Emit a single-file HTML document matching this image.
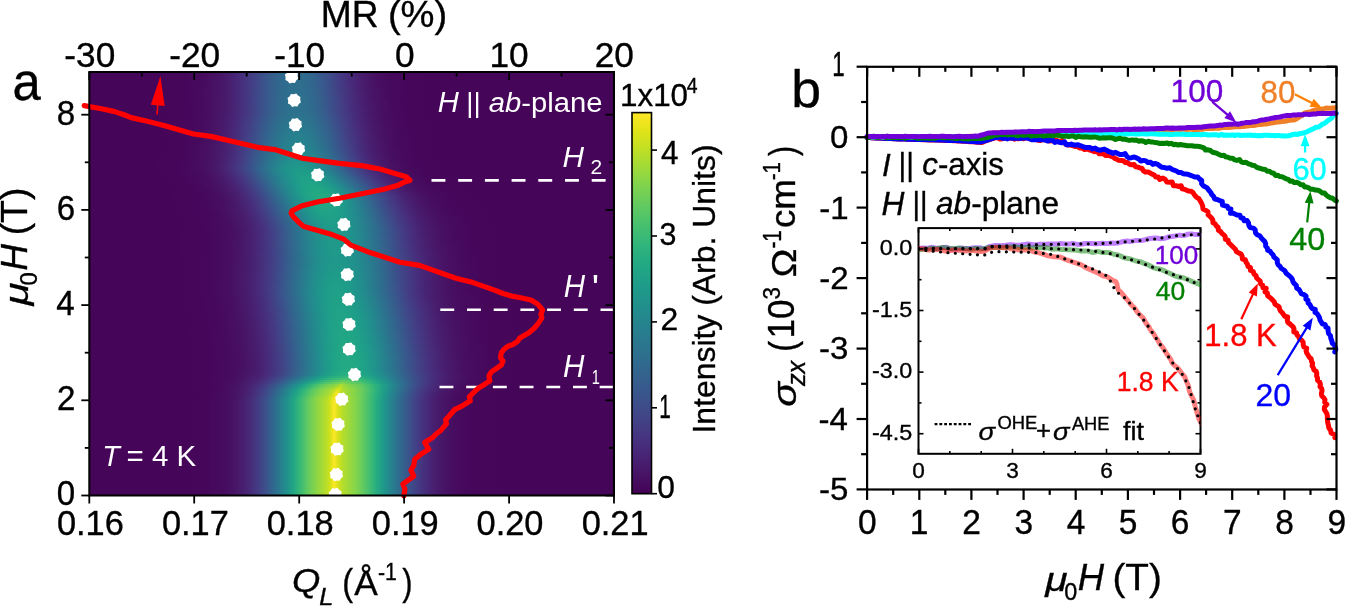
<!DOCTYPE html>
<html><head><meta charset="utf-8"><title>figure</title>
<style>html,body{margin:0;padding:0;background:#fff;}#wrap{position:relative;width:1345px;height:606px;overflow:hidden;background:#fff;}svg{position:absolute;left:0;top:0;}</style>
</head><body><div id="wrap">
<div style="position:absolute;left:89.3px;top:72.0px;width:524.7px;height:3.6px;background:linear-gradient(90deg,#450559 0.0px,#450559 73.8px,#46075a 80.8px,#46075a 94.8px,#46085c 101.8px,#460a5d 108.8px,#460b5e 115.8px,#470d60 120.0px,#470e61 122.8px,#481467 129.8px,#481a6c 136.8px,#482173 143.8px,#472a7a 150.0px,#472c7a 150.8px,#453581 157.8px,#424186 164.8px,#3d4d8a 171.8px,#38588c 178.8px,#375a8c 180.0px,#34618d 185.8px,#32658e 189.8px,#30698e 193.8px,#2f6b8e 197.8px,#2e6d8e 201.8px,#2e6e8e 205.8px,#2e6d8e 209.8px,#2e6d8e 210.0px,#2f6b8e 213.8px,#30698e 217.8px,#32658e 221.8px,#34618d 225.8px,#34608d 226.8px,#39568c 233.8px,#3d4d8a 240.0px,#3e4c8a 240.8px,#424086 247.8px,#463480 254.8px,#482979 261.8px,#482071 268.8px,#481f70 270.0px,#481a6c 275.8px,#471365 282.8px,#470e61 289.8px,#460b5e 296.8px,#460a5d 300.0px,#46085c 303.8px,#46085c 310.8px,#46075a 317.8px,#46075a 331.8px,#450559 338.8px,#450559 524.7px)"></div>
<div style="position:absolute;left:89.3px;top:75.0px;width:524.7px;height:3.6px;background:linear-gradient(90deg,#450559 0.0px,#450559 73.9px,#46075a 80.9px,#46075a 94.9px,#46085c 101.9px,#460a5d 108.9px,#460b5e 115.9px,#470e61 120.0px,#471063 122.9px,#481467 129.9px,#481a6c 136.9px,#482173 143.9px,#472a7a 150.0px,#472c7a 150.9px,#453781 157.9px,#424186 164.9px,#3d4e8a 171.9px,#38598c 178.9px,#375a8c 180.0px,#34618d 185.9px,#31668e 189.9px,#30698e 193.9px,#2f6c8e 197.9px,#2e6d8e 201.9px,#2e6e8e 205.9px,#2e6d8e 209.9px,#2e6d8e 210.0px,#2f6c8e 213.9px,#30698e 217.9px,#31668e 221.9px,#33628d 225.9px,#34608d 226.9px,#39568c 233.9px,#3d4d8a 240.0px,#3e4c8a 240.9px,#424086 247.9px,#463480 254.9px,#472a7a 261.9px,#482071 268.9px,#481f70 270.0px,#481a6c 275.9px,#471365 282.9px,#470e61 289.9px,#460b5e 296.9px,#460a5d 300.0px,#460a5d 303.9px,#46085c 310.9px,#46075a 317.9px,#46075a 331.9px,#450559 338.9px,#450559 524.7px)"></div>
<div style="position:absolute;left:89.3px;top:78.0px;width:524.7px;height:3.6px;background:linear-gradient(90deg,#450559 0.0px,#450559 74.1px,#46075a 81.1px,#46075a 95.1px,#46085c 102.1px,#460a5d 109.1px,#460b5e 116.1px,#470e61 120.0px,#471063 123.1px,#481467 130.1px,#481b6d 137.1px,#482374 144.1px,#472a7a 150.0px,#472c7a 151.1px,#453781 158.1px,#414287 165.1px,#3d4e8a 172.1px,#38598c 179.1px,#375a8c 180.0px,#33628d 186.1px,#31668e 190.1px,#306a8e 194.1px,#2f6c8e 198.1px,#2e6e8e 202.1px,#2e6e8e 210.1px,#2f6c8e 214.1px,#306a8e 218.1px,#31668e 222.1px,#33628d 226.1px,#34618d 227.1px,#38588c 234.1px,#3d4e8a 240.0px,#3e4c8a 241.1px,#424086 248.1px,#463480 255.1px,#472a7a 262.1px,#482173 269.1px,#482071 270.0px,#481a6c 276.1px,#471365 283.1px,#470e61 290.1px,#460b5e 297.1px,#460a5d 300.0px,#460a5d 304.1px,#46085c 311.1px,#46075a 318.1px,#46075a 332.1px,#450559 339.1px,#450559 524.7px)"></div>
<div style="position:absolute;left:89.3px;top:81.0px;width:524.7px;height:3.6px;background:linear-gradient(90deg,#450559 0.0px,#450559 74.2px,#46075a 81.2px,#46075a 95.2px,#46085c 102.2px,#460a5d 109.2px,#460b5e 116.2px,#470e61 120.0px,#471063 123.2px,#481467 130.2px,#481b6d 137.2px,#482374 144.2px,#472a7a 150.0px,#472c7a 151.2px,#453781 158.2px,#414287 165.2px,#3d4e8a 172.2px,#38598c 179.2px,#375a8c 180.0px,#33628d 186.2px,#31678e 190.2px,#306a8e 194.2px,#2e6d8e 198.2px,#2e6e8e 202.2px,#2e6f8e 206.2px,#2e6e8e 210.0px,#2e6e8e 210.2px,#2e6d8e 214.2px,#306a8e 218.2px,#31678e 222.2px,#33628d 226.2px,#34618d 227.2px,#38588c 234.2px,#3c4f8a 240.0px,#3d4d8a 241.2px,#424186 248.2px,#453581 255.2px,#472a7a 262.2px,#482173 269.2px,#482071 270.0px,#481a6c 276.2px,#481467 283.2px,#470e61 290.2px,#460b5e 297.2px,#460a5d 300.0px,#460a5d 304.2px,#46085c 311.2px,#46075a 318.2px,#46075a 332.2px,#450559 339.2px,#450559 524.7px)"></div>
<div style="position:absolute;left:89.3px;top:84.0px;width:524.7px;height:3.6px;background:linear-gradient(90deg,#450559 0.0px,#450559 74.4px,#46075a 81.4px,#46075a 95.4px,#46085c 102.4px,#460a5d 109.4px,#460b5e 116.4px,#470e61 120.0px,#471063 123.4px,#481467 130.4px,#481b6d 137.4px,#482374 144.4px,#472a7a 150.0px,#472d7b 151.4px,#453781 158.4px,#414287 165.4px,#3c4f8a 172.4px,#375a8c 179.4px,#375b8d 180.0px,#33638d 186.4px,#31678e 190.4px,#306a8e 194.4px,#2e6d8e 198.4px,#2e6f8e 202.4px,#2e6f8e 210.4px,#2e6d8e 214.4px,#306a8e 218.4px,#31678e 222.4px,#33638d 226.4px,#34618d 227.4px,#38588c 234.4px,#3c4f8a 240.0px,#3d4d8a 241.4px,#424186 248.4px,#453581 255.4px,#472a7a 262.4px,#482173 269.4px,#482173 270.0px,#481a6c 276.4px,#481467 283.4px,#470e61 290.4px,#460b5e 297.4px,#460b5e 300.0px,#460a5d 304.4px,#46085c 311.4px,#46075a 318.4px,#46075a 332.4px,#450559 339.4px,#450559 524.7px)"></div>
<div style="position:absolute;left:89.3px;top:87.0px;width:524.7px;height:3.6px;background:linear-gradient(90deg,#450559 0.0px,#450559 74.5px,#46075a 81.5px,#46075a 95.5px,#46085c 102.5px,#460a5d 109.5px,#470d60 116.5px,#470e61 120.0px,#471063 123.5px,#481467 130.5px,#481b6d 137.5px,#482374 144.5px,#472a7a 150.0px,#472d7b 151.5px,#453882 158.5px,#414487 165.5px,#3c4f8a 172.5px,#375a8c 179.5px,#375b8d 180.0px,#33638d 186.5px,#31678e 190.5px,#2f6b8e 194.5px,#2e6d8e 198.5px,#2e6f8e 202.5px,#2e6f8e 210.5px,#2e6d8e 214.5px,#2f6b8e 218.5px,#31678e 222.5px,#33638d 226.5px,#33628d 227.5px,#38598c 234.5px,#3c508b 240.0px,#3d4e8a 241.5px,#424186 248.5px,#453581 255.5px,#472c7a 262.5px,#482173 269.5px,#482173 270.0px,#481a6c 276.5px,#481467 283.5px,#471063 290.5px,#460b5e 297.5px,#460b5e 300.0px,#460a5d 304.5px,#46085c 311.5px,#46075a 318.5px,#46075a 332.5px,#450559 339.5px,#450559 524.7px)"></div>
<div style="position:absolute;left:89.3px;top:90.0px;width:524.7px;height:3.6px;background:linear-gradient(90deg,#450559 0.0px,#450559 74.7px,#46075a 81.7px,#46075a 95.7px,#46085c 102.7px,#460a5d 109.7px,#470d60 116.7px,#470e61 120.0px,#471063 123.7px,#481668 130.7px,#481b6d 137.7px,#482475 144.7px,#472a7a 150.0px,#472d7b 151.7px,#453882 158.7px,#414487 165.7px,#3c4f8a 172.7px,#375a8c 179.7px,#375b8d 180.0px,#33638d 186.7px,#31688e 190.7px,#2f6b8e 194.7px,#2e6e8e 198.7px,#2e6f8e 202.7px,#2d708e 206.7px,#2d708e 210.0px,#2e6f8e 210.7px,#2e6e8e 214.7px,#2f6b8e 218.7px,#31688e 222.7px,#33638d 226.7px,#33628d 227.7px,#38598c 234.7px,#3c508b 240.0px,#3d4e8a 241.7px,#424186 248.7px,#453781 255.7px,#472c7a 262.7px,#482374 269.7px,#482173 270.0px,#481b6d 276.7px,#481467 283.7px,#471063 290.7px,#460b5e 297.7px,#460b5e 300.0px,#460a5d 304.7px,#46085c 311.7px,#46075a 318.7px,#46075a 332.7px,#450559 339.7px,#450559 524.7px)"></div>
<div style="position:absolute;left:89.3px;top:93.0px;width:524.7px;height:3.6px;background:linear-gradient(90deg,#450559 0.0px,#450559 74.8px,#46075a 81.8px,#46075a 95.8px,#46085c 102.8px,#460a5d 109.8px,#470d60 116.8px,#470e61 120.0px,#471063 123.8px,#481668 130.8px,#481b6d 137.8px,#482475 144.8px,#472a7a 150.0px,#472d7b 151.8px,#453882 158.8px,#414487 165.8px,#3c508b 172.8px,#375b8d 179.8px,#375b8d 180.0px,#32648e 186.8px,#31688e 190.8px,#2f6c8e 194.8px,#2e6e8e 198.8px,#2d708e 202.8px,#2d708e 210.8px,#2e6e8e 214.8px,#2f6c8e 218.8px,#31688e 222.8px,#32648e 226.8px,#33638d 227.8px,#38598c 234.8px,#3b518b 240.0px,#3d4e8a 241.8px,#414287 248.8px,#453781 255.8px,#472c7a 262.8px,#482374 269.8px,#482374 270.0px,#481b6d 276.8px,#481467 283.8px,#471063 290.8px,#460b5e 297.8px,#460b5e 300.0px,#460a5d 304.8px,#46085c 311.8px,#46075a 318.8px,#46075a 332.8px,#450559 339.8px,#450559 524.7px)"></div>
<div style="position:absolute;left:89.3px;top:96.0px;width:524.7px;height:3.6px;background:linear-gradient(90deg,#450559 0.0px,#450559 75.0px,#46075a 82.0px,#46075a 96.0px,#46085c 103.0px,#460a5d 110.0px,#470d60 117.0px,#470e61 120.0px,#471063 124.0px,#481668 131.0px,#481c6e 138.0px,#482475 145.0px,#472a7a 150.0px,#472e7c 152.0px,#443983 159.0px,#404588 166.0px,#3c508b 173.0px,#375b8d 180.0px,#32648e 187.0px,#31688e 191.0px,#2f6c8e 195.0px,#2e6f8e 199.0px,#2d708e 203.0px,#2d718e 207.0px,#2d708e 210.0px,#2d708e 211.0px,#2e6f8e 215.0px,#2f6c8e 219.0px,#31688e 223.0px,#32648e 227.0px,#33638d 228.0px,#375a8c 235.0px,#3b528b 240.0px,#3c4f8a 242.0px,#414287 249.0px,#453781 256.0px,#472c7a 263.0px,#482374 270.0px,#481b6d 277.0px,#481467 284.0px,#471063 291.0px,#460b5e 298.0px,#460b5e 300.0px,#460a5d 305.0px,#46085c 312.0px,#46075a 319.0px,#46075a 333.0px,#450559 340.0px,#450559 524.7px)"></div>
<div style="position:absolute;left:89.3px;top:99.0px;width:524.7px;height:3.6px;background:linear-gradient(90deg,#450559 0.0px,#450559 75.1px,#46075a 82.1px,#46075a 96.1px,#46085c 103.1px,#460a5d 110.1px,#470d60 117.1px,#470e61 120.0px,#471063 124.1px,#481668 131.1px,#481c6e 138.1px,#482475 145.1px,#472a7a 150.0px,#472e7c 152.1px,#443983 159.1px,#404588 166.1px,#3c508b 173.1px,#375b8d 180.0px,#365c8d 180.1px,#32658e 187.1px,#30698e 191.1px,#2f6c8e 195.1px,#2e6f8e 199.1px,#2d708e 203.1px,#2d718e 207.1px,#2d718e 210.0px,#2d708e 211.1px,#2e6f8e 215.1px,#2f6c8e 219.1px,#30698e 223.1px,#32658e 227.1px,#33638d 228.1px,#375a8c 235.1px,#3b528b 240.0px,#3c4f8a 242.1px,#414487 249.1px,#453882 256.1px,#472d7b 263.1px,#482374 270.0px,#482374 270.1px,#481b6d 277.1px,#481467 284.1px,#471063 291.1px,#470d60 298.1px,#460b5e 300.0px,#460a5d 305.1px,#46085c 312.1px,#46075a 319.1px,#46075a 333.1px,#450559 340.1px,#450559 524.7px)"></div>
<div style="position:absolute;left:89.3px;top:102.0px;width:524.7px;height:3.6px;background:linear-gradient(90deg,#450559 0.0px,#450559 75.3px,#46075a 82.3px,#46075a 96.3px,#46085c 103.3px,#460a5d 110.3px,#470d60 117.3px,#470e61 120.0px,#471164 124.3px,#481668 131.3px,#481c6e 138.3px,#482475 145.3px,#472a7a 150.0px,#472e7c 152.3px,#443983 159.3px,#404588 166.3px,#3b518b 173.3px,#365c8d 180.0px,#365c8d 180.3px,#32658e 187.3px,#30698e 191.3px,#2e6d8e 195.3px,#2e6f8e 199.3px,#2d718e 203.3px,#2d718e 211.3px,#2e6f8e 215.3px,#2e6d8e 219.3px,#30698e 223.3px,#32658e 227.3px,#32648e 228.3px,#375a8c 235.3px,#3a538b 240.0px,#3c4f8a 242.3px,#414487 249.3px,#453882 256.3px,#472d7b 263.3px,#482475 270.0px,#482374 270.3px,#481b6d 277.3px,#481668 284.3px,#471063 291.3px,#470d60 298.3px,#460b5e 300.0px,#460a5d 305.3px,#46085c 312.3px,#46075a 319.3px,#46075a 333.3px,#450559 340.3px,#450559 524.7px)"></div>
<div style="position:absolute;left:89.3px;top:105.0px;width:524.7px;height:3.6px;background:linear-gradient(90deg,#450559 0.0px,#450559 75.4px,#46075a 82.4px,#46075a 96.4px,#46085c 103.4px,#460a5d 110.4px,#470d60 117.4px,#470e61 120.0px,#471164 124.4px,#481668 131.4px,#481c6e 138.4px,#482576 145.4px,#472c7a 150.0px,#472e7c 152.4px,#443a83 159.4px,#404688 166.4px,#3b518b 173.4px,#365c8d 180.0px,#365c8d 180.4px,#32658e 187.4px,#306a8e 191.4px,#2e6d8e 195.4px,#2d708e 199.4px,#2d718e 203.4px,#2c718e 207.4px,#2c718e 210.0px,#2d718e 211.4px,#2d708e 215.4px,#2e6d8e 219.4px,#306a8e 223.4px,#32658e 227.4px,#32648e 228.4px,#375b8d 235.4px,#3a538b 240.0px,#3c508b 242.4px,#414487 249.4px,#453882 256.4px,#472d7b 263.4px,#482475 270.0px,#482475 270.4px,#481b6d 277.4px,#481668 284.4px,#471063 291.4px,#470d60 298.4px,#460b5e 300.0px,#460a5d 305.4px,#46085c 312.4px,#46075a 319.4px,#46075a 333.4px,#450559 340.4px,#450559 524.7px)"></div>
<div style="position:absolute;left:89.3px;top:108.0px;width:524.7px;height:3.6px;background:linear-gradient(90deg,#450559 0.0px,#450559 75.6px,#46075a 82.6px,#46075a 96.6px,#46085c 103.6px,#460a5d 110.6px,#470d60 117.6px,#470e61 120.0px,#471164 124.6px,#481668 131.6px,#481c6e 138.6px,#482576 145.6px,#472c7a 150.0px,#472f7d 152.6px,#443a83 159.6px,#404688 166.6px,#3b528b 173.6px,#365c8d 180.0px,#365d8d 180.6px,#31668e 187.6px,#306a8e 191.6px,#2e6d8e 195.6px,#2d708e 199.6px,#2c718e 203.6px,#2c718e 211.6px,#2d708e 215.6px,#2e6d8e 219.6px,#306a8e 223.6px,#31668e 227.6px,#32648e 228.6px,#375b8d 235.6px,#3a548c 240.0px,#3c508b 242.6px,#414487 249.6px,#453882 256.6px,#472d7b 263.6px,#482475 270.0px,#482475 270.6px,#481c6e 277.6px,#481668 284.6px,#471063 291.6px,#470d60 298.6px,#460b5e 300.0px,#460a5d 305.6px,#46085c 312.6px,#46075a 319.6px,#46075a 333.6px,#450559 340.6px,#450559 524.7px)"></div>
<div style="position:absolute;left:89.3px;top:111.0px;width:524.7px;height:3.6px;background:linear-gradient(90deg,#450559 0.0px,#450559 68.7px,#46075a 75.7px,#46075a 96.7px,#46085c 103.7px,#460a5d 110.7px,#470d60 117.7px,#470e61 120.0px,#471164 124.7px,#481769 131.7px,#481d6f 138.7px,#482576 145.7px,#472c7a 150.0px,#472f7d 152.7px,#443a83 159.7px,#404688 166.7px,#3b528b 173.7px,#365c8d 180.0px,#365d8d 180.7px,#31668e 187.7px,#2f6b8e 191.7px,#2e6e8e 195.7px,#2d718e 199.7px,#2c718e 203.7px,#2c728e 207.7px,#2c728e 210.0px,#2c718e 211.7px,#2d718e 215.7px,#2e6e8e 219.7px,#2f6b8e 223.7px,#31668e 227.7px,#32658e 228.7px,#365c8d 235.7px,#39558c 240.0px,#3b518b 242.7px,#404588 249.7px,#443983 256.7px,#472e7c 263.7px,#482576 270.0px,#482475 270.7px,#481c6e 277.7px,#481668 284.7px,#471063 291.7px,#470d60 298.7px,#460b5e 300.0px,#460a5d 305.7px,#46085c 312.7px,#46075a 319.7px,#46075a 333.7px,#450559 340.7px,#450559 524.7px)"></div>
<div style="position:absolute;left:89.3px;top:114.0px;width:524.7px;height:3.6px;background:linear-gradient(90deg,#450559 0.0px,#450559 68.8px,#46075a 75.8px,#46075a 96.8px,#46085c 103.8px,#460a5d 110.8px,#470d60 117.8px,#470e61 120.0px,#471164 124.8px,#481769 131.8px,#481d6f 138.8px,#482677 145.8px,#472c7a 150.0px,#46307e 152.8px,#443b84 159.8px,#3f4889 166.8px,#3a538b 173.8px,#355e8d 180.0px,#355f8d 180.8px,#31688e 187.8px,#2f6c8e 191.8px,#2d708e 195.8px,#2c718e 199.8px,#2c738e 203.8px,#2b748e 207.8px,#2c738e 210.0px,#2c738e 211.8px,#2c718e 215.8px,#2d708e 219.8px,#2f6c8e 223.8px,#31688e 227.8px,#31678e 228.8px,#365d8d 235.8px,#39568c 240.0px,#3b528b 242.8px,#404688 249.8px,#443a83 256.8px,#472f7d 263.8px,#482576 270.0px,#482576 270.8px,#481c6e 277.8px,#481668 284.8px,#471164 291.8px,#470d60 298.8px,#470d60 300.0px,#460a5d 305.8px,#46085c 312.8px,#46075a 319.8px,#46075a 333.8px,#450559 340.8px,#450559 524.7px)"></div>
<div style="position:absolute;left:89.3px;top:117.0px;width:524.7px;height:3.6px;background:linear-gradient(90deg,#450559 0.0px,#450559 68.9px,#46075a 75.9px,#46075a 96.9px,#46085c 103.9px,#460b5e 110.9px,#470d60 117.9px,#470e61 120.0px,#471164 124.9px,#481769 131.9px,#481f70 138.9px,#482677 145.9px,#472d7b 150.0px,#46327e 152.9px,#433d84 159.9px,#3e4989 166.9px,#39558c 173.9px,#355f8d 180.0px,#34608d 180.9px,#306a8e 187.9px,#2e6e8e 191.9px,#2c718e 195.9px,#2c738e 199.9px,#2b758e 203.9px,#2b758e 211.9px,#2c738e 215.9px,#2c718e 219.9px,#2e6e8e 223.9px,#30698e 227.9px,#31688e 228.9px,#355f8d 235.9px,#38598c 240.0px,#3a538b 242.9px,#3f4788 249.9px,#443b84 256.9px,#472f7d 263.9px,#482677 270.0px,#482576 270.9px,#481d6f 277.9px,#481769 284.9px,#471164 291.9px,#470d60 298.9px,#470d60 300.0px,#460a5d 305.9px,#46085c 312.9px,#46075a 319.9px,#46075a 340.9px,#450559 347.9px,#450559 524.7px)"></div>
<div style="position:absolute;left:89.3px;top:120.0px;width:524.7px;height:3.6px;background:linear-gradient(90deg,#450559 0.0px,#450559 68.9px,#46075a 75.9px,#46075a 96.9px,#46085c 103.9px,#460b5e 110.9px,#470e61 117.9px,#470e61 120.0px,#471365 124.9px,#48186a 131.9px,#481f70 138.9px,#482878 145.9px,#472e7c 150.0px,#46327e 152.9px,#433e85 159.9px,#3e4a89 166.9px,#39568c 173.9px,#34608d 180.0px,#33628d 180.9px,#2f6b8e 187.9px,#2d708e 191.9px,#2c728e 195.9px,#2b758e 199.9px,#2a778e 203.9px,#2a778e 211.9px,#2b758e 215.9px,#2c728e 219.9px,#2d708e 223.9px,#2f6b8e 227.9px,#306a8e 228.9px,#34608d 235.9px,#375a8c 240.0px,#3a548c 242.9px,#3f4889 249.9px,#433d84 256.9px,#46307e 263.9px,#482878 270.0px,#482677 270.9px,#481d6f 277.9px,#481769 284.9px,#471164 291.9px,#470d60 298.9px,#470d60 300.0px,#460a5d 305.9px,#46085c 312.9px,#46075a 319.9px,#46075a 340.9px,#450559 347.9px,#450559 524.7px)"></div>
<div style="position:absolute;left:89.3px;top:123.0px;width:524.7px;height:3.6px;background:linear-gradient(90deg,#450559 0.0px,#450559 69.0px,#46075a 76.0px,#46075a 90.0px,#46085c 97.0px,#46085c 104.0px,#460b5e 111.0px,#470e61 118.0px,#471063 120.0px,#471365 125.0px,#48186a 132.0px,#481f70 139.0px,#482878 146.0px,#472e7c 150.0px,#46337f 153.0px,#423f85 160.0px,#3e4c8a 167.0px,#38588c 174.0px,#33628d 180.0px,#33638d 181.0px,#2e6d8e 188.0px,#2d718e 192.0px,#2b748e 196.0px,#2a778e 200.0px,#29798e 204.0px,#29798e 212.0px,#2a778e 216.0px,#2b748e 220.0px,#2d718e 224.0px,#2e6d8e 228.0px,#2f6c8e 229.0px,#33628d 236.0px,#375b8d 240.0px,#39568c 243.0px,#3e4989 250.0px,#433e85 257.0px,#46327e 264.0px,#482979 270.0px,#482677 271.0px,#481f70 278.0px,#481769 285.0px,#471164 292.0px,#470d60 299.0px,#470d60 300.0px,#460b5e 306.0px,#46085c 313.0px,#46075a 320.0px,#46075a 341.0px,#450559 348.0px,#450559 524.7px)"></div>
<div style="position:absolute;left:89.3px;top:126.0px;width:524.7px;height:3.6px;background:linear-gradient(90deg,#450559 0.0px,#450559 69.1px,#46075a 76.1px,#46075a 90.1px,#46085c 97.1px,#46085c 104.1px,#460b5e 111.1px,#470e61 118.1px,#471063 120.0px,#471365 125.1px,#48186a 132.1px,#482071 139.1px,#482979 146.1px,#472f7d 150.0px,#463480 153.1px,#424086 160.1px,#3d4d8a 167.1px,#375a8c 174.1px,#33638d 180.0px,#32658e 181.1px,#2e6e8e 188.1px,#2c728e 192.1px,#2a768e 196.1px,#29798e 200.1px,#297a8e 204.1px,#297b8e 208.1px,#297b8e 210.0px,#297a8e 212.1px,#29798e 216.1px,#2a768e 220.1px,#2c728e 224.1px,#2e6e8e 228.1px,#2e6d8e 229.1px,#33638d 236.1px,#365d8d 240.0px,#38588c 243.1px,#3e4a89 250.1px,#433e85 257.1px,#46327e 264.1px,#482979 270.0px,#482878 271.1px,#481f70 278.1px,#48186a 285.1px,#471365 292.1px,#470e61 299.1px,#470d60 300.0px,#460b5e 306.1px,#46085c 313.1px,#46075a 320.1px,#46075a 341.1px,#450559 348.1px,#450559 524.7px)"></div>
<div style="position:absolute;left:89.3px;top:129.0px;width:524.7px;height:3.6px;background:linear-gradient(90deg,#450559 0.0px,#450559 69.2px,#46075a 76.2px,#46075a 90.2px,#46085c 97.2px,#460a5d 104.2px,#460b5e 111.2px,#470e61 118.2px,#471063 120.0px,#471365 125.2px,#481a6c 132.2px,#482071 139.2px,#472a7a 146.2px,#472f7d 150.0px,#453581 153.2px,#424186 160.2px,#3d4e8a 167.2px,#375b8d 174.2px,#32648e 180.0px,#31668e 181.2px,#2d708e 188.2px,#2b748e 192.2px,#2a788e 196.2px,#297a8e 200.2px,#287c8e 204.2px,#287d8e 208.2px,#287d8e 210.0px,#287c8e 212.2px,#297a8e 216.2px,#2a788e 220.2px,#2b748e 224.2px,#2d708e 228.2px,#2e6f8e 229.2px,#32658e 236.2px,#355e8d 240.0px,#38598c 243.2px,#3d4d8a 250.2px,#423f85 257.2px,#46337f 264.2px,#472a7a 270.0px,#482979 271.2px,#481f70 278.2px,#48186a 285.2px,#471365 292.2px,#470e61 299.2px,#470e61 300.0px,#460b5e 306.2px,#46085c 313.2px,#46085c 320.2px,#46075a 327.2px,#46075a 341.2px,#450559 348.2px,#450559 524.7px)"></div>
<div style="position:absolute;left:89.3px;top:132.0px;width:524.7px;height:3.6px;background:linear-gradient(90deg,#450559 0.0px,#450559 69.3px,#46075a 76.3px,#46075a 90.3px,#46085c 97.3px,#460a5d 104.3px,#460b5e 111.3px,#470e61 118.3px,#471063 120.0px,#481467 125.3px,#481a6c 132.3px,#482173 139.3px,#472a7a 146.3px,#46307e 150.0px,#453581 153.3px,#414287 160.3px,#3c4f8a 167.3px,#365c8d 174.3px,#31668e 180.0px,#31688e 181.3px,#2c718e 188.3px,#2b758e 192.3px,#29798e 196.3px,#287c8e 200.3px,#277e8e 204.3px,#277f8e 208.3px,#277e8e 210.0px,#277e8e 212.3px,#287c8e 216.3px,#29798e 220.3px,#2b758e 224.3px,#2c718e 228.3px,#2d708e 229.3px,#31668e 236.3px,#34608d 240.0px,#375a8c 243.3px,#3d4e8a 250.3px,#424086 257.3px,#463480 264.3px,#472c7a 270.0px,#482979 271.3px,#482071 278.3px,#48186a 285.3px,#471365 292.3px,#470e61 299.3px,#470e61 300.0px,#460b5e 306.3px,#46085c 313.3px,#46085c 320.3px,#46075a 327.3px,#46075a 341.3px,#450559 348.3px,#450559 524.7px)"></div>
<div style="position:absolute;left:89.3px;top:135.0px;width:524.7px;height:3.6px;background:linear-gradient(90deg,#450559 0.0px,#450559 69.3px,#46075a 76.3px,#46075a 90.3px,#46085c 97.3px,#460a5d 104.3px,#460b5e 111.3px,#470e61 118.3px,#471063 120.0px,#481467 125.3px,#481a6c 132.3px,#482173 139.3px,#472c7a 146.3px,#46327e 150.0px,#453781 153.3px,#414487 160.3px,#3c508b 167.3px,#365d8d 174.3px,#31678e 180.0px,#30698e 181.3px,#2c728e 188.3px,#2a778e 192.3px,#297b8e 196.3px,#277e8e 200.3px,#27808e 204.3px,#27808e 212.3px,#277e8e 216.3px,#297b8e 220.3px,#2a778e 224.3px,#2c728e 228.3px,#2c718e 229.3px,#31688e 236.3px,#34618d 240.0px,#365c8d 243.3px,#3c4f8a 250.3px,#424186 257.3px,#453581 264.3px,#472c7a 270.0px,#472a7a 271.3px,#482071 278.3px,#481a6c 285.3px,#471365 292.3px,#470e61 299.3px,#470e61 300.0px,#460b5e 306.3px,#460a5d 313.3px,#46085c 320.3px,#46075a 327.3px,#46075a 341.3px,#450559 348.3px,#450559 524.7px)"></div>
<div style="position:absolute;left:89.3px;top:138.0px;width:524.7px;height:3.6px;background:linear-gradient(90deg,#450559 0.0px,#450559 69.4px,#46075a 76.4px,#46075a 90.4px,#46085c 97.4px,#460a5d 104.4px,#460b5e 111.4px,#471063 118.4px,#471063 120.0px,#481467 125.4px,#481b6d 132.4px,#482374 139.4px,#472d7b 146.4px,#46327e 150.0px,#453882 153.4px,#404588 160.4px,#3b528b 167.4px,#355f8d 174.4px,#31688e 180.0px,#2f6b8e 181.4px,#2b748e 188.4px,#29798e 192.4px,#287d8e 196.4px,#27808e 200.4px,#26828e 204.4px,#26828e 212.4px,#27808e 216.4px,#287d8e 220.4px,#29798e 224.4px,#2b748e 228.4px,#2c738e 229.4px,#30698e 236.4px,#33638d 240.0px,#365d8d 243.4px,#3c508b 250.4px,#414287 257.4px,#453781 264.4px,#472d7b 270.0px,#472a7a 271.4px,#482173 278.4px,#481a6c 285.4px,#471365 292.4px,#470e61 299.4px,#470e61 300.0px,#460b5e 306.4px,#460a5d 313.4px,#46085c 320.4px,#46075a 327.4px,#46075a 341.4px,#450559 348.4px,#450559 524.7px)"></div>
<div style="position:absolute;left:89.3px;top:141.0px;width:524.7px;height:3.6px;background:linear-gradient(90deg,#450559 0.0px,#450559 69.5px,#46075a 76.5px,#46075a 90.5px,#46085c 97.5px,#460a5d 104.5px,#460b5e 111.5px,#471063 118.5px,#471063 120.0px,#481467 125.5px,#481b6d 132.5px,#482374 139.5px,#472d7b 146.5px,#46337f 150.0px,#443983 153.5px,#404688 160.5px,#3a538b 167.5px,#34608d 174.5px,#306a8e 180.0px,#2f6c8e 181.5px,#2a768e 188.5px,#297b8e 192.5px,#277f8e 196.5px,#26828e 200.5px,#26828e 204.5px,#25838e 208.5px,#25838e 210.0px,#26828e 212.5px,#26828e 216.5px,#277f8e 220.5px,#297b8e 224.5px,#2a768e 228.5px,#2b748e 229.5px,#306a8e 236.5px,#32658e 240.0px,#355e8d 243.5px,#3b518b 250.5px,#414487 257.5px,#453781 264.5px,#472e7c 270.0px,#472c7a 271.5px,#482173 278.5px,#481a6c 285.5px,#481467 292.5px,#470e61 299.5px,#470e61 300.0px,#460b5e 306.5px,#460a5d 313.5px,#46085c 320.5px,#46075a 327.5px,#46075a 341.5px,#450559 348.5px,#450559 524.7px)"></div>
<div style="position:absolute;left:89.3px;top:144.0px;width:524.7px;height:3.6px;background:linear-gradient(90deg,#450559 0.0px,#450559 69.6px,#46075a 76.6px,#46075a 90.6px,#46085c 97.6px,#460a5d 104.6px,#470d60 111.6px,#471063 118.6px,#471164 120.0px,#481668 125.6px,#481b6d 132.6px,#482475 139.6px,#472e7c 146.6px,#46337f 150.0px,#443a83 153.6px,#3f4788 160.6px,#3a548c 167.6px,#33628d 174.6px,#2f6b8e 180.0px,#2e6e8e 181.6px,#2a778e 188.6px,#287c8e 192.6px,#27808e 196.6px,#26828e 200.6px,#25848e 204.6px,#25858e 208.6px,#25858e 210.0px,#25848e 212.6px,#26828e 216.6px,#27808e 220.6px,#287c8e 224.6px,#2a778e 228.6px,#2a768e 229.6px,#2f6c8e 236.6px,#31668e 240.0px,#34608d 243.6px,#3b528b 250.6px,#404588 257.6px,#453882 264.6px,#472f7d 270.0px,#472d7b 271.6px,#482374 278.6px,#481b6d 285.6px,#481467 292.6px,#471063 299.6px,#470e61 300.0px,#460b5e 306.6px,#460a5d 313.6px,#46085c 320.6px,#46075a 327.6px,#46075a 341.6px,#450559 348.6px,#450559 524.7px)"></div>
<div style="position:absolute;left:89.3px;top:147.0px;width:524.7px;height:3.6px;background:linear-gradient(90deg,#450559 0.0px,#450559 69.7px,#46075a 76.7px,#46075a 90.7px,#46085c 97.7px,#460a5d 104.7px,#470d60 111.7px,#471063 118.7px,#471164 120.0px,#481668 125.7px,#481c6e 132.7px,#482475 139.7px,#472f7d 146.7px,#463480 150.0px,#443a83 153.7px,#3f4889 160.7px,#39558c 167.7px,#33638d 174.7px,#2f6c8e 180.0px,#2e6f8e 181.7px,#29798e 188.7px,#277e8e 192.7px,#26828e 196.7px,#25848e 200.7px,#24868e 204.7px,#24878e 208.7px,#24878e 210.0px,#24868e 212.7px,#25848e 216.7px,#26828e 220.7px,#277e8e 224.7px,#29798e 228.7px,#2a778e 229.7px,#2e6d8e 236.7px,#31688e 240.0px,#34618d 243.7px,#3a538b 250.7px,#404688 257.7px,#443983 264.7px,#472f7d 270.0px,#472d7b 271.7px,#482374 278.7px,#481b6d 285.7px,#481467 292.7px,#471063 299.7px,#471063 300.0px,#460b5e 306.7px,#460a5d 313.7px,#46085c 320.7px,#46075a 327.7px,#46075a 341.7px,#450559 348.7px,#450559 524.7px)"></div>
<div style="position:absolute;left:89.3px;top:150.0px;width:524.7px;height:2.6px;background:linear-gradient(90deg,#450559 0.0px,#450559 69.8px,#46075a 76.8px,#46075a 90.8px,#46085c 97.8px,#460a5d 104.8px,#470d60 111.8px,#471063 118.8px,#471164 120.0px,#481668 125.8px,#481c6e 132.8px,#482576 139.8px,#472f7d 146.8px,#453581 150.0px,#443b84 153.8px,#3e4989 160.8px,#39568c 167.8px,#32648e 174.8px,#2e6e8e 180.0px,#2d718e 181.8px,#297b8e 188.8px,#27808e 192.8px,#25838e 196.8px,#24868e 200.8px,#23888e 204.8px,#23898e 208.8px,#23898e 210.0px,#23888e 212.8px,#24868e 216.8px,#25838e 220.8px,#27808e 224.8px,#297b8e 228.8px,#29798e 229.8px,#2e6f8e 236.8px,#30698e 240.0px,#33628d 243.8px,#39558c 250.8px,#3f4788 257.8px,#443a83 264.8px,#46307e 270.0px,#472e7c 271.8px,#482475 278.8px,#481b6d 285.8px,#481467 292.8px,#471063 299.8px,#471063 300.0px,#470d60 306.8px,#460a5d 313.8px,#46085c 320.8px,#46075a 327.8px,#46075a 341.8px,#450559 348.8px,#450559 524.7px)"></div>
<div style="position:absolute;left:89.3px;top:152.0px;width:524.7px;height:2.6px;background:linear-gradient(90deg,#450559 0.0px,#450559 70.0px,#46075a 77.0px,#46075a 91.0px,#46085c 98.0px,#460a5d 105.0px,#470d60 112.0px,#471164 119.0px,#471164 120.0px,#481668 126.0px,#481d6f 133.0px,#482576 140.0px,#46307e 147.0px,#453581 150.0px,#433d84 154.0px,#3e4a89 161.0px,#38598c 168.0px,#31668e 175.0px,#2e6f8e 180.0px,#2c718e 182.0px,#287d8e 189.0px,#26828e 193.0px,#25858e 197.0px,#23888e 201.0px,#238a8d 205.0px,#228b8d 209.0px,#228b8d 210.0px,#238a8d 213.0px,#23888e 217.0px,#25858e 221.0px,#26828e 225.0px,#287d8e 229.0px,#297b8e 230.0px,#2d718e 237.0px,#2f6b8e 240.0px,#32648e 244.0px,#39568c 251.0px,#3f4889 258.0px,#443b84 265.0px,#46327e 270.0px,#472f7d 272.0px,#482475 279.0px,#481c6e 286.0px,#481668 293.0px,#471063 300.0px,#470d60 307.0px,#460a5d 314.0px,#46085c 321.0px,#46075a 328.0px,#46075a 342.0px,#450559 349.0px,#450559 524.7px)"></div>
<div style="position:absolute;left:89.3px;top:154.0px;width:524.7px;height:2.6px;background:linear-gradient(90deg,#450559 0.0px,#450559 63.2px,#46075a 70.2px,#46075a 91.2px,#46085c 98.2px,#460a5d 105.2px,#470d60 112.2px,#471164 119.2px,#471164 120.0px,#481769 126.2px,#481d6f 133.2px,#482677 140.2px,#46327e 147.2px,#453781 150.0px,#433e85 154.2px,#3e4c8a 161.2px,#375a8c 168.2px,#31678e 175.2px,#2d708e 180.0px,#2c738e 182.2px,#277e8e 189.2px,#25838e 193.2px,#24878e 197.2px,#238a8d 201.2px,#228c8d 205.2px,#228d8d 209.2px,#228d8d 210.0px,#228c8d 213.2px,#238a8d 217.2px,#24878e 221.2px,#25838e 225.2px,#277f8e 229.2px,#287d8e 230.2px,#2c728e 237.2px,#2e6e8e 240.0px,#31668e 244.2px,#38588c 251.2px,#3e4989 258.2px,#433d84 265.2px,#46337f 270.0px,#472f7d 272.2px,#482576 279.2px,#481c6e 286.2px,#481668 293.2px,#471164 300.0px,#471063 300.2px,#470d60 307.2px,#460a5d 314.2px,#46085c 321.2px,#46075a 328.2px,#46075a 342.2px,#450559 349.2px,#450559 524.7px)"></div>
<div style="position:absolute;left:89.3px;top:156.0px;width:524.7px;height:2.6px;background:linear-gradient(90deg,#450559 0.0px,#450559 63.4px,#46075a 70.4px,#46075a 91.4px,#46085c 98.4px,#460a5d 105.4px,#470d60 112.4px,#471164 119.4px,#471164 120.0px,#481769 126.4px,#481d6f 133.4px,#482677 140.4px,#46327e 147.4px,#453781 150.0px,#423f85 154.4px,#3d4d8a 161.4px,#375b8d 168.4px,#30698e 175.4px,#2c718e 180.0px,#2b758e 182.4px,#27808e 189.4px,#25858e 193.4px,#23898e 197.4px,#228c8d 201.4px,#218e8d 205.4px,#218f8d 209.4px,#218f8d 210.0px,#218e8d 213.4px,#228c8d 217.4px,#23898e 221.4px,#25858e 225.4px,#27808e 229.4px,#277f8e 230.4px,#2c738e 237.4px,#2d708e 240.0px,#31678e 244.4px,#375a8c 251.4px,#3e4c8a 258.4px,#433e85 265.4px,#463480 270.0px,#46307e 272.4px,#482576 279.4px,#481d6f 286.4px,#481668 293.4px,#471164 300.0px,#471164 300.4px,#470d60 307.4px,#460a5d 314.4px,#46085c 321.4px,#46075a 328.4px,#46075a 342.4px,#450559 349.4px,#450559 524.7px)"></div>
<div style="position:absolute;left:89.3px;top:158.0px;width:524.7px;height:2.6px;background:linear-gradient(90deg,#450559 0.0px,#450559 63.6px,#46075a 70.6px,#46075a 91.6px,#46085c 98.6px,#460a5d 105.6px,#470d60 112.6px,#471164 119.6px,#471164 120.0px,#481769 126.6px,#481f70 133.6px,#482878 140.6px,#46337f 147.6px,#453882 150.0px,#424086 154.6px,#3d4e8a 161.6px,#365d8d 168.6px,#2f6b8e 175.6px,#2c728e 180.0px,#2a778e 182.6px,#26828e 189.6px,#24878e 193.6px,#228b8d 197.6px,#218f8d 201.6px,#21918c 205.6px,#21918c 213.6px,#218f8d 217.6px,#228b8d 221.6px,#24878e 225.6px,#26828e 229.6px,#26818e 230.6px,#2b758e 237.6px,#2c718e 240.0px,#30698e 244.6px,#375b8d 251.6px,#3d4d8a 258.6px,#433e85 265.6px,#453781 270.0px,#46327e 272.6px,#482677 279.6px,#481d6f 286.6px,#481769 293.6px,#471164 300.0px,#471164 300.6px,#470d60 307.6px,#460a5d 314.6px,#46085c 321.6px,#46075a 328.6px,#46075a 349.6px,#450559 356.6px,#450559 524.7px)"></div>
<div style="position:absolute;left:89.3px;top:160.0px;width:524.7px;height:2.6px;background:linear-gradient(90deg,#450559 0.0px,#450559 63.9px,#46075a 70.9px,#46075a 91.9px,#46085c 98.9px,#460b5e 105.9px,#470e61 112.9px,#471365 119.9px,#471365 120.0px,#48186a 126.9px,#481f70 133.9px,#482979 140.9px,#463480 147.9px,#453882 150.0px,#424186 154.9px,#3c508b 161.9px,#355e8d 168.9px,#2f6c8e 175.9px,#2c738e 180.0px,#29798e 182.9px,#25838e 189.9px,#23898e 193.9px,#228d8d 197.9px,#21918c 201.9px,#20928c 205.9px,#20928c 213.9px,#21918c 217.9px,#228d8d 221.9px,#23898e 225.9px,#25838e 229.9px,#26828e 230.9px,#2a778e 237.9px,#2c738e 240.0px,#306a8e 244.9px,#365c8d 251.9px,#3d4e8a 258.9px,#423f85 265.9px,#453882 270.0px,#46337f 272.9px,#482878 279.9px,#481d6f 286.9px,#481769 293.9px,#471365 300.0px,#471164 300.9px,#470d60 307.9px,#460a5d 314.9px,#46085c 321.9px,#46075a 328.9px,#46075a 349.9px,#450559 356.9px,#450559 524.7px)"></div>
<div style="position:absolute;left:89.3px;top:162.0px;width:524.7px;height:2.6px;background:linear-gradient(90deg,#450559 0.0px,#450559 64.1px,#46075a 71.1px,#46075a 90.0px,#46085c 92.1px,#46085c 99.1px,#460b5e 106.1px,#470e61 113.1px,#471365 120.0px,#471365 120.1px,#48186a 127.1px,#482071 134.1px,#482979 141.1px,#453581 148.1px,#443983 150.0px,#414287 155.1px,#3b518b 162.1px,#34608d 169.1px,#2e6e8e 176.1px,#2b758e 180.0px,#297a8e 183.1px,#25858e 190.1px,#228b8d 194.1px,#218f8d 198.1px,#20928c 202.1px,#1f948c 206.1px,#1f958b 210.0px,#1f958b 210.1px,#1f948c 214.1px,#20928c 218.1px,#218f8d 222.1px,#228b8d 226.1px,#25858e 230.1px,#25848e 231.1px,#29798e 238.1px,#2b758e 240.0px,#2f6c8e 245.1px,#355e8d 252.1px,#3c4f8a 259.1px,#424186 266.1px,#443983 270.0px,#463480 273.1px,#482878 280.1px,#481f70 287.1px,#48186a 294.1px,#471365 300.0px,#471164 301.1px,#470e61 308.1px,#460b5e 315.1px,#46085c 322.1px,#46075a 329.1px,#46075a 350.1px,#450559 357.1px,#450559 524.7px)"></div>
<div style="position:absolute;left:89.3px;top:164.0px;width:524.7px;height:2.6px;background:linear-gradient(90deg,#450559 0.0px,#450559 64.3px,#46075a 71.3px,#46075a 90.0px,#46085c 92.3px,#46085c 99.3px,#460b5e 106.3px,#470e61 113.3px,#471365 120.0px,#471365 120.3px,#48186a 127.3px,#482071 134.3px,#472a7a 141.3px,#453781 148.3px,#443983 150.0px,#414487 155.3px,#3b528b 162.3px,#34618d 169.3px,#2d708e 176.3px,#2a768e 180.0px,#287c8e 183.3px,#24878e 190.3px,#228d8d 194.3px,#20928c 198.3px,#1f948c 202.3px,#1f968b 206.3px,#1f978b 210.0px,#1f978b 210.3px,#1f968b 214.3px,#1f948c 218.3px,#20928c 222.3px,#228d8d 226.3px,#24878e 230.3px,#24868e 231.3px,#297b8e 238.3px,#2a778e 240.0px,#2e6e8e 245.3px,#355f8d 252.3px,#3b518b 259.3px,#414287 266.3px,#443b84 270.0px,#453581 273.3px,#482979 280.3px,#482071 287.3px,#48186a 294.3px,#471365 300.0px,#471365 301.3px,#470e61 308.3px,#460b5e 315.3px,#46085c 322.3px,#46085c 329.3px,#46075a 330.0px,#46075a 350.3px,#450559 357.3px,#450559 524.7px)"></div>
<div style="position:absolute;left:89.3px;top:166.0px;width:524.7px;height:2.6px;background:linear-gradient(90deg,#450559 0.0px,#450559 64.5px,#46075a 71.5px,#46075a 90.0px,#46085c 92.5px,#460a5d 99.5px,#460b5e 106.5px,#470e61 113.5px,#471365 120.0px,#471365 120.5px,#481a6c 127.5px,#482173 134.5px,#472c7a 141.5px,#453781 148.5px,#443a83 150.0px,#404588 155.5px,#3a538b 162.5px,#33628d 169.5px,#2d718e 176.5px,#2a778e 180.0px,#277e8e 183.5px,#23898e 190.5px,#218f8d 194.5px,#20938c 198.5px,#1f968b 202.5px,#1f988b 206.5px,#1f998a 210.0px,#1f998a 210.5px,#1f988b 214.5px,#1f968b 218.5px,#20938c 222.5px,#218f8d 226.5px,#23898e 230.5px,#23888e 231.5px,#287d8e 238.5px,#297a8e 240.0px,#2d708e 245.5px,#34618d 252.5px,#3b528b 259.5px,#414487 266.5px,#433d84 270.0px,#453781 273.5px,#472a7a 280.5px,#482071 287.5px,#48186a 294.5px,#481467 300.0px,#471365 301.5px,#470e61 308.5px,#460b5e 315.5px,#46085c 322.5px,#46085c 330.0px,#46075a 336.5px,#46075a 350.5px,#450559 357.5px,#450559 524.7px)"></div>
<div style="position:absolute;left:89.3px;top:168.0px;width:524.7px;height:2.6px;background:linear-gradient(90deg,#450559 0.0px,#450559 64.7px,#46075a 71.7px,#46075a 90.0px,#46085c 92.7px,#460a5d 99.7px,#460b5e 106.7px,#470e61 113.7px,#471365 120.0px,#471365 120.7px,#481a6c 127.7px,#482173 134.7px,#472c7a 141.7px,#453882 148.7px,#443a83 150.0px,#404688 155.7px,#3a548c 162.7px,#32648e 169.7px,#2c728e 176.7px,#2a788e 180.0px,#27808e 183.7px,#228b8d 190.7px,#21918c 194.7px,#1f958b 198.7px,#1f988b 202.7px,#1f9a8a 206.7px,#1e9b8a 210.0px,#1e9b8a 210.7px,#1f9a8a 214.7px,#1f988b 218.7px,#1f958b 222.7px,#21918c 226.7px,#228b8d 230.7px,#238a8d 231.7px,#277e8e 238.7px,#287c8e 240.0px,#2d718e 245.7px,#33638d 252.7px,#3a538b 259.7px,#404588 266.7px,#433e85 270.0px,#453882 273.7px,#472c7a 280.7px,#482173 287.7px,#481a6c 294.7px,#481467 300.0px,#471365 301.7px,#470e61 308.7px,#460b5e 315.7px,#460a5d 322.7px,#46085c 329.7px,#46085c 330.0px,#46075a 336.7px,#46075a 350.7px,#450559 357.7px,#450559 524.7px)"></div>
<div style="position:absolute;left:89.3px;top:170.0px;width:524.7px;height:2.6px;background:linear-gradient(90deg,#450559 0.0px,#450559 66.3px,#46075a 73.3px,#46075a 90.0px,#46085c 94.3px,#460a5d 101.3px,#460b5e 108.3px,#470e61 115.3px,#471164 120.0px,#481467 122.3px,#481a6c 129.3px,#482374 136.3px,#472d7b 143.3px,#453882 150.0px,#443983 150.3px,#3f4788 157.3px,#39558c 164.3px,#32658e 171.3px,#2c738e 178.3px,#2a768e 180.0px,#26818e 185.3px,#228c8d 192.3px,#20928c 196.3px,#1f968b 200.3px,#1f9a8a 204.3px,#1e9c89 208.3px,#1e9c89 216.3px,#1f9a8a 220.3px,#1f968b 224.3px,#20928c 228.3px,#228d8d 232.3px,#228b8d 233.3px,#27808e 240.0px,#27808e 240.3px,#2c718e 247.3px,#32648e 254.3px,#3a548c 261.3px,#404688 268.3px,#414287 270.0px,#453882 275.3px,#472c7a 282.3px,#482173 289.3px,#481a6c 296.3px,#481769 300.0px,#481467 303.3px,#470e61 310.3px,#460b5e 317.3px,#460a5d 324.3px,#46085c 330.0px,#46085c 331.3px,#46075a 338.3px,#46075a 352.3px,#450559 359.3px,#450559 524.7px)"></div>
<div style="position:absolute;left:89.3px;top:172.0px;width:524.7px;height:2.6px;background:linear-gradient(90deg,#450559 0.0px,#450559 67.8px,#46075a 74.8px,#46075a 90.0px,#46085c 95.8px,#460a5d 102.8px,#460b5e 109.8px,#471063 116.8px,#471164 120.0px,#481467 123.8px,#481b6d 130.8px,#482374 137.8px,#472d7b 144.8px,#453581 150.0px,#443983 151.8px,#3f4788 158.8px,#39568c 165.8px,#31668e 172.8px,#2b748e 179.8px,#2b748e 180.0px,#26828e 186.8px,#218e8d 193.8px,#20928c 197.8px,#1f978b 201.8px,#1e9b8a 205.8px,#1e9d89 209.8px,#1e9d89 210.0px,#1f9e89 213.8px,#1e9d89 217.8px,#1e9b8a 221.8px,#1f978b 225.8px,#20938c 229.8px,#218e8d 233.8px,#228c8d 234.8px,#25838e 240.0px,#26818e 241.8px,#2c738e 248.8px,#32658e 255.8px,#39558c 262.8px,#3f4788 269.8px,#3f4788 270.0px,#443983 276.8px,#472d7b 283.8px,#482374 290.8px,#481b6d 297.8px,#48186a 300.0px,#481467 304.8px,#471063 311.8px,#460b5e 318.8px,#460a5d 325.8px,#46085c 330.0px,#46085c 332.8px,#46075a 339.8px,#46075a 353.8px,#450559 360.0px,#450559 524.7px)"></div>
<div style="position:absolute;left:89.3px;top:174.0px;width:524.7px;height:2.6px;background:linear-gradient(90deg,#450559 0.0px,#450559 69.4px,#46075a 76.4px,#46075a 90.4px,#46085c 97.4px,#460a5d 104.4px,#460b5e 111.4px,#471063 118.4px,#471063 120.0px,#481467 125.4px,#481b6d 132.4px,#482374 139.4px,#472e7c 146.4px,#463480 150.0px,#443a83 153.4px,#3f4889 160.4px,#38588c 167.4px,#31678e 174.4px,#2c728e 180.0px,#2b758e 181.4px,#26828e 188.4px,#218f8d 195.4px,#1f948c 199.4px,#1f998a 203.4px,#1e9c89 207.4px,#1f9e89 210.0px,#1f9e89 211.4px,#1f9f88 215.4px,#1f9e89 219.4px,#1e9c89 223.4px,#1f998a 227.4px,#1f948c 231.4px,#218f8d 235.4px,#218e8d 236.4px,#23888e 240.0px,#26828e 243.4px,#2b748e 250.4px,#31668e 257.4px,#39568c 264.4px,#3e4a89 270.0px,#3f4889 271.4px,#443a83 278.4px,#472e7c 285.4px,#482475 292.4px,#481b6d 299.4px,#481b6d 300.0px,#481467 306.4px,#471063 313.4px,#470d60 320.4px,#460a5d 327.4px,#46085c 330.0px,#46085c 334.4px,#46075a 341.4px,#46075a 360.0px,#450559 362.4px,#450559 524.7px)"></div>
<div style="position:absolute;left:89.3px;top:176.0px;width:524.7px;height:2.6px;background:linear-gradient(90deg,#450559 0.0px,#450559 70.9px,#46075a 77.9px,#46075a 91.9px,#46085c 98.9px,#460a5d 105.9px,#460b5e 112.9px,#471063 119.9px,#471063 120.0px,#481467 126.9px,#481b6d 133.9px,#482475 140.9px,#472e7c 147.9px,#46327e 150.0px,#443a83 154.9px,#3e4989 161.9px,#38598c 168.9px,#31688e 175.9px,#2d718e 180.0px,#2a768e 182.9px,#25838e 189.9px,#21908d 196.9px,#1f958b 200.9px,#1f9a8a 204.9px,#1e9d89 208.9px,#1f9e89 210.0px,#1fa088 212.9px,#1fa088 220.9px,#1f9e89 224.9px,#1f9a8a 228.9px,#1f958b 232.9px,#21918c 236.9px,#218f8d 237.9px,#228c8d 240.0px,#25838e 244.9px,#2b758e 251.9px,#31678e 258.9px,#38598c 265.9px,#3c4f8a 270.0px,#3e4989 272.9px,#443b84 279.9px,#472f7d 286.9px,#482475 293.9px,#481c6e 300.0px,#481c6e 300.9px,#481668 307.9px,#471063 314.9px,#470d60 321.9px,#460a5d 328.9px,#460a5d 330.0px,#46085c 335.9px,#46075a 342.9px,#46075a 360.0px,#450559 363.9px,#450559 524.7px)"></div>
<div style="position:absolute;left:89.3px;top:178.0px;width:524.7px;height:2.6px;background:linear-gradient(90deg,#450559 0.0px,#450559 72.5px,#46075a 79.5px,#46075a 93.5px,#46085c 100.5px,#460a5d 107.5px,#470d60 114.5px,#470e61 120.0px,#471063 121.5px,#481467 128.5px,#481b6d 135.5px,#482475 142.5px,#472f7d 149.5px,#472f7d 150.0px,#443b84 156.5px,#3e4989 163.5px,#375a8c 170.5px,#30698e 177.5px,#2e6e8e 180.0px,#2a778e 184.5px,#25858e 191.5px,#21918c 198.5px,#1f968b 202.5px,#1e9b8a 206.5px,#1f9e89 210.0px,#1f9f88 210.5px,#1fa188 214.5px,#1fa187 218.5px,#1fa188 222.5px,#1f9f88 226.5px,#1e9b8a 230.5px,#1f978b 234.5px,#20928c 238.5px,#21908d 239.5px,#21908d 240.0px,#25848e 246.5px,#2a768e 253.5px,#31688e 260.5px,#375a8c 267.5px,#3a538b 270.0px,#3e4a89 274.5px,#433d84 281.5px,#472f7d 288.5px,#482576 295.5px,#481f70 300.0px,#481c6e 302.5px,#481668 309.5px,#471063 316.5px,#470d60 323.5px,#460a5d 330.0px,#460a5d 330.5px,#46085c 337.5px,#46075a 344.5px,#46075a 365.5px,#450559 372.5px,#450559 524.7px)"></div>
<div style="position:absolute;left:89.3px;top:180.0px;width:524.7px;height:2.6px;background:linear-gradient(90deg,#450559 0.0px,#450559 74.0px,#46075a 81.0px,#46075a 95.0px,#46085c 102.0px,#460a5d 109.0px,#470d60 116.0px,#470e61 120.0px,#471063 123.0px,#481668 130.0px,#481c6e 137.0px,#482475 144.0px,#472e7c 150.0px,#472f7d 151.0px,#433d84 158.0px,#3e4a89 165.0px,#375a8c 172.0px,#30698e 179.0px,#2f6c8e 180.0px,#2a788e 186.0px,#24868e 193.0px,#20928c 200.0px,#1f978b 204.0px,#1e9c89 208.0px,#1f9e89 210.0px,#1fa088 212.0px,#1fa187 216.0px,#1fa287 220.0px,#1fa187 224.0px,#1fa088 228.0px,#1e9d89 232.0px,#1f988b 236.0px,#20928c 240.0px,#20928c 241.0px,#25858e 248.0px,#2a788e 255.0px,#306a8e 262.0px,#375b8d 269.0px,#38598c 270.0px,#3e4c8a 276.0px,#433d84 283.0px,#46307e 290.0px,#482576 297.0px,#482173 300.0px,#481d6f 304.0px,#481668 311.0px,#471164 318.0px,#470d60 325.0px,#460b5e 330.0px,#460a5d 332.0px,#46085c 339.0px,#46075a 346.0px,#46075a 367.0px,#450559 374.0px,#450559 524.7px)"></div>
<div style="position:absolute;left:89.3px;top:182.0px;width:524.7px;height:2.6px;background:linear-gradient(90deg,#450559 0.0px,#450559 75.6px,#46075a 82.6px,#46075a 96.6px,#46085c 103.6px,#460a5d 110.6px,#470d60 117.6px,#470d60 120.0px,#471063 124.6px,#481668 131.6px,#481c6e 138.6px,#482576 145.6px,#472c7a 150.0px,#472f7d 152.6px,#433d84 159.6px,#3e4c8a 166.6px,#375b8d 173.6px,#30698e 180.0px,#2f6b8e 180.6px,#29798e 187.6px,#24878e 194.6px,#20938c 201.6px,#1f998a 205.6px,#1f9e89 209.6px,#1f9e89 210.0px,#1fa188 213.6px,#20a386 217.6px,#20a386 225.6px,#1fa188 229.6px,#1f9e89 233.6px,#1f998a 237.6px,#1f968b 240.0px,#1f948c 241.6px,#20928c 242.6px,#24868e 249.6px,#29798e 256.6px,#2f6b8e 263.6px,#365d8d 270.0px,#365c8d 270.6px,#3d4d8a 277.6px,#433e85 284.6px,#46327e 291.6px,#482677 298.6px,#482475 300.0px,#481d6f 305.6px,#481769 312.6px,#471164 319.6px,#470d60 326.6px,#460b5e 330.0px,#460a5d 333.6px,#46085c 340.6px,#46075a 347.6px,#46075a 368.6px,#450559 375.6px,#450559 524.7px)"></div>
<div style="position:absolute;left:89.3px;top:184.0px;width:524.7px;height:2.6px;background:linear-gradient(90deg,#450559 0.0px,#450559 77.1px,#46075a 84.1px,#46075a 98.1px,#46085c 105.1px,#460a5d 112.1px,#470d60 119.1px,#470d60 120.0px,#471063 126.1px,#481668 133.1px,#481c6e 140.1px,#482576 147.1px,#482979 150.0px,#46307e 154.1px,#433e85 161.1px,#3e4c8a 168.1px,#365c8d 175.1px,#31678e 180.0px,#2f6b8e 182.1px,#297a8e 189.1px,#23888e 196.1px,#1f948c 203.1px,#1f9a8a 207.1px,#1f9e89 210.0px,#1f9f88 211.1px,#1fa287 215.1px,#20a486 219.1px,#21a585 223.1px,#20a486 227.1px,#1fa287 231.1px,#1f9f88 235.1px,#1e9b8a 239.1px,#1f9a8a 240.0px,#1f958b 243.1px,#20938c 244.1px,#23888e 251.1px,#297a8e 258.1px,#2f6c8e 265.1px,#34618d 270.0px,#365d8d 272.1px,#3d4e8a 279.1px,#423f85 286.1px,#46327e 293.1px,#482878 300.0px,#482878 300.1px,#481d6f 307.1px,#481769 314.1px,#471164 321.1px,#470d60 328.1px,#470d60 330.0px,#460b5e 335.1px,#46085c 342.1px,#46085c 349.1px,#46075a 356.1px,#46075a 370.1px,#450559 377.1px,#450559 524.7px)"></div>
<div style="position:absolute;left:89.3px;top:186.0px;width:524.7px;height:2.6px;background:linear-gradient(90deg,#450559 0.0px,#450559 78.7px,#46075a 85.7px,#46075a 99.7px,#46085c 106.7px,#460a5d 113.7px,#470d60 120.0px,#470d60 120.7px,#471164 127.7px,#481668 134.7px,#481d6f 141.7px,#482576 148.7px,#482878 150.0px,#46307e 155.7px,#433e85 162.7px,#3d4d8a 169.7px,#365d8d 176.7px,#32648e 180.0px,#2f6c8e 183.7px,#297b8e 190.7px,#23898e 197.7px,#1f958b 204.7px,#1e9b8a 208.7px,#1e9d89 210.0px,#1fa088 212.7px,#20a386 216.7px,#21a585 220.7px,#21a685 224.7px,#21a585 228.7px,#20a386 232.7px,#1fa188 236.7px,#1e9d89 240.0px,#1e9c89 240.7px,#1f968b 244.7px,#1f958b 245.7px,#23898e 252.7px,#297b8e 259.7px,#2e6d8e 266.7px,#31668e 270.0px,#355e8d 273.7px,#3c4f8a 280.7px,#424086 287.7px,#46337f 294.7px,#472a7a 300.0px,#482878 301.7px,#481f70 308.7px,#481769 315.7px,#471164 322.7px,#470e61 329.7px,#470e61 330.0px,#460b5e 336.7px,#46085c 343.7px,#46085c 350.7px,#46075a 357.7px,#46075a 371.7px,#450559 378.7px,#450559 524.7px)"></div>
<div style="position:absolute;left:89.3px;top:188.0px;width:524.7px;height:2.6px;background:linear-gradient(90deg,#450559 0.0px,#450559 73.3px,#46075a 80.3px,#46075a 101.3px,#46085c 108.3px,#460a5d 115.3px,#460b5e 120.0px,#470d60 122.3px,#471164 129.3px,#481769 136.3px,#481d6f 143.3px,#482677 150.0px,#482677 150.3px,#46327e 157.3px,#423f85 164.3px,#3d4e8a 171.3px,#355e8d 178.3px,#33628d 180.0px,#2e6d8e 185.3px,#287c8e 192.3px,#238a8d 199.3px,#1f968b 206.3px,#1e9c89 210.0px,#1e9d89 210.3px,#1fa187 214.3px,#20a486 218.3px,#22a785 222.3px,#22a785 230.3px,#20a486 234.3px,#1fa187 238.3px,#1fa088 240.0px,#1e9d89 242.3px,#1f978b 246.3px,#1f968b 247.3px,#238a8d 254.3px,#287d8e 261.3px,#2e6e8e 268.3px,#306a8e 270.0px,#355f8d 275.3px,#3c508b 282.3px,#424186 289.3px,#463480 296.3px,#472e7c 300.0px,#482979 303.3px,#481f70 310.3px,#48186a 317.3px,#471365 324.3px,#470e61 330.0px,#470e61 331.3px,#460b5e 338.3px,#46085c 345.3px,#46085c 352.3px,#46075a 359.3px,#46075a 373.3px,#450559 380.3px,#450559 524.7px)"></div>
<div style="position:absolute;left:89.3px;top:190.0px;width:524.7px;height:2.6px;background:linear-gradient(90deg,#450559 0.0px,#450559 74.8px,#46075a 81.8px,#46075a 102.8px,#46085c 109.8px,#460a5d 116.8px,#460b5e 120.0px,#470d60 123.8px,#471164 130.8px,#481769 137.8px,#481d6f 144.8px,#482475 150.0px,#482677 151.8px,#46327e 158.8px,#424086 165.8px,#3c4f8a 172.8px,#355f8d 179.8px,#355f8d 180.0px,#2e6e8e 186.8px,#287d8e 193.8px,#228b8d 200.8px,#1f988b 207.8px,#1e9b8a 210.0px,#1f9e89 211.8px,#1fa287 215.8px,#21a685 219.8px,#22a884 223.8px,#23a983 227.8px,#22a884 231.8px,#21a685 235.8px,#1fa287 239.8px,#1fa287 240.0px,#1f9f88 243.8px,#1f998a 247.8px,#1f978b 248.8px,#228b8d 255.8px,#277e8e 262.8px,#2e6f8e 269.8px,#2e6f8e 270.0px,#34608d 276.8px,#3b518b 283.8px,#414287 290.8px,#453581 297.8px,#46307e 300.0px,#482979 304.8px,#482071 311.8px,#48186a 318.8px,#471365 325.8px,#471063 330.0px,#470e61 332.8px,#460b5e 339.8px,#460a5d 346.8px,#46085c 353.8px,#46075a 360.0px,#46075a 374.8px,#450559 381.8px,#450559 524.7px)"></div>
<div style="position:absolute;left:89.3px;top:192.0px;width:524.7px;height:2.6px;background:linear-gradient(90deg,#450559 0.0px,#450559 76.4px,#46075a 83.4px,#46075a 104.4px,#46085c 111.4px,#460a5d 118.4px,#460b5e 120.0px,#470d60 125.4px,#471164 132.4px,#481769 139.4px,#481d6f 146.4px,#482374 150.0px,#482878 153.4px,#46337f 160.4px,#424086 167.4px,#3c508b 174.4px,#365c8d 180.0px,#355f8d 181.4px,#2e6f8e 188.4px,#277f8e 195.4px,#228d8d 202.4px,#1f998a 209.4px,#1f9a8a 210.0px,#1f9f88 213.4px,#20a386 217.4px,#22a785 221.4px,#23a983 225.4px,#24aa83 229.4px,#23a983 233.4px,#22a785 237.4px,#21a585 240.0px,#20a486 241.4px,#1fa088 245.4px,#1f9a8a 249.4px,#1f988b 250.4px,#228d8d 257.4px,#277f8e 264.4px,#2c738e 270.0px,#2d718e 271.4px,#34618d 278.4px,#3b528b 285.4px,#414487 292.4px,#453581 299.4px,#463480 300.0px,#472a7a 306.4px,#482071 313.4px,#481a6c 320.4px,#471365 327.4px,#471164 330.0px,#470e61 334.4px,#460b5e 341.4px,#460a5d 348.4px,#46085c 355.4px,#46075a 360.0px,#46075a 376.4px,#450559 383.4px,#450559 524.7px)"></div>
<div style="position:absolute;left:89.3px;top:194.0px;width:524.7px;height:2.6px;background:linear-gradient(90deg,#450559 0.0px,#450559 77.9px,#46075a 84.9px,#46075a 105.9px,#46085c 112.9px,#460a5d 119.9px,#460a5d 120.0px,#470d60 126.9px,#471164 133.9px,#481769 140.9px,#481f70 147.9px,#482173 150.0px,#482878 154.9px,#46337f 161.9px,#424186 168.9px,#3c508b 175.9px,#375a8c 180.0px,#34608d 182.9px,#2d708e 189.9px,#277f8e 196.9px,#218e8d 203.9px,#1f998a 210.0px,#1f9a8a 210.9px,#1fa088 214.9px,#20a486 218.9px,#22a884 222.9px,#24aa83 226.9px,#25ab82 230.9px,#25ab82 234.9px,#22a884 238.9px,#22a884 240.0px,#21a585 242.9px,#1fa188 246.9px,#1e9b8a 250.9px,#1f9a8a 251.9px,#218e8d 258.9px,#27808e 265.9px,#2a778e 270.0px,#2c718e 272.9px,#33628d 279.9px,#3a538b 286.9px,#414487 293.9px,#453882 300.0px,#453781 300.9px,#472c7a 307.9px,#482173 314.9px,#481a6c 321.9px,#481467 328.9px,#471365 330.0px,#471063 335.9px,#460b5e 342.9px,#460a5d 349.9px,#46085c 356.9px,#46085c 360.0px,#46075a 363.9px,#46075a 377.9px,#450559 384.9px,#450559 524.7px)"></div>
<div style="position:absolute;left:89.3px;top:196.0px;width:524.7px;height:2.6px;background:linear-gradient(90deg,#450559 0.0px,#450559 79.1px,#46075a 86.1px,#46075a 107.1px,#46085c 114.1px,#460a5d 120.0px,#460b5e 121.1px,#470d60 128.1px,#471164 135.1px,#481769 142.1px,#481f70 149.1px,#482071 150.0px,#482878 156.1px,#463480 163.1px,#424186 170.1px,#3c508b 177.1px,#38588c 180.0px,#34608d 184.1px,#2d718e 191.1px,#27808e 198.1px,#218e8d 205.1px,#1f978b 210.0px,#1f9a8a 212.1px,#1fa188 216.1px,#21a585 220.1px,#22a884 224.1px,#25ab82 228.1px,#25ab82 236.1px,#23a983 240.0px,#23a983 240.1px,#21a585 244.1px,#1fa188 248.1px,#1e9c89 252.1px,#1f9a8a 253.1px,#218e8d 260.1px,#26818e 267.1px,#297a8e 270.0px,#2c718e 274.1px,#33638d 281.1px,#3a538b 288.1px,#404588 295.1px,#443b84 300.0px,#453882 302.1px,#472c7a 309.1px,#482173 316.1px,#481a6c 323.1px,#481467 330.0px,#481467 330.1px,#471063 337.1px,#460b5e 344.1px,#460a5d 351.1px,#46085c 358.1px,#46085c 360.0px,#46075a 365.1px,#46075a 386.1px,#450559 390.0px,#450559 524.7px)"></div>
<div style="position:absolute;left:89.3px;top:198.0px;width:524.7px;height:2.6px;background:linear-gradient(90deg,#450559 0.0px,#450559 79.9px,#46075a 86.9px,#46075a 107.9px,#46085c 114.9px,#460a5d 120.0px,#460b5e 121.9px,#470d60 128.9px,#471164 135.9px,#481769 142.9px,#481f70 149.9px,#481f70 150.0px,#482878 156.9px,#463480 163.9px,#424186 170.9px,#3c508b 177.9px,#39558c 180.0px,#34608d 184.9px,#2d708e 191.9px,#277f8e 198.9px,#228d8d 205.9px,#1f948c 210.0px,#1f998a 212.9px,#1fa088 216.9px,#20a486 220.9px,#22a785 224.9px,#23a983 228.9px,#24aa83 232.9px,#24aa83 236.9px,#22a884 240.0px,#22a884 240.9px,#20a486 244.9px,#1fa188 248.9px,#1e9b8a 252.9px,#1f998a 253.9px,#218e8d 260.9px,#27808e 267.9px,#287c8e 270.0px,#2c718e 274.9px,#33638d 281.9px,#3a538b 288.9px,#404588 295.9px,#433d84 300.0px,#453882 302.9px,#472c7a 309.9px,#482173 316.9px,#481b6d 323.9px,#481668 330.0px,#481467 330.9px,#471063 337.9px,#470d60 344.9px,#460a5d 351.9px,#46085c 358.9px,#46085c 360.0px,#46075a 365.9px,#46075a 386.9px,#450559 390.0px,#450559 524.7px)"></div>
<div style="position:absolute;left:89.3px;top:200.0px;width:524.7px;height:2.6px;background:linear-gradient(90deg,#450559 0.0px,#450559 80.7px,#46075a 87.7px,#46075a 108.7px,#46085c 115.7px,#460a5d 120.0px,#460b5e 122.7px,#470e61 129.7px,#471164 136.7px,#481769 143.7px,#481d6f 150.0px,#481f70 150.7px,#482878 157.7px,#46337f 164.7px,#424186 171.7px,#3c508b 178.7px,#3a538b 180.0px,#34608d 185.7px,#2d708e 192.7px,#277e8e 199.7px,#228c8d 206.7px,#20928c 210.0px,#1f988b 213.7px,#1f9f88 217.7px,#1fa287 221.7px,#21a685 225.7px,#22a884 229.7px,#23a983 233.7px,#22a884 237.7px,#22a785 240.0px,#21a685 241.7px,#20a386 245.7px,#1fa088 249.7px,#1f9a8a 253.7px,#1f988b 254.7px,#228d8d 261.7px,#27808e 268.7px,#287d8e 270.0px,#2c718e 275.7px,#33638d 282.7px,#3a538b 289.7px,#404588 296.7px,#423f85 300.0px,#453882 303.7px,#472c7a 310.7px,#482374 317.7px,#481b6d 324.7px,#481668 330.0px,#481467 331.7px,#471063 338.7px,#470d60 345.7px,#460a5d 352.7px,#46085c 359.7px,#46085c 360.0px,#46075a 366.7px,#46075a 387.7px,#450559 390.0px,#450559 524.7px)"></div>
<div style="position:absolute;left:89.3px;top:202.0px;width:524.7px;height:2.6px;background:linear-gradient(90deg,#450559 0.0px,#450559 81.5px,#46075a 88.5px,#46075a 102.5px,#46085c 109.5px,#46085c 116.5px,#460a5d 120.0px,#460b5e 123.5px,#470e61 130.5px,#471164 137.5px,#481769 144.5px,#481d6f 150.0px,#481f70 151.5px,#482878 158.5px,#46337f 165.5px,#424186 172.5px,#3c508b 179.5px,#3b518b 180.0px,#355f8d 186.5px,#2e6f8e 193.5px,#277e8e 200.5px,#228c8d 207.5px,#21918c 210.0px,#1f978b 214.5px,#1f9e89 218.5px,#1fa187 222.5px,#21a585 226.5px,#22a785 230.5px,#22a884 234.5px,#22a785 238.5px,#22a785 240.0px,#21a585 242.5px,#1fa287 246.5px,#1f9f88 250.5px,#1f998a 254.5px,#1f988b 255.5px,#228c8d 262.5px,#277f8e 269.5px,#277e8e 270.0px,#2c718e 276.5px,#33638d 283.5px,#3a538b 290.5px,#404588 297.5px,#424086 300.0px,#453882 304.5px,#472d7b 311.5px,#482374 318.5px,#481b6d 325.5px,#481769 330.0px,#481467 332.5px,#471063 339.5px,#470d60 346.5px,#460a5d 353.5px,#46085c 360.0px,#46085c 360.5px,#46075a 367.5px,#46075a 390.0px,#450559 420.0px,#450559 524.7px)"></div>
<div style="position:absolute;left:89.3px;top:204.0px;width:524.7px;height:2.6px;background:linear-gradient(90deg,#450559 0.0px,#450559 82.4px,#46075a 89.4px,#46075a 103.4px,#46085c 110.4px,#46085c 117.4px,#460a5d 120.0px,#460b5e 124.4px,#470e61 131.4px,#471164 138.4px,#48186a 145.4px,#481c6e 150.0px,#481f70 152.4px,#482878 159.4px,#463480 166.4px,#424186 173.4px,#3c4f8a 180.0px,#3c508b 180.4px,#355f8d 187.4px,#2e6f8e 194.4px,#287d8e 201.4px,#228b8d 208.4px,#218e8d 210.0px,#1f978b 215.4px,#1e9d89 219.4px,#1fa188 223.4px,#20a486 227.4px,#21a685 231.4px,#22a785 235.4px,#21a685 239.4px,#21a685 240.0px,#20a486 243.4px,#1fa187 247.4px,#1f9e89 251.4px,#1f988b 255.4px,#1f978b 256.4px,#228c8d 263.4px,#27808e 270.0px,#277f8e 270.4px,#2d718e 277.4px,#33628d 284.4px,#3a538b 291.4px,#404588 298.4px,#414287 300.0px,#453882 305.4px,#472d7b 312.4px,#482374 319.4px,#481b6d 326.4px,#48186a 330.0px,#481668 333.4px,#471063 340.4px,#470d60 347.4px,#460a5d 354.4px,#46085c 360.0px,#46085c 361.4px,#46075a 368.4px,#46075a 390.0px,#450559 420.0px,#450559 524.7px)"></div>
<div style="position:absolute;left:89.3px;top:206.0px;width:524.7px;height:2.6px;background:linear-gradient(90deg,#450559 0.0px,#450559 83.2px,#46075a 90.0px,#46075a 104.2px,#46085c 111.2px,#46085c 118.2px,#460a5d 120.0px,#460b5e 125.2px,#470e61 132.2px,#471365 139.2px,#48186a 146.2px,#481b6d 150.0px,#481f70 153.2px,#482878 160.2px,#463480 167.2px,#424186 174.2px,#3d4d8a 180.0px,#3c508b 181.2px,#355f8d 188.2px,#2e6e8e 195.2px,#287d8e 202.2px,#238a8d 209.2px,#228c8d 210.0px,#1f968b 216.2px,#1e9c89 220.2px,#1fa088 224.2px,#20a386 228.2px,#21a585 232.2px,#21a685 236.2px,#21a585 240.0px,#21a585 240.2px,#20a386 244.2px,#1fa188 248.2px,#1e9d89 252.2px,#1f978b 256.2px,#1f968b 257.2px,#228b8d 264.2px,#26818e 270.0px,#277e8e 271.2px,#2d718e 278.2px,#33628d 285.2px,#3a538b 292.2px,#404688 299.2px,#414487 300.0px,#453882 306.2px,#472d7b 313.2px,#482374 320.2px,#481b6d 327.2px,#48186a 330.0px,#481668 334.2px,#471063 341.2px,#470d60 348.2px,#460a5d 355.2px,#46085c 360.0px,#46085c 362.2px,#46075a 369.2px,#46075a 390.2px,#450559 420.0px,#450559 524.7px)"></div>
<div style="position:absolute;left:89.3px;top:208.0px;width:524.7px;height:2.6px;background:linear-gradient(90deg,#450559 0.0px,#450559 84.0px,#46075a 90.0px,#46075a 105.0px,#46085c 112.0px,#46085c 119.0px,#460a5d 120.0px,#460b5e 126.0px,#470e61 133.0px,#471365 140.0px,#48186a 147.0px,#481b6d 150.0px,#481f70 154.0px,#482878 161.0px,#463480 168.0px,#424186 175.0px,#3e4c8a 180.0px,#3c4f8a 182.0px,#355f8d 189.0px,#2e6e8e 196.0px,#287c8e 203.0px,#23898e 210.0px,#1f958b 217.0px,#1e9b8a 221.0px,#1f9f88 225.0px,#1fa287 229.0px,#20a486 233.0px,#21a585 237.0px,#20a486 240.0px,#20a486 241.0px,#1fa287 245.0px,#1fa088 249.0px,#1e9c89 253.0px,#1f968b 257.0px,#1f958b 258.0px,#238a8d 265.0px,#26828e 270.0px,#277e8e 272.0px,#2d718e 279.0px,#33628d 286.0px,#3a538b 293.0px,#404688 300.0px,#443983 307.0px,#472d7b 314.0px,#482475 321.0px,#481c6e 328.0px,#481a6c 330.0px,#481668 335.0px,#471164 342.0px,#470d60 349.0px,#460a5d 356.0px,#460a5d 360.0px,#46085c 363.0px,#46075a 370.0px,#46075a 391.0px,#450559 420.0px,#450559 524.7px)"></div>
<div style="position:absolute;left:89.3px;top:210.0px;width:524.7px;height:2.6px;background:linear-gradient(90deg,#450559 0.0px,#450559 84.8px,#46075a 90.0px,#46075a 105.8px,#46085c 112.8px,#46085c 120.0px,#460b5e 126.8px,#470e61 133.8px,#471365 140.8px,#48186a 147.8px,#481a6c 150.0px,#481f70 154.8px,#482878 161.8px,#46337f 168.8px,#424086 175.8px,#3e4989 180.0px,#3c4f8a 182.8px,#355e8d 189.8px,#2e6d8e 196.8px,#287c8e 203.8px,#24878e 210.0px,#23898e 210.8px,#1f948c 217.8px,#1f9a8a 221.8px,#1f9e89 225.8px,#1fa187 229.8px,#20a386 233.8px,#20a486 237.8px,#20a386 240.0px,#20a386 241.8px,#1fa187 245.8px,#1f9f88 249.8px,#1e9b8a 253.8px,#1f968b 257.8px,#1f948c 258.8px,#238a8d 265.8px,#26828e 270.0px,#277e8e 272.8px,#2d708e 279.8px,#33628d 286.8px,#3a538b 293.8px,#3f4788 300.0px,#404688 300.8px,#443983 307.8px,#472d7b 314.8px,#482475 321.8px,#481c6e 328.8px,#481b6d 330.0px,#481668 335.8px,#471164 342.8px,#470d60 349.8px,#460a5d 356.8px,#460a5d 360.0px,#46085c 363.8px,#46085c 370.8px,#46075a 377.8px,#46075a 391.8px,#450559 420.0px,#450559 524.7px)"></div>
<div style="position:absolute;left:89.3px;top:212.0px;width:524.7px;height:2.6px;background:linear-gradient(90deg,#450559 0.0px,#450559 85.6px,#46075a 90.0px,#46075a 106.6px,#46085c 113.6px,#46085c 120.6px,#460b5e 127.6px,#470e61 134.6px,#471365 141.6px,#48186a 148.6px,#481a6c 150.0px,#481f70 155.6px,#482878 162.6px,#46337f 169.6px,#424086 176.6px,#3f4788 180.0px,#3c4f8a 183.6px,#355e8d 190.6px,#2e6d8e 197.6px,#297b8e 204.6px,#25858e 210.0px,#23888e 211.6px,#20938c 218.6px,#1f998a 222.6px,#1e9d89 226.6px,#1fa188 230.6px,#1fa287 234.6px,#1fa287 242.6px,#1fa188 246.6px,#1f9e89 250.6px,#1f9a8a 254.6px,#1f958b 258.6px,#20938c 259.6px,#23898e 266.6px,#25838e 270.0px,#287d8e 273.6px,#2d708e 280.6px,#33628d 287.6px,#3a538b 294.6px,#3e4989 300.0px,#404688 301.6px,#443983 308.6px,#472e7c 315.6px,#482475 322.6px,#481c6e 329.6px,#481c6e 330.0px,#481668 336.6px,#471164 343.6px,#470d60 350.6px,#460b5e 357.6px,#460a5d 360.0px,#46085c 364.6px,#46085c 371.6px,#46075a 378.6px,#46075a 392.6px,#450559 420.0px,#450559 524.7px)"></div>
<div style="position:absolute;left:89.3px;top:214.0px;width:524.7px;height:2.6px;background:linear-gradient(90deg,#450559 0.0px,#450559 86.4px,#46075a 90.0px,#46075a 107.4px,#46085c 114.4px,#46085c 121.4px,#460b5e 128.4px,#470e61 135.4px,#471365 142.4px,#48186a 149.4px,#48186a 150.0px,#481f70 156.4px,#482878 163.4px,#46337f 170.4px,#424086 177.4px,#404688 180.0px,#3c4f8a 184.4px,#355e8d 191.4px,#2f6c8e 198.4px,#297a8e 205.4px,#26828e 210.0px,#24878e 212.4px,#20928c 219.4px,#1f988b 223.4px,#1e9c89 227.4px,#1fa088 231.4px,#1fa187 235.4px,#1fa187 243.4px,#1fa088 247.4px,#1e9d89 251.4px,#1f998a 255.4px,#1f948c 259.4px,#20938c 260.4px,#23888e 267.4px,#25848e 270.0px,#287d8e 274.4px,#2d708e 281.4px,#33628d 288.4px,#3a538b 295.4px,#3e4a89 300.0px,#404688 302.4px,#443983 309.4px,#472e7c 316.4px,#482475 323.4px,#481c6e 330.0px,#481c6e 330.4px,#481668 337.4px,#471164 344.4px,#470d60 351.4px,#460b5e 358.4px,#460a5d 360.0px,#46085c 365.4px,#46085c 372.4px,#46075a 379.4px,#46075a 393.4px,#450559 420.0px,#450559 524.7px)"></div>
<div style="position:absolute;left:89.3px;top:216.0px;width:524.7px;height:2.6px;background:linear-gradient(90deg,#450559 0.0px,#450559 87.2px,#46075a 90.0px,#46075a 108.2px,#46085c 115.2px,#46085c 120.0px,#460a5d 122.2px,#460b5e 129.2px,#470e61 136.2px,#471365 143.2px,#48186a 150.0px,#48186a 150.2px,#481f70 157.2px,#482878 164.2px,#46337f 171.2px,#424086 178.2px,#414487 180.0px,#3c4f8a 185.2px,#365d8d 192.2px,#2f6c8e 199.2px,#297a8e 206.2px,#26818e 210.0px,#24868e 213.2px,#20928c 220.2px,#1f978b 224.2px,#1e9b8a 228.2px,#1f9e89 232.2px,#1fa088 236.2px,#1fa188 240.0px,#1fa188 244.2px,#1f9f88 248.2px,#1e9c89 252.2px,#1f988b 256.2px,#20938c 260.2px,#20928c 261.2px,#23888e 268.2px,#25858e 270.0px,#287c8e 275.2px,#2e6f8e 282.2px,#33628d 289.2px,#3a538b 296.2px,#3d4d8a 300.0px,#404688 303.2px,#443983 310.2px,#472e7c 317.2px,#482475 324.2px,#481d6f 330.0px,#481c6e 331.2px,#481769 338.2px,#471164 345.2px,#470e61 352.2px,#460b5e 359.2px,#460b5e 360.0px,#460a5d 366.2px,#46085c 373.2px,#46075a 380.2px,#46075a 394.2px,#450559 420.0px,#450559 524.7px)"></div>
<div style="position:absolute;left:89.3px;top:218.0px;width:524.7px;height:2.6px;background:linear-gradient(90deg,#450559 0.0px,#450559 90.0px,#46075a 95.0px,#46075a 109.0px,#46085c 116.0px,#46085c 120.0px,#460a5d 123.0px,#460b5e 130.0px,#470e61 137.0px,#471365 144.0px,#481769 150.0px,#48186a 151.0px,#481f70 158.0px,#482878 165.0px,#46337f 172.0px,#424086 179.0px,#414287 180.0px,#3d4e8a 186.0px,#365d8d 193.0px,#2f6b8e 200.0px,#29798e 207.0px,#277f8e 210.0px,#25858e 214.0px,#21918c 221.0px,#1f968b 225.0px,#1f9a8a 229.0px,#1e9d89 233.0px,#1f9f88 237.0px,#1fa088 240.0px,#1fa088 241.0px,#1f9f88 245.0px,#1f9e89 249.0px,#1e9b8a 253.0px,#1f978b 257.0px,#20928c 261.0px,#20928c 262.0px,#24878e 269.0px,#25858e 270.0px,#287c8e 276.0px,#2e6f8e 283.0px,#33628d 290.0px,#3a538b 297.0px,#3d4e8a 300.0px,#404688 304.0px,#443a83 311.0px,#472e7c 318.0px,#482576 325.0px,#481f70 330.0px,#481d6f 332.0px,#481769 339.0px,#471164 346.0px,#470e61 353.0px,#460b5e 360.0px,#460a5d 367.0px,#46085c 374.0px,#46075a 381.0px,#46075a 395.0px,#450559 420.0px,#450559 524.7px)"></div>
<div style="position:absolute;left:89.3px;top:220.0px;width:524.7px;height:2.6px;background:linear-gradient(90deg,#450559 0.0px,#450559 90.0px,#46075a 95.9px,#46075a 109.9px,#46085c 116.9px,#46085c 120.0px,#460a5d 123.9px,#460b5e 130.9px,#470e61 137.9px,#471365 144.9px,#481769 150.0px,#48186a 151.9px,#481f70 158.9px,#482979 165.9px,#46337f 172.9px,#424086 179.9px,#424086 180.0px,#3d4e8a 186.9px,#365d8d 193.9px,#2f6b8e 200.9px,#2a788e 207.9px,#287d8e 210.0px,#25858e 214.9px,#21908d 221.9px,#1f958b 225.9px,#1f998a 229.9px,#1e9c89 233.9px,#1f9e89 237.9px,#1f9f88 240.0px,#1f9f88 241.9px,#1f9e89 245.9px,#1e9d89 249.9px,#1f9a8a 253.9px,#1f968b 257.9px,#20928c 261.9px,#21918c 262.9px,#24868e 269.9px,#24868e 270.0px,#297b8e 276.9px,#2e6f8e 283.9px,#34618d 290.9px,#3a538b 297.9px,#3c4f8a 300.0px,#404688 304.9px,#443983 311.9px,#472e7c 318.9px,#482576 325.9px,#482071 330.0px,#481d6f 332.9px,#481769 339.9px,#471164 346.9px,#470e61 353.9px,#460b5e 360.0px,#460b5e 360.9px,#460a5d 367.9px,#46085c 374.9px,#46075a 381.9px,#46075a 395.9px,#450559 420.0px,#450559 524.7px)"></div>
<div style="position:absolute;left:89.3px;top:222.0px;width:524.7px;height:2.6px;background:linear-gradient(90deg,#450559 0.0px,#450559 90.0px,#46075a 96.7px,#46075a 110.7px,#46085c 117.7px,#46085c 120.0px,#460a5d 124.7px,#460b5e 131.7px,#470e61 138.7px,#471365 145.7px,#481668 150.0px,#48186a 152.7px,#481f70 159.7px,#482878 166.7px,#46337f 173.7px,#423f85 180.0px,#424086 180.7px,#3d4e8a 187.7px,#365c8d 194.7px,#2f6b8e 201.7px,#2a788e 208.7px,#297a8e 210.0px,#25848e 215.7px,#218f8d 222.7px,#1f948c 226.7px,#1f988b 230.7px,#1e9b8a 234.7px,#1e9d89 238.7px,#1f9e89 240.0px,#1f9e89 242.7px,#1e9d89 246.7px,#1e9c89 250.7px,#1f998a 254.7px,#1f958b 258.7px,#21918c 262.7px,#21908d 263.7px,#24878e 270.0px,#25858e 270.7px,#297a8e 277.7px,#2e6e8e 284.7px,#34618d 291.7px,#3a538b 298.7px,#3b518b 300.0px,#404688 305.7px,#443983 312.7px,#472e7c 319.7px,#482576 326.7px,#482173 330.0px,#481d6f 333.7px,#481769 340.7px,#471164 347.7px,#470e61 354.7px,#460b5e 360.0px,#460b5e 361.7px,#460a5d 368.7px,#46085c 375.7px,#46075a 382.7px,#46075a 396.7px,#450559 420.0px,#450559 524.7px)"></div>
<div style="position:absolute;left:89.3px;top:224.0px;width:524.7px;height:2.6px;background:linear-gradient(90deg,#450559 0.0px,#450559 90.5px,#46075a 97.5px,#46075a 111.5px,#46085c 118.5px,#46085c 120.0px,#460a5d 125.5px,#460b5e 132.5px,#470e61 139.5px,#471365 146.5px,#481668 150.0px,#48186a 153.5px,#481f70 160.5px,#482878 167.5px,#46337f 174.5px,#433d84 180.0px,#424086 181.5px,#3d4e8a 188.5px,#365c8d 195.5px,#306a8e 202.5px,#2a778e 209.5px,#2a788e 210.0px,#25838e 216.5px,#218e8d 223.5px,#20938c 227.5px,#1f978b 231.5px,#1f9a8a 235.5px,#1e9c89 239.5px,#1e9c89 240.0px,#1e9d89 243.5px,#1e9c89 247.5px,#1f9a8a 251.5px,#1f988b 255.5px,#1f948c 259.5px,#21908d 263.5px,#218f8d 264.5px,#24878e 270.0px,#25858e 271.5px,#297a8e 278.5px,#2e6e8e 285.5px,#34608d 292.5px,#3a538b 299.5px,#3b528b 300.0px,#404688 306.5px,#443983 313.5px,#472e7c 320.5px,#482576 327.5px,#482173 330.0px,#481d6f 334.5px,#481769 341.5px,#471164 348.5px,#470e61 355.5px,#470d60 360.0px,#460b5e 362.5px,#460a5d 369.5px,#46085c 376.5px,#46075a 383.5px,#46075a 397.5px,#450559 420.0px,#450559 524.7px)"></div>
<div style="position:absolute;left:89.3px;top:226.0px;width:524.7px;height:2.6px;background:linear-gradient(90deg,#450559 0.0px,#450559 91.3px,#46075a 98.3px,#46075a 112.3px,#46085c 119.3px,#46085c 120.0px,#460a5d 126.3px,#460b5e 133.3px,#470e61 140.3px,#471365 147.3px,#481467 150.0px,#48186a 154.3px,#481f70 161.3px,#482878 168.3px,#46337f 175.3px,#443b84 180.0px,#424086 182.3px,#3d4e8a 189.3px,#365c8d 196.3px,#306a8e 203.3px,#2a768e 210.0px,#2a768e 210.3px,#26828e 217.3px,#218e8d 224.3px,#20928c 228.3px,#1f968b 232.3px,#1f998a 236.3px,#1e9b8a 240.0px,#1e9b8a 240.3px,#1e9c89 244.3px,#1e9b8a 248.3px,#1f998a 252.3px,#1f978b 256.3px,#20938c 260.3px,#218f8d 264.3px,#218e8d 265.3px,#24878e 270.0px,#25848e 272.3px,#29798e 279.3px,#2e6d8e 286.3px,#34608d 293.3px,#3a538b 300.0px,#3b528b 300.3px,#404688 307.3px,#443983 314.3px,#472e7c 321.3px,#482576 328.3px,#482374 330.0px,#481d6f 335.3px,#481769 342.3px,#471164 349.3px,#470e61 356.3px,#470d60 360.0px,#460b5e 363.3px,#460a5d 370.3px,#46085c 377.3px,#46075a 384.3px,#46075a 398.3px,#450559 420.0px,#450559 524.7px)"></div>
<div style="position:absolute;left:89.3px;top:228.0px;width:524.7px;height:2.6px;background:linear-gradient(90deg,#450559 0.0px,#450559 91.8px,#46075a 98.8px,#46075a 112.8px,#46085c 119.8px,#46085c 120.0px,#460a5d 126.8px,#460b5e 133.8px,#470e61 140.8px,#471365 147.8px,#481467 150.0px,#48186a 154.8px,#482071 161.8px,#482979 168.8px,#46337f 175.8px,#443a83 180.0px,#424086 182.8px,#3d4e8a 189.8px,#365c8d 196.8px,#30698e 203.8px,#2b758e 210.0px,#2a768e 210.8px,#26828e 217.8px,#228d8d 224.8px,#20928c 228.8px,#1f958b 232.8px,#1f988b 236.8px,#1f9a8a 240.0px,#1f9a8a 240.8px,#1e9b8a 244.8px,#1f9a8a 248.8px,#1f998a 252.8px,#1f968b 256.8px,#20928c 260.8px,#218f8d 264.8px,#218e8d 265.8px,#23888e 270.0px,#25838e 272.8px,#29798e 279.8px,#2e6d8e 286.8px,#34608d 293.8px,#3a548c 300.0px,#3b528b 300.8px,#404688 307.8px,#443983 314.8px,#472e7c 321.8px,#482576 328.8px,#482475 330.0px,#481d6f 335.8px,#481769 342.8px,#471365 349.8px,#470e61 356.8px,#470d60 360.0px,#460b5e 363.8px,#460a5d 370.8px,#46085c 377.8px,#46075a 384.8px,#46075a 398.8px,#450559 420.0px,#450559 524.7px)"></div>
<div style="position:absolute;left:89.3px;top:230.0px;width:524.7px;height:2.6px;background:linear-gradient(90deg,#450559 0.0px,#450559 92.0px,#46075a 99.0px,#46075a 113.0px,#46085c 120.0px,#460a5d 127.0px,#460b5e 134.0px,#470e61 141.0px,#471365 148.0px,#481467 150.0px,#48186a 155.0px,#482071 162.0px,#482979 169.0px,#46337f 176.0px,#443a83 180.0px,#424086 183.0px,#3d4e8a 190.0px,#365c8d 197.0px,#306a8e 204.0px,#2b748e 210.0px,#2a768e 211.0px,#26828e 218.0px,#228d8d 225.0px,#20928c 229.0px,#1f958b 233.0px,#1f988b 237.0px,#1f9a8a 240.0px,#1f9a8a 241.0px,#1e9b8a 245.0px,#1f9a8a 249.0px,#1f998a 253.0px,#1f968b 257.0px,#20928c 261.0px,#218f8d 265.0px,#228d8d 266.0px,#23888e 270.0px,#25838e 273.0px,#29798e 280.0px,#2e6d8e 287.0px,#34608d 294.0px,#3a548c 300.0px,#3a538b 301.0px,#404688 308.0px,#443983 315.0px,#472e7c 322.0px,#482576 329.0px,#482475 330.0px,#481d6f 336.0px,#481769 343.0px,#471365 350.0px,#470e61 357.0px,#470d60 360.0px,#460b5e 364.0px,#460a5d 371.0px,#46085c 378.0px,#46075a 385.0px,#46075a 399.0px,#450559 420.0px,#450559 524.7px)"></div>
<div style="position:absolute;left:89.3px;top:232.0px;width:524.7px;height:2.6px;background:linear-gradient(90deg,#450559 0.0px,#450559 92.2px,#46075a 99.2px,#46075a 113.2px,#46085c 120.0px,#46085c 120.2px,#460a5d 127.2px,#460b5e 134.2px,#470e61 141.2px,#471365 148.2px,#481467 150.0px,#48186a 155.2px,#482071 162.2px,#482979 169.2px,#463480 176.2px,#443a83 180.0px,#424086 183.2px,#3d4e8a 190.2px,#365c8d 197.2px,#306a8e 204.2px,#2b748e 210.0px,#2a768e 211.2px,#26828e 218.2px,#228d8d 225.2px,#20928c 229.2px,#1f958b 233.2px,#1f988b 237.2px,#1f9a8a 240.0px,#1f9a8a 241.2px,#1e9b8a 245.2px,#1f9a8a 249.2px,#1f988b 253.2px,#1f968b 257.2px,#20928c 261.2px,#218f8d 265.2px,#228d8d 266.2px,#23888e 270.0px,#25838e 273.2px,#29798e 280.2px,#2e6d8e 287.2px,#34608d 294.2px,#39558c 300.0px,#3a538b 301.2px,#404688 308.2px,#443a83 315.2px,#472f7d 322.2px,#482576 329.2px,#482475 330.0px,#481d6f 336.2px,#481769 343.2px,#471365 350.2px,#470e61 357.2px,#470d60 360.0px,#460b5e 364.2px,#460a5d 371.2px,#46085c 378.2px,#46075a 385.2px,#46075a 399.2px,#450559 420.0px,#450559 524.7px)"></div>
<div style="position:absolute;left:89.3px;top:234.0px;width:524.7px;height:2.6px;background:linear-gradient(90deg,#450559 0.0px,#450559 90.0px,#46075a 92.3px,#46075a 113.3px,#46085c 120.0px,#46085c 120.3px,#460a5d 127.3px,#460b5e 134.3px,#470e61 141.3px,#471365 148.3px,#481467 150.0px,#481a6c 155.3px,#482071 162.3px,#482979 169.3px,#463480 176.3px,#443a83 180.0px,#424086 183.3px,#3d4e8a 190.3px,#365c8d 197.3px,#306a8e 204.3px,#2b748e 210.0px,#2a768e 211.3px,#26828e 218.3px,#228d8d 225.3px,#20928c 229.3px,#1f958b 233.3px,#1f988b 237.3px,#1f998a 240.0px,#1f9a8a 241.3px,#1f9a8a 249.3px,#1f988b 253.3px,#1f968b 257.3px,#20928c 261.3px,#218f8d 265.3px,#228d8d 266.3px,#23888e 270.0px,#25838e 273.3px,#29798e 280.3px,#2e6d8e 287.3px,#34608d 294.3px,#39558c 300.0px,#3a538b 301.3px,#404688 308.3px,#443a83 315.3px,#472f7d 322.3px,#482576 329.3px,#482576 330.0px,#481d6f 336.3px,#48186a 343.3px,#471365 350.3px,#470e61 357.3px,#470d60 360.0px,#460b5e 364.3px,#460a5d 371.3px,#46085c 378.3px,#46075a 385.3px,#46075a 399.3px,#450559 420.0px,#450559 524.7px)"></div>
<div style="position:absolute;left:89.3px;top:236.0px;width:524.7px;height:2.6px;background:linear-gradient(90deg,#450559 0.0px,#450559 90.0px,#46075a 92.5px,#46075a 113.5px,#46085c 120.0px,#46085c 120.5px,#460a5d 127.5px,#460b5e 134.5px,#470e61 141.5px,#471365 148.5px,#481467 150.0px,#481a6c 155.5px,#482071 162.5px,#482979 169.5px,#463480 176.5px,#443a83 180.0px,#424086 183.5px,#3d4e8a 190.5px,#365c8d 197.5px,#306a8e 204.5px,#2c738e 210.0px,#2a768e 211.5px,#26828e 218.5px,#228d8d 225.5px,#20928c 229.5px,#1f958b 233.5px,#1f988b 237.5px,#1f998a 240.0px,#1f9a8a 241.5px,#1f9a8a 249.5px,#1f988b 253.5px,#1f968b 257.5px,#20928c 261.5px,#218f8d 265.5px,#228d8d 266.5px,#23898e 270.0px,#25838e 273.5px,#29798e 280.5px,#2e6d8e 287.5px,#34608d 294.5px,#39568c 300.0px,#3a538b 301.5px,#404688 308.5px,#443a83 315.5px,#472f7d 322.5px,#482677 329.5px,#482576 330.0px,#481d6f 336.5px,#48186a 343.5px,#471365 350.5px,#470e61 357.5px,#470d60 360.0px,#460b5e 364.5px,#460a5d 371.5px,#46085c 378.5px,#46075a 385.5px,#46075a 399.5px,#450559 420.0px,#450559 524.7px)"></div>
<div style="position:absolute;left:89.3px;top:238.0px;width:524.7px;height:2.6px;background:linear-gradient(90deg,#450559 0.0px,#450559 90.0px,#46075a 92.7px,#46075a 113.7px,#46085c 120.0px,#46085c 120.7px,#460a5d 127.7px,#460b5e 134.7px,#471063 141.7px,#481467 148.7px,#481467 150.0px,#481a6c 155.7px,#482071 162.7px,#482979 169.7px,#463480 176.7px,#443a83 180.0px,#424086 183.7px,#3d4e8a 190.7px,#365c8d 197.7px,#306a8e 204.7px,#2c738e 210.0px,#2a768e 211.7px,#26828e 218.7px,#228d8d 225.7px,#20928c 229.7px,#1f958b 233.7px,#1f988b 237.7px,#1f998a 240.0px,#1f9a8a 241.7px,#1f9a8a 249.7px,#1f988b 253.7px,#1f958b 257.7px,#20928c 261.7px,#218e8d 265.7px,#228d8d 266.7px,#23898e 270.0px,#25838e 273.7px,#29798e 280.7px,#2e6d8e 287.7px,#34618d 294.7px,#39568c 300.0px,#3a538b 301.7px,#3f4788 308.7px,#443a83 315.7px,#472f7d 322.7px,#482677 329.7px,#482576 330.0px,#481f70 336.7px,#48186a 343.7px,#471365 350.7px,#470e61 357.7px,#470e61 360.0px,#460b5e 364.7px,#460a5d 371.7px,#46085c 378.7px,#46075a 385.7px,#46075a 399.7px,#450559 420.0px,#450559 524.7px)"></div>
<div style="position:absolute;left:89.3px;top:240.0px;width:524.7px;height:2.6px;background:linear-gradient(90deg,#450559 0.0px,#450559 90.0px,#46075a 92.9px,#46075a 113.9px,#46085c 120.0px,#46085c 120.9px,#460a5d 127.9px,#460b5e 134.9px,#471063 141.9px,#481467 148.9px,#481467 150.0px,#481a6c 155.9px,#482071 162.9px,#472a7a 169.9px,#463480 176.9px,#443a83 180.0px,#424186 183.9px,#3c4f8a 190.9px,#365d8d 197.9px,#306a8e 204.9px,#2c738e 210.0px,#2a768e 211.9px,#26828e 218.9px,#228d8d 225.9px,#20928c 229.9px,#1f958b 233.9px,#1f988b 237.9px,#1f998a 240.0px,#1f998a 241.9px,#1f9a8a 245.9px,#1f998a 249.9px,#1f988b 253.9px,#1f958b 257.9px,#20928c 261.9px,#218e8d 265.9px,#228d8d 266.9px,#23898e 270.0px,#25838e 273.9px,#29798e 280.9px,#2e6d8e 287.9px,#34618d 294.9px,#38588c 300.0px,#3a538b 301.9px,#3f4788 308.9px,#443a83 315.9px,#472f7d 322.9px,#482677 329.9px,#482677 330.0px,#481f70 336.9px,#48186a 343.9px,#471365 350.9px,#470e61 357.9px,#470e61 360.0px,#460b5e 364.9px,#460a5d 371.9px,#46085c 378.9px,#46075a 385.9px,#46075a 399.9px,#450559 420.0px,#450559 524.7px)"></div>
<div style="position:absolute;left:89.3px;top:242.0px;width:524.7px;height:3.6px;background:linear-gradient(90deg,#450559 0.0px,#450559 90.0px,#46075a 93.1px,#46075a 114.1px,#46085c 120.0px,#46085c 121.1px,#460a5d 128.1px,#470d60 135.1px,#471063 142.1px,#481467 149.1px,#481467 150.0px,#481a6c 156.1px,#482173 163.1px,#472a7a 170.1px,#453581 177.1px,#443a83 180.0px,#424186 184.1px,#3c4f8a 191.1px,#365d8d 198.1px,#306a8e 205.1px,#2c728e 210.0px,#2a768e 212.1px,#26828e 219.1px,#228c8d 226.1px,#21918c 230.1px,#1f948c 234.1px,#1f978b 238.1px,#1f988b 240.0px,#1f998a 242.1px,#1f9a8a 246.1px,#1f998a 250.1px,#1f988b 254.1px,#1f958b 258.1px,#20928c 262.1px,#218e8d 266.1px,#228d8d 267.1px,#23898e 270.0px,#25838e 274.1px,#29798e 281.1px,#2e6e8e 288.1px,#34618d 295.1px,#38588c 300.0px,#3a548c 302.1px,#3f4788 309.1px,#443b84 316.1px,#46307e 323.1px,#482677 330.0px,#482677 330.1px,#481f70 337.1px,#48186a 344.1px,#471365 351.1px,#470e61 358.1px,#470e61 360.0px,#460b5e 365.1px,#460a5d 372.1px,#46085c 379.1px,#46075a 386.1px,#46075a 400.1px,#450559 420.0px,#450559 524.7px)"></div>
<div style="position:absolute;left:89.3px;top:245.0px;width:524.7px;height:3.6px;background:linear-gradient(90deg,#450559 0.0px,#450559 90.0px,#46075a 93.4px,#46075a 114.4px,#46085c 120.0px,#46085c 121.4px,#460a5d 128.4px,#470d60 135.4px,#471063 142.4px,#481467 149.4px,#481467 150.0px,#481a6c 156.4px,#482173 163.4px,#472a7a 170.4px,#453581 177.4px,#443983 180.0px,#424186 184.4px,#3c4f8a 191.4px,#365d8d 198.4px,#306a8e 205.4px,#2c728e 210.0px,#2a778e 212.4px,#26828e 219.4px,#228c8d 226.4px,#21918c 230.4px,#1f948c 234.4px,#1f978b 238.4px,#1f988b 240.0px,#1f998a 242.4px,#1f9a8a 246.4px,#1f998a 250.4px,#1f978b 254.4px,#1f958b 258.4px,#20928c 262.4px,#218e8d 266.4px,#228d8d 267.4px,#23898e 270.0px,#25838e 274.4px,#29798e 281.4px,#2e6e8e 288.4px,#34618d 295.4px,#38598c 300.0px,#3a548c 302.4px,#3f4788 309.4px,#443b84 316.4px,#46307e 323.4px,#482878 330.0px,#482677 330.4px,#481f70 337.4px,#48186a 344.4px,#471365 351.4px,#471063 358.4px,#470e61 360.0px,#470d60 365.4px,#460a5d 372.4px,#46085c 379.4px,#46075a 386.4px,#46075a 400.4px,#450559 420.0px,#450559 524.7px)"></div>
<div style="position:absolute;left:89.3px;top:248.0px;width:524.7px;height:3.6px;background:linear-gradient(90deg,#450559 0.0px,#450559 90.0px,#46075a 93.7px,#46075a 114.7px,#46085c 120.0px,#46085c 121.7px,#460a5d 128.7px,#470d60 135.7px,#471063 142.7px,#481467 149.7px,#481467 150.0px,#481b6d 156.7px,#482173 163.7px,#472a7a 170.7px,#453581 177.7px,#443983 180.0px,#414287 184.7px,#3c4f8a 191.7px,#365d8d 198.7px,#306a8e 205.7px,#2c728e 210.0px,#2a778e 212.7px,#26828e 219.7px,#228c8d 226.7px,#21918c 230.7px,#1f948c 234.7px,#1f978b 238.7px,#1f988b 240.0px,#1f998a 242.7px,#1f998a 250.7px,#1f978b 254.7px,#1f958b 258.7px,#20928c 262.7px,#218e8d 266.7px,#228d8d 267.7px,#238a8d 270.0px,#25838e 274.7px,#29798e 281.7px,#2e6e8e 288.7px,#34618d 295.7px,#375a8c 300.0px,#3a548c 302.7px,#3f4788 309.7px,#443b84 316.7px,#46307e 323.7px,#482878 330.0px,#482878 330.7px,#481f70 337.7px,#48186a 344.7px,#481467 351.7px,#471063 358.7px,#470e61 360.0px,#470d60 365.7px,#460a5d 372.7px,#46085c 379.7px,#46075a 386.7px,#46075a 400.7px,#450559 420.0px,#450559 524.7px)"></div>
<div style="position:absolute;left:89.3px;top:251.0px;width:524.7px;height:3.6px;background:linear-gradient(90deg,#450559 0.0px,#450559 90.0px,#46075a 93.9px,#46075a 114.9px,#46085c 120.0px,#46085c 121.9px,#460a5d 128.9px,#470d60 135.9px,#471063 142.9px,#481467 149.9px,#481467 150.0px,#481b6d 156.9px,#482173 163.9px,#472c7a 170.9px,#453581 177.9px,#443983 180.0px,#414287 184.9px,#3c4f8a 191.9px,#365d8d 198.9px,#306a8e 205.9px,#2c718e 210.0px,#2a778e 212.9px,#26828e 219.9px,#228c8d 226.9px,#21918c 230.9px,#1f948c 234.9px,#1f978b 238.9px,#1f978b 240.0px,#1f998a 242.9px,#1f998a 250.9px,#1f978b 254.9px,#1f958b 258.9px,#20928c 262.9px,#218e8d 266.9px,#228d8d 267.9px,#238a8d 270.0px,#25838e 274.9px,#29798e 281.9px,#2e6e8e 288.9px,#34618d 295.9px,#375a8c 300.0px,#3a548c 302.9px,#3f4889 309.9px,#443b84 316.9px,#46307e 323.9px,#482979 330.0px,#482878 330.9px,#482071 337.9px,#481a6c 344.9px,#481467 351.9px,#471063 358.9px,#470e61 360.0px,#470d60 365.9px,#460a5d 372.9px,#46085c 379.9px,#46085c 386.9px,#46075a 390.0px,#46075a 400.9px,#450559 420.0px,#450559 524.7px)"></div>
<div style="position:absolute;left:89.3px;top:254.0px;width:524.7px;height:3.6px;background:linear-gradient(90deg,#450559 0.0px,#450559 90.0px,#46075a 94.2px,#46075a 115.2px,#46085c 120.0px,#46085c 122.2px,#460a5d 129.2px,#470d60 136.2px,#471063 143.2px,#481467 150.0px,#481467 150.2px,#481b6d 157.2px,#482374 164.2px,#472c7a 171.2px,#453781 178.2px,#443983 180.0px,#414287 185.2px,#3c508b 192.2px,#365d8d 199.2px,#2f6b8e 206.2px,#2c718e 210.0px,#2a778e 213.2px,#26828e 220.2px,#228c8d 227.2px,#21918c 231.2px,#1f948c 235.2px,#1f978b 239.2px,#1f978b 240.0px,#1f988b 243.2px,#1f998a 247.2px,#1f988b 251.2px,#1f978b 255.2px,#1f948c 259.2px,#20928c 263.2px,#218e8d 267.2px,#228d8d 268.2px,#238a8d 270.0px,#25838e 275.2px,#29798e 282.2px,#2e6e8e 289.2px,#33628d 296.2px,#375b8d 300.0px,#3a548c 303.2px,#3f4889 310.2px,#433d84 317.2px,#46327e 324.2px,#482979 330.0px,#482878 331.2px,#482071 338.2px,#481a6c 345.2px,#481467 352.2px,#471063 359.2px,#471063 360.0px,#470d60 366.2px,#460a5d 373.2px,#46085c 380.2px,#46085c 387.2px,#46075a 390.0px,#46075a 401.2px,#450559 420.0px,#450559 524.7px)"></div>
<div style="position:absolute;left:89.3px;top:257.0px;width:524.7px;height:3.6px;background:linear-gradient(90deg,#450559 0.0px,#450559 90.0px,#46075a 94.5px,#46075a 108.5px,#46085c 115.5px,#46085c 122.5px,#460a5d 129.5px,#470d60 136.5px,#471063 143.5px,#481467 150.0px,#481668 150.5px,#481b6d 157.5px,#482374 164.5px,#472c7a 171.5px,#453781 178.5px,#443983 180.0px,#414287 185.5px,#3c508b 192.5px,#355e8d 199.5px,#2f6b8e 206.5px,#2d718e 210.0px,#2a778e 213.5px,#26828e 220.5px,#228c8d 227.5px,#21918c 231.5px,#1f948c 235.5px,#1f968b 239.5px,#1f978b 240.0px,#1f988b 243.5px,#1f998a 247.5px,#1f988b 251.5px,#1f978b 255.5px,#1f948c 259.5px,#20928c 263.5px,#218e8d 267.5px,#228c8d 268.5px,#228b8d 270.0px,#25838e 275.5px,#29798e 282.5px,#2e6e8e 289.5px,#33628d 296.5px,#365c8d 300.0px,#39558c 303.5px,#3f4889 310.5px,#433d84 317.5px,#46327e 324.5px,#472a7a 330.0px,#482878 331.5px,#482071 338.5px,#481a6c 345.5px,#481467 352.5px,#471063 359.5px,#471063 360.0px,#470d60 366.5px,#460a5d 373.5px,#46085c 380.5px,#46085c 387.5px,#46075a 390.0px,#46075a 401.5px,#450559 420.0px,#450559 524.7px)"></div>
<div style="position:absolute;left:89.3px;top:260.0px;width:524.7px;height:3.6px;background:linear-gradient(90deg,#450559 0.0px,#450559 90.0px,#46075a 94.7px,#46075a 108.7px,#46085c 115.7px,#46085c 122.7px,#460a5d 129.7px,#470d60 136.7px,#471063 143.7px,#481467 150.0px,#481668 150.7px,#481b6d 157.7px,#482374 164.7px,#472c7a 171.7px,#453781 178.7px,#443983 180.0px,#414287 185.7px,#3c508b 192.7px,#355e8d 199.7px,#2f6b8e 206.7px,#2d718e 210.0px,#2a778e 213.7px,#26828e 220.7px,#228c8d 227.7px,#21918c 231.7px,#20938c 235.7px,#1f968b 239.7px,#1f968b 240.0px,#1f988b 243.7px,#1f998a 247.7px,#1f988b 251.7px,#1f978b 255.7px,#1f948c 259.7px,#20928c 263.7px,#218e8d 267.7px,#228c8d 268.7px,#228b8d 270.0px,#25838e 275.7px,#29798e 282.7px,#2e6e8e 289.7px,#33628d 296.7px,#365c8d 300.0px,#39558c 303.7px,#3e4989 310.7px,#433d84 317.7px,#46327e 324.7px,#472a7a 330.0px,#482979 331.7px,#482071 338.7px,#481a6c 345.7px,#481467 352.7px,#471063 359.7px,#471063 360.0px,#470d60 366.7px,#460a5d 373.7px,#46085c 380.7px,#46085c 387.7px,#46075a 390.0px,#46075a 401.7px,#450559 420.0px,#450559 524.7px)"></div>
<div style="position:absolute;left:89.3px;top:263.0px;width:524.7px;height:3.6px;background:linear-gradient(90deg,#450559 0.0px,#450559 87.7px,#46075a 90.0px,#46075a 108.7px,#46085c 115.7px,#46085c 122.7px,#460a5d 129.7px,#470d60 136.7px,#471164 143.7px,#481467 150.0px,#481668 150.7px,#481b6d 157.7px,#482374 164.7px,#472c7a 171.7px,#453781 178.7px,#443983 180.0px,#414487 185.7px,#3c508b 192.7px,#355e8d 199.7px,#2f6b8e 206.7px,#2c718e 210.0px,#2a778e 213.7px,#26828e 220.7px,#228d8d 227.7px,#21918c 231.7px,#1f948c 235.7px,#1f978b 239.7px,#1f978b 240.0px,#1f998a 243.7px,#1f998a 251.7px,#1f978b 255.7px,#1f958b 259.7px,#20928c 263.7px,#218e8d 267.7px,#228d8d 268.7px,#228c8d 270.0px,#25848e 275.7px,#297a8e 282.7px,#2e6f8e 289.7px,#33628d 296.7px,#365d8d 300.0px,#39558c 303.7px,#3e4989 310.7px,#433d84 317.7px,#46327e 324.7px,#472a7a 330.0px,#482979 331.7px,#482071 338.7px,#481a6c 345.7px,#481467 352.7px,#471063 359.7px,#471063 360.0px,#470d60 366.7px,#460a5d 373.7px,#46085c 380.7px,#46085c 387.7px,#46075a 390.0px,#46075a 401.7px,#450559 420.0px,#450559 524.7px)"></div>
<div style="position:absolute;left:89.3px;top:266.0px;width:524.7px;height:3.6px;background:linear-gradient(90deg,#450559 0.0px,#450559 87.7px,#46075a 90.0px,#46075a 108.7px,#46085c 115.7px,#46085c 122.7px,#460a5d 129.7px,#470d60 136.7px,#471164 143.7px,#481668 150.0px,#481668 150.7px,#481b6d 157.7px,#482374 164.7px,#472d7b 171.7px,#453882 178.7px,#443983 180.0px,#414487 185.7px,#3b518b 192.7px,#355f8d 199.7px,#2f6c8e 206.7px,#2c718e 210.0px,#2a788e 213.7px,#25838e 220.7px,#228d8d 227.7px,#20928c 231.7px,#1f958b 235.7px,#1f988b 239.7px,#1f988b 240.0px,#1f9a8a 243.7px,#1f9a8a 251.7px,#1f988b 255.7px,#1f968b 259.7px,#20928c 263.7px,#218f8d 267.7px,#218e8d 268.7px,#228c8d 270.0px,#25848e 275.7px,#297a8e 282.7px,#2e6f8e 289.7px,#33638d 296.7px,#365d8d 300.0px,#39568c 303.7px,#3e4989 310.7px,#433e85 317.7px,#46337f 324.7px,#472c7a 330.0px,#482979 331.7px,#482071 338.7px,#481a6c 345.7px,#481467 352.7px,#471063 359.7px,#471063 360.0px,#470d60 366.7px,#460b5e 373.7px,#46085c 380.7px,#46085c 387.7px,#46075a 390.0px,#46075a 401.7px,#450559 420.0px,#450559 524.7px)"></div>
<div style="position:absolute;left:89.3px;top:269.0px;width:524.7px;height:3.6px;background:linear-gradient(90deg,#450559 0.0px,#450559 87.7px,#46075a 90.0px,#46075a 108.7px,#46085c 115.7px,#46085c 122.7px,#460a5d 129.7px,#470d60 136.7px,#471164 143.7px,#481668 150.0px,#481668 150.7px,#481c6e 157.7px,#482374 164.7px,#472d7b 171.7px,#453882 178.7px,#443a83 180.0px,#414487 185.7px,#3b518b 192.7px,#355f8d 199.7px,#2f6c8e 206.7px,#2c728e 210.0px,#29798e 213.7px,#25848e 220.7px,#218e8d 227.7px,#20928c 231.7px,#1f968b 235.7px,#1f998a 239.7px,#1f998a 240.0px,#1f9a8a 243.7px,#1e9b8a 247.7px,#1f9a8a 251.7px,#1f998a 255.7px,#1f968b 259.7px,#20938c 263.7px,#21908d 267.7px,#218e8d 268.7px,#228d8d 270.0px,#25858e 275.7px,#297b8e 282.7px,#2d708e 289.7px,#33638d 296.7px,#365d8d 300.0px,#39568c 303.7px,#3e4989 310.7px,#433e85 317.7px,#46337f 324.7px,#472c7a 330.0px,#482979 331.7px,#482173 338.7px,#481a6c 345.7px,#481467 352.7px,#471063 359.7px,#471063 360.0px,#470d60 366.7px,#460b5e 373.7px,#46085c 380.7px,#46085c 387.7px,#46075a 390.0px,#46075a 401.7px,#450559 420.0px,#450559 524.7px)"></div>
<div style="position:absolute;left:89.3px;top:272.0px;width:524.7px;height:3.6px;background:linear-gradient(90deg,#450559 0.0px,#450559 87.7px,#46075a 90.0px,#46075a 108.7px,#46085c 115.7px,#46085c 122.7px,#460a5d 129.7px,#470d60 136.7px,#471164 143.7px,#481668 150.0px,#481668 150.7px,#481c6e 157.7px,#482374 164.7px,#472d7b 171.7px,#453882 178.7px,#443a83 180.0px,#404588 185.7px,#3b518b 192.7px,#355f8d 199.7px,#2e6d8e 206.7px,#2c728e 210.0px,#29798e 213.7px,#25848e 220.7px,#218f8d 227.7px,#20938c 231.7px,#1f968b 235.7px,#1f998a 239.7px,#1f998a 240.0px,#1e9b8a 243.7px,#1e9c89 247.7px,#1e9b8a 251.7px,#1f9a8a 255.7px,#1f978b 259.7px,#1f948c 263.7px,#21908d 267.7px,#218f8d 268.7px,#218e8d 270.0px,#24868e 275.7px,#297b8e 282.7px,#2d708e 289.7px,#32648e 296.7px,#355e8d 300.0px,#39568c 303.7px,#3e4a89 310.7px,#433e85 317.7px,#46337f 324.7px,#472c7a 330.0px,#482979 331.7px,#482173 338.7px,#481a6c 345.7px,#481467 352.7px,#471063 359.7px,#471063 360.0px,#470d60 366.7px,#460b5e 373.7px,#46085c 380.7px,#46085c 387.7px,#46075a 390.0px,#46075a 401.7px,#450559 420.0px,#450559 524.7px)"></div>
<div style="position:absolute;left:89.3px;top:275.0px;width:524.7px;height:3.6px;background:linear-gradient(90deg,#450559 0.0px,#450559 87.7px,#46075a 90.0px,#46075a 108.7px,#46085c 115.7px,#46085c 122.7px,#460b5e 129.7px,#470d60 136.7px,#471164 143.7px,#481668 150.0px,#481668 150.7px,#481c6e 157.7px,#482475 164.7px,#472d7b 171.7px,#453882 178.7px,#443a83 180.0px,#404588 185.7px,#3b528b 192.7px,#34608d 199.7px,#2e6d8e 206.7px,#2c738e 210.0px,#297a8e 213.7px,#25858e 220.7px,#218f8d 227.7px,#20938c 231.7px,#1f978b 235.7px,#1f9a8a 239.7px,#1f9a8a 240.0px,#1e9c89 243.7px,#1e9c89 251.7px,#1f9a8a 255.7px,#1f988b 259.7px,#1f948c 263.7px,#21918c 267.7px,#21908d 268.7px,#218e8d 270.0px,#24868e 275.7px,#287c8e 282.7px,#2d718e 289.7px,#32648e 296.7px,#355e8d 300.0px,#38588c 303.7px,#3e4a89 310.7px,#433e85 317.7px,#46337f 324.7px,#472c7a 330.0px,#482979 331.7px,#482173 338.7px,#481b6d 345.7px,#481467 352.7px,#471063 359.7px,#471063 360.0px,#470d60 366.7px,#460b5e 373.7px,#46085c 380.7px,#46085c 387.7px,#46075a 390.0px,#46075a 401.7px,#450559 420.0px,#450559 524.7px)"></div>
<div style="position:absolute;left:89.3px;top:278.0px;width:524.7px;height:3.6px;background:linear-gradient(90deg,#450559 0.0px,#450559 87.7px,#46075a 90.0px,#46075a 108.7px,#46085c 115.7px,#46085c 122.7px,#460b5e 129.7px,#470d60 136.7px,#471164 143.7px,#481668 150.0px,#481668 150.7px,#481c6e 157.7px,#482475 164.7px,#472d7b 171.7px,#453882 178.7px,#443a83 180.0px,#404588 185.7px,#3b528b 192.7px,#34608d 199.7px,#2e6e8e 206.7px,#2c738e 210.0px,#297a8e 213.7px,#24868e 220.7px,#21908d 227.7px,#1f948c 231.7px,#1f988b 235.7px,#1e9b8a 239.7px,#1e9b8a 240.0px,#1e9d89 243.7px,#1e9d89 251.7px,#1e9b8a 255.7px,#1f998a 259.7px,#1f958b 263.7px,#20928c 267.7px,#21918c 268.7px,#218f8d 270.0px,#24878e 275.7px,#287d8e 282.7px,#2d718e 289.7px,#32658e 296.7px,#355f8d 300.0px,#38588c 303.7px,#3e4a89 310.7px,#423f85 317.7px,#46337f 324.7px,#472c7a 330.0px,#482979 331.7px,#482173 338.7px,#481b6d 345.7px,#481668 352.7px,#471063 359.7px,#471063 360.0px,#470d60 366.7px,#460b5e 373.7px,#46085c 380.7px,#46085c 387.7px,#46075a 390.0px,#46075a 401.7px,#450559 420.0px,#450559 524.7px)"></div>
<div style="position:absolute;left:89.3px;top:281.0px;width:524.7px;height:3.6px;background:linear-gradient(90deg,#450559 0.0px,#450559 87.7px,#46075a 90.0px,#46075a 108.7px,#46085c 115.7px,#46085c 122.7px,#460b5e 129.7px,#470d60 136.7px,#471164 143.7px,#481668 150.0px,#481668 150.7px,#481c6e 157.7px,#482475 164.7px,#472d7b 171.7px,#443983 178.7px,#443a83 180.0px,#404588 185.7px,#3a538b 192.7px,#34618d 199.7px,#2e6e8e 206.7px,#2b748e 210.0px,#297b8e 213.7px,#24868e 220.7px,#21918c 227.7px,#1f958b 231.7px,#1f998a 235.7px,#1e9c89 239.7px,#1e9c89 240.0px,#1e9d89 243.7px,#1f9e89 247.7px,#1e9d89 251.7px,#1e9c89 255.7px,#1f998a 259.7px,#1f968b 263.7px,#20928c 267.7px,#21918c 268.7px,#21908d 270.0px,#23888e 275.7px,#287d8e 282.7px,#2c718e 289.7px,#32658e 296.7px,#355f8d 300.0px,#38588c 303.7px,#3e4c8a 310.7px,#423f85 317.7px,#463480 324.7px,#472c7a 330.0px,#472a7a 331.7px,#482173 338.7px,#481b6d 345.7px,#481668 352.7px,#471164 359.7px,#471063 360.0px,#470d60 366.7px,#460b5e 373.7px,#46085c 380.7px,#46085c 390.0px,#46075a 394.7px,#46075a 401.7px,#450559 420.0px,#450559 524.7px)"></div>
<div style="position:absolute;left:89.3px;top:284.0px;width:524.7px;height:3.6px;background:linear-gradient(90deg,#450559 0.0px,#450559 87.7px,#46075a 90.0px,#46075a 108.7px,#46085c 115.7px,#46085c 122.7px,#460b5e 129.7px,#470d60 136.7px,#471164 143.7px,#481668 150.0px,#481668 150.7px,#481c6e 157.7px,#482475 164.7px,#472e7c 171.7px,#443983 178.7px,#443b84 180.0px,#404688 185.7px,#3a538b 192.7px,#34618d 199.7px,#2e6f8e 206.7px,#2b748e 210.0px,#297b8e 213.7px,#24878e 220.7px,#21918c 227.7px,#1f958b 231.7px,#1f998a 235.7px,#1e9c89 239.7px,#1e9d89 240.0px,#1f9e89 243.7px,#1f9f88 247.7px,#1f9e89 251.7px,#1e9d89 255.7px,#1f9a8a 259.7px,#1f978b 263.7px,#20928c 267.7px,#20928c 268.7px,#21908d 270.0px,#23888e 275.7px,#277e8e 282.7px,#2c718e 289.7px,#32658e 296.7px,#355f8d 300.0px,#38598c 303.7px,#3e4c8a 310.7px,#423f85 317.7px,#463480 324.7px,#472c7a 330.0px,#472a7a 331.7px,#482173 338.7px,#481b6d 345.7px,#481668 352.7px,#471164 359.7px,#471063 360.0px,#470d60 366.7px,#460b5e 373.7px,#46085c 380.7px,#46085c 390.0px,#46075a 394.7px,#46075a 401.7px,#450559 420.0px,#450559 524.7px)"></div>
<div style="position:absolute;left:89.3px;top:287.0px;width:524.7px;height:3.6px;background:linear-gradient(90deg,#450559 0.0px,#450559 87.7px,#46075a 90.0px,#46075a 108.7px,#46085c 115.7px,#46085c 122.7px,#460b5e 129.7px,#470d60 136.7px,#471164 143.7px,#481668 150.0px,#481668 150.7px,#481c6e 157.7px,#482475 164.7px,#472e7c 171.7px,#443983 178.7px,#443b84 180.0px,#404688 185.7px,#3a538b 192.7px,#33628d 199.7px,#2e6f8e 206.7px,#2b758e 210.0px,#287c8e 213.7px,#24878e 220.7px,#20928c 227.7px,#1f968b 231.7px,#1f9a8a 235.7px,#1e9d89 239.7px,#1e9d89 240.0px,#1f9f88 243.7px,#1fa088 247.7px,#1f9f88 251.7px,#1e9d89 255.7px,#1e9b8a 259.7px,#1f978b 263.7px,#20938c 267.7px,#20928c 268.7px,#21918c 270.0px,#23898e 275.7px,#277e8e 282.7px,#2c728e 289.7px,#31668e 296.7px,#34608d 300.0px,#38598c 303.7px,#3e4c8a 310.7px,#423f85 317.7px,#463480 324.7px,#472d7b 330.0px,#472a7a 331.7px,#482173 338.7px,#481b6d 345.7px,#481668 352.7px,#471164 359.7px,#471063 360.0px,#470d60 366.7px,#460b5e 373.7px,#46085c 380.7px,#46085c 390.0px,#46075a 394.7px,#46075a 401.7px,#450559 420.0px,#450559 524.7px)"></div>
<div style="position:absolute;left:89.3px;top:290.0px;width:524.7px;height:3.6px;background:linear-gradient(90deg,#450559 0.0px,#450559 87.8px,#46075a 90.0px,#46075a 108.8px,#46085c 115.8px,#46085c 122.8px,#460b5e 129.8px,#470d60 136.8px,#471164 143.8px,#481668 150.0px,#481668 150.8px,#481c6e 157.8px,#482475 164.8px,#472e7c 171.8px,#443983 178.8px,#443b84 180.0px,#404688 185.8px,#3a548c 192.8px,#33628d 199.8px,#2d708e 206.8px,#2b758e 210.0px,#287c8e 213.8px,#23888e 220.8px,#20928c 227.8px,#1f978b 231.8px,#1e9b8a 235.8px,#1f9e89 239.8px,#1f9e89 240.0px,#1fa088 243.8px,#1fa088 251.8px,#1f9e89 255.8px,#1e9c89 259.8px,#1f988b 263.8px,#1f948c 267.8px,#20928c 268.8px,#20928c 270.0px,#23898e 275.8px,#277f8e 282.8px,#2c728e 289.8px,#31668e 296.8px,#34608d 300.0px,#375a8c 303.8px,#3d4d8a 310.8px,#424086 317.8px,#463480 324.8px,#472d7b 330.0px,#472a7a 331.8px,#482173 338.8px,#481b6d 345.8px,#481668 352.8px,#471164 359.8px,#471164 360.0px,#470d60 366.8px,#460b5e 373.8px,#46085c 380.8px,#46085c 390.0px,#46075a 394.8px,#46075a 401.8px,#450559 420.0px,#450559 524.7px)"></div>
<div style="position:absolute;left:89.3px;top:293.0px;width:524.7px;height:3.6px;background:linear-gradient(90deg,#450559 0.0px,#450559 90.0px,#46075a 95.4px,#46075a 109.4px,#46085c 116.4px,#46085c 123.4px,#460b5e 130.4px,#470d60 137.4px,#471164 144.4px,#481668 150.0px,#481668 151.4px,#481c6e 158.4px,#482475 165.4px,#472e7c 172.4px,#443983 179.4px,#443a83 180.0px,#404688 186.4px,#3a548c 193.4px,#33628d 200.4px,#2d708e 207.4px,#2b748e 210.0px,#287d8e 214.4px,#23888e 221.4px,#20928c 228.4px,#1f978b 232.4px,#1e9b8a 236.4px,#1f9e89 240.0px,#1f9e89 240.4px,#1fa088 244.4px,#1fa188 248.4px,#1fa088 252.4px,#1f9f88 256.4px,#1e9c89 260.4px,#1f988b 264.4px,#1f948c 268.4px,#20938c 269.4px,#20928c 270.0px,#238a8d 276.4px,#277f8e 283.4px,#2c738e 290.4px,#31678e 297.4px,#33628d 300.0px,#375a8c 304.4px,#3d4d8a 311.4px,#424086 318.4px,#463480 325.4px,#472e7c 330.0px,#472a7a 332.4px,#482173 339.4px,#481b6d 346.4px,#481668 353.4px,#471164 360.0px,#471164 360.4px,#470d60 367.4px,#460b5e 374.4px,#460a5d 381.4px,#46085c 388.4px,#46085c 390.0px,#46075a 395.4px,#46075a 402.4px,#450559 420.0px,#450559 524.7px)"></div>
<div style="position:absolute;left:89.3px;top:296.0px;width:524.7px;height:3.6px;background:linear-gradient(90deg,#450559 0.0px,#450559 90.0px,#46075a 96.0px,#46075a 110.0px,#46085c 117.0px,#46085c 124.0px,#460b5e 131.0px,#470d60 138.0px,#471164 145.0px,#481467 150.0px,#481668 152.0px,#481c6e 159.0px,#482475 166.0px,#472e7c 173.0px,#443a83 180.0px,#3f4788 187.0px,#3a548c 194.0px,#33628d 201.0px,#2d708e 208.0px,#2c738e 210.0px,#287d8e 215.0px,#23898e 222.0px,#20938c 229.0px,#1f988b 233.0px,#1e9c89 237.0px,#1f9e89 240.0px,#1f9f88 241.0px,#1fa188 245.0px,#1fa188 253.0px,#1f9f88 257.0px,#1e9d89 261.0px,#1f998a 265.0px,#1f948c 269.0px,#20938c 270.0px,#238a8d 277.0px,#27808e 284.0px,#2c738e 291.0px,#31678e 298.0px,#33638d 300.0px,#375a8c 305.0px,#3d4d8a 312.0px,#424086 319.0px,#463480 326.0px,#472e7c 330.0px,#472a7a 333.0px,#482173 340.0px,#481b6d 347.0px,#481668 354.0px,#471164 360.0px,#471164 361.0px,#470d60 368.0px,#460b5e 375.0px,#460a5d 382.0px,#46085c 389.0px,#46085c 390.0px,#46075a 396.0px,#46075a 403.0px,#450559 420.0px,#450559 524.7px)"></div>
<div style="position:absolute;left:89.3px;top:299.0px;width:524.7px;height:3.6px;background:linear-gradient(90deg,#450559 0.0px,#450559 90.0px,#46075a 96.6px,#46075a 110.6px,#46085c 117.6px,#46085c 124.6px,#460b5e 131.6px,#470d60 138.6px,#471164 145.6px,#481467 150.0px,#481769 152.6px,#481c6e 159.6px,#482475 166.6px,#472e7c 173.6px,#443983 180.0px,#443a83 180.6px,#3f4788 187.6px,#3a548c 194.6px,#33638d 201.6px,#2d718e 208.6px,#2c738e 210.0px,#277e8e 215.6px,#23898e 222.6px,#20938c 229.6px,#1f988b 233.6px,#1e9c89 237.6px,#1f9e89 240.0px,#1f9f88 241.6px,#1fa188 245.6px,#1fa187 249.6px,#1fa188 253.6px,#1fa088 257.6px,#1e9d89 261.6px,#1f998a 265.6px,#1f958b 269.6px,#1f948c 270.0px,#1f948c 270.6px,#228b8d 277.6px,#27808e 284.6px,#2c738e 291.6px,#31678e 298.6px,#32658e 300.0px,#375a8c 305.6px,#3d4d8a 312.6px,#424086 319.6px,#463480 326.6px,#472f7d 330.0px,#472a7a 333.6px,#482173 340.6px,#481b6d 347.6px,#481668 354.6px,#471164 360.0px,#471164 361.6px,#470d60 368.6px,#460b5e 375.6px,#460a5d 382.6px,#46085c 389.6px,#46085c 390.0px,#46075a 396.6px,#46075a 403.6px,#450559 420.0px,#450559 524.7px)"></div>
<div style="position:absolute;left:89.3px;top:302.0px;width:524.7px;height:3.6px;background:linear-gradient(90deg,#450559 0.0px,#450559 90.2px,#46075a 97.2px,#46075a 111.2px,#46085c 118.2px,#46085c 125.2px,#460b5e 132.2px,#470d60 139.2px,#471164 146.2px,#481467 150.0px,#481769 153.2px,#481c6e 160.2px,#482576 167.2px,#472e7c 174.2px,#453882 180.0px,#443a83 181.2px,#3f4788 188.2px,#3a548c 195.2px,#33638d 202.2px,#2d718e 209.2px,#2c728e 210.0px,#277e8e 216.2px,#238a8d 223.2px,#1f948c 230.2px,#1f998a 234.2px,#1e9d89 238.2px,#1f9e89 240.0px,#1fa088 242.2px,#1fa187 246.2px,#1fa187 254.2px,#1fa088 258.2px,#1e9d89 262.2px,#1f9a8a 266.2px,#1f968b 270.0px,#1f958b 270.2px,#1f948c 271.2px,#228b8d 278.2px,#27808e 285.2px,#2b748e 292.2px,#31678e 299.2px,#31668e 300.0px,#375a8c 306.2px,#3d4d8a 313.2px,#424086 320.2px,#453581 327.2px,#46307e 330.0px,#472a7a 334.2px,#482374 341.2px,#481b6d 348.2px,#481668 355.2px,#471365 360.0px,#471164 362.2px,#470d60 369.2px,#460b5e 376.2px,#460a5d 383.2px,#46085c 390.0px,#46085c 390.2px,#46075a 397.2px,#46075a 404.2px,#450559 420.0px,#450559 524.7px)"></div>
<div style="position:absolute;left:89.3px;top:305.0px;width:524.7px;height:3.6px;background:linear-gradient(90deg,#450559 0.0px,#450559 90.8px,#46075a 97.8px,#46075a 111.8px,#46085c 118.8px,#46085c 125.8px,#460b5e 132.8px,#470d60 139.8px,#471164 146.8px,#481467 150.0px,#481769 153.8px,#481c6e 160.8px,#482576 167.8px,#472e7c 174.8px,#453781 180.0px,#443a83 181.8px,#3f4788 188.8px,#39558c 195.8px,#33638d 202.8px,#2d718e 209.8px,#2c718e 210.0px,#277e8e 216.8px,#238a8d 223.8px,#1f948c 230.8px,#1f998a 234.8px,#1e9d89 238.8px,#1f9e89 240.0px,#1fa088 242.8px,#1fa187 246.8px,#1fa287 250.8px,#1fa187 254.8px,#1fa188 258.8px,#1f9e89 262.8px,#1f9a8a 266.8px,#1f978b 270.0px,#1f968b 270.8px,#1f958b 271.8px,#228c8d 278.8px,#26818e 285.8px,#2b748e 292.8px,#31688e 299.8px,#31678e 300.0px,#375b8d 306.8px,#3d4e8a 313.8px,#424086 320.8px,#453581 327.8px,#46327e 330.0px,#472a7a 334.8px,#482374 341.8px,#481b6d 348.8px,#481668 355.8px,#471365 360.0px,#471164 362.8px,#470d60 369.8px,#460b5e 376.8px,#460a5d 383.8px,#46085c 390.0px,#46085c 390.8px,#46075a 397.8px,#46075a 420.0px,#450559 450.0px,#450559 524.7px)"></div>
<div style="position:absolute;left:89.3px;top:308.0px;width:524.7px;height:3.6px;background:linear-gradient(90deg,#450559 0.0px,#450559 91.4px,#46075a 98.4px,#46075a 112.4px,#46085c 119.4px,#46085c 126.4px,#460b5e 133.4px,#470d60 140.4px,#471164 147.4px,#471365 150.0px,#481769 154.4px,#481c6e 161.4px,#482576 168.4px,#472f7d 175.4px,#453781 180.0px,#443a83 182.4px,#3f4788 189.4px,#39558c 196.4px,#32648e 203.4px,#2d718e 210.0px,#2c718e 210.4px,#277f8e 217.4px,#228b8d 224.4px,#1f958b 231.4px,#1f9a8a 235.4px,#1f9e89 239.4px,#1f9e89 240.0px,#1fa188 243.4px,#1fa287 247.4px,#1fa287 255.4px,#1fa188 259.4px,#1f9e89 263.4px,#1e9b8a 267.4px,#1f988b 270.0px,#1f968b 271.4px,#1f958b 272.4px,#228c8d 279.4px,#26818e 286.4px,#2b748e 293.4px,#30698e 300.0px,#31688e 300.4px,#375b8d 307.4px,#3d4e8a 314.4px,#424186 321.4px,#453581 328.4px,#46337f 330.0px,#472c7a 335.4px,#482374 342.4px,#481b6d 349.4px,#481668 356.4px,#471365 360.0px,#471164 363.4px,#470d60 370.4px,#460b5e 377.4px,#460a5d 384.4px,#46085c 390.0px,#46085c 391.4px,#46075a 398.4px,#46075a 420.0px,#450559 450.0px,#450559 524.7px)"></div>
<div style="position:absolute;left:89.3px;top:311.0px;width:524.7px;height:3.6px;background:linear-gradient(90deg,#450559 0.0px,#450559 92.0px,#46075a 99.0px,#46075a 113.0px,#46085c 120.0px,#46085c 127.0px,#460b5e 134.0px,#470e61 141.0px,#471164 148.0px,#471365 150.0px,#481769 155.0px,#481d6f 162.0px,#482576 169.0px,#472f7d 176.0px,#453581 180.0px,#443a83 183.0px,#3f4788 190.0px,#39558c 197.0px,#32648e 204.0px,#2d708e 210.0px,#2c718e 211.0px,#277f8e 218.0px,#228b8d 225.0px,#1f958b 232.0px,#1f9a8a 236.0px,#1f9e89 240.0px,#1fa188 244.0px,#1fa287 248.0px,#20a386 252.0px,#1fa287 256.0px,#1fa187 260.0px,#1f9f88 264.0px,#1e9b8a 268.0px,#1f998a 270.0px,#1f978b 272.0px,#1f968b 273.0px,#228c8d 280.0px,#26828e 287.0px,#2b758e 294.0px,#306a8e 300.0px,#31688e 301.0px,#375b8d 308.0px,#3d4e8a 315.0px,#424186 322.0px,#453581 329.0px,#463480 330.0px,#472c7a 336.0px,#482374 343.0px,#481b6d 350.0px,#481668 357.0px,#481467 360.0px,#471164 364.0px,#470d60 371.0px,#460b5e 378.0px,#460a5d 385.0px,#46085c 390.0px,#46085c 392.0px,#46075a 399.0px,#46075a 420.0px,#450559 450.0px,#450559 524.7px)"></div>
<div style="position:absolute;left:89.3px;top:314.0px;width:524.7px;height:3.6px;background:linear-gradient(90deg,#450559 0.0px,#450559 92.6px,#46075a 99.6px,#46075a 113.6px,#46085c 120.0px,#46085c 127.6px,#460b5e 134.6px,#470e61 141.6px,#471164 148.6px,#471365 150.0px,#481769 155.6px,#481d6f 162.6px,#482576 169.6px,#472f7d 176.6px,#463480 180.0px,#443a83 183.6px,#3f4889 190.6px,#39558c 197.6px,#32648e 204.6px,#2e6f8e 210.0px,#2c718e 211.6px,#277f8e 218.6px,#228b8d 225.6px,#1f958b 232.6px,#1e9b8a 236.6px,#1f9e89 240.0px,#1f9f88 240.6px,#1fa187 244.6px,#20a386 248.6px,#20a386 256.6px,#1fa187 260.6px,#1f9f88 264.6px,#1e9c89 268.6px,#1f9a8a 270.0px,#1f978b 272.6px,#1f968b 273.6px,#228d8d 280.6px,#26828e 287.6px,#2b758e 294.6px,#2f6c8e 300.0px,#30698e 301.6px,#375b8d 308.6px,#3d4e8a 315.6px,#424186 322.6px,#453581 329.6px,#453581 330.0px,#472c7a 336.6px,#482374 343.6px,#481b6d 350.6px,#481668 357.6px,#481467 360.0px,#471164 364.6px,#470d60 371.6px,#460b5e 378.6px,#460a5d 385.6px,#46085c 390.0px,#46085c 392.6px,#46075a 399.6px,#46075a 420.0px,#450559 450.0px,#450559 524.7px)"></div>
<div style="position:absolute;left:89.3px;top:317.0px;width:524.7px;height:3.6px;background:linear-gradient(90deg,#450559 0.0px,#450559 93.2px,#46075a 100.2px,#46075a 114.2px,#46085c 120.0px,#46085c 128.2px,#460b5e 135.2px,#470e61 142.2px,#471164 149.2px,#471365 150.0px,#481769 156.2px,#481d6f 163.2px,#482576 170.2px,#472f7d 177.2px,#463480 180.0px,#443a83 184.2px,#3f4889 191.2px,#39568c 198.2px,#32648e 205.2px,#2e6e8e 210.0px,#2c728e 212.2px,#27808e 219.2px,#228c8d 226.2px,#1f968b 233.2px,#1e9b8a 237.2px,#1f9e89 240.0px,#1f9f88 241.2px,#1fa187 245.2px,#20a386 249.2px,#20a486 253.2px,#20a386 257.2px,#1fa287 261.2px,#1fa088 265.2px,#1e9c89 269.2px,#1e9b8a 270.0px,#1f988b 273.2px,#1f968b 274.2px,#228d8d 281.2px,#26828e 288.2px,#2b758e 295.2px,#2e6d8e 300.0px,#30698e 302.2px,#365c8d 309.2px,#3d4e8a 316.2px,#424186 323.2px,#453581 330.0px,#453581 330.2px,#472c7a 337.2px,#482374 344.2px,#481b6d 351.2px,#481668 358.2px,#481467 360.0px,#471164 365.2px,#470d60 372.2px,#460b5e 379.2px,#460a5d 386.2px,#46085c 390.0px,#46085c 393.2px,#46075a 400.2px,#46075a 420.0px,#450559 450.0px,#450559 524.7px)"></div>
<div style="position:absolute;left:89.3px;top:320.0px;width:524.7px;height:3.6px;background:linear-gradient(90deg,#450559 0.0px,#450559 93.8px,#46075a 100.8px,#46075a 120.0px,#46085c 121.8px,#46085c 128.8px,#460b5e 135.8px,#470e61 142.8px,#471164 149.8px,#471164 150.0px,#481769 156.8px,#481d6f 163.8px,#482576 170.8px,#472f7d 177.8px,#46337f 180.0px,#443b84 184.8px,#3f4889 191.8px,#39568c 198.8px,#32658e 205.8px,#2e6d8e 210.0px,#2c728e 212.8px,#27808e 219.8px,#228c8d 226.8px,#1f968b 233.8px,#1e9c89 237.8px,#1f9e89 240.0px,#1fa088 241.8px,#1fa287 245.8px,#20a486 249.8px,#20a486 257.8px,#1fa287 261.8px,#1fa088 265.8px,#1e9d89 269.8px,#1e9d89 270.0px,#1f988b 273.8px,#1f978b 274.8px,#218e8d 281.8px,#26828e 288.8px,#2a768e 295.8px,#2e6e8e 300.0px,#30698e 302.8px,#365c8d 309.8px,#3d4e8a 316.8px,#424186 323.8px,#453781 330.0px,#453581 330.8px,#472c7a 337.8px,#482374 344.8px,#481b6d 351.8px,#481668 358.8px,#481467 360.0px,#471164 365.8px,#470d60 372.8px,#460b5e 379.8px,#460a5d 386.8px,#46085c 390.0px,#46085c 393.8px,#46075a 400.8px,#46075a 420.0px,#450559 450.0px,#450559 524.7px)"></div>
<div style="position:absolute;left:89.3px;top:323.0px;width:524.7px;height:3.6px;background:linear-gradient(90deg,#450559 0.0px,#450559 94.1px,#46075a 101.1px,#46075a 120.0px,#46085c 122.1px,#46085c 129.1px,#460b5e 136.1px,#470e61 143.1px,#471164 150.0px,#471164 150.1px,#481769 157.1px,#481d6f 164.1px,#482576 171.1px,#472f7d 178.1px,#46327e 180.0px,#443b84 185.1px,#3f4889 192.1px,#39568c 199.1px,#32658e 206.1px,#2e6d8e 210.0px,#2c728e 213.1px,#27808e 220.1px,#228c8d 227.1px,#1f978b 234.1px,#1e9c89 238.1px,#1f9e89 240.0px,#1fa088 242.1px,#1fa287 246.1px,#20a486 250.1px,#21a585 254.1px,#20a486 258.1px,#20a386 262.1px,#1fa188 266.1px,#1e9d89 270.0px,#1e9d89 270.1px,#1f998a 274.1px,#1f978b 275.1px,#218e8d 282.1px,#26828e 289.1px,#2a768e 296.1px,#2e6f8e 300.0px,#30698e 303.1px,#365c8d 310.1px,#3c4f8a 317.1px,#424186 324.1px,#453882 330.0px,#453581 331.1px,#472c7a 338.1px,#482374 345.1px,#481c6e 352.1px,#481668 359.1px,#481668 360.0px,#471164 366.1px,#470e61 373.1px,#460b5e 380.1px,#460a5d 387.1px,#46085c 390.0px,#46085c 394.1px,#46075a 401.1px,#46075a 420.0px,#450559 450.0px,#450559 524.7px)"></div>
<div style="position:absolute;left:89.3px;top:326.0px;width:524.7px;height:3.6px;background:linear-gradient(90deg,#450559 0.0px,#450559 94.5px,#46075a 101.5px,#46075a 120.0px,#46085c 122.5px,#46085c 129.5px,#460b5e 136.5px,#470e61 143.5px,#471164 150.0px,#471164 150.5px,#481769 157.5px,#481d6f 164.5px,#482576 171.5px,#472f7d 178.5px,#46327e 180.0px,#443b84 185.5px,#3f4889 192.5px,#39568c 199.5px,#32658e 206.5px,#2f6c8e 210.0px,#2c728e 213.5px,#26818e 220.5px,#228d8d 227.5px,#1f978b 234.5px,#1e9c89 238.5px,#1f9e89 240.0px,#1fa088 242.5px,#20a386 246.5px,#20a486 250.5px,#21a585 254.5px,#21a585 258.5px,#20a386 262.5px,#1fa188 266.5px,#1f9e89 270.0px,#1e9d89 270.5px,#1f998a 274.5px,#1f988b 275.5px,#218e8d 282.5px,#26828e 289.5px,#2a768e 296.5px,#2d708e 300.0px,#306a8e 303.5px,#365c8d 310.5px,#3c4f8a 317.5px,#424186 324.5px,#443983 330.0px,#453781 331.5px,#472c7a 338.5px,#482374 345.5px,#481c6e 352.5px,#481668 359.5px,#481668 360.0px,#471164 366.5px,#470e61 373.5px,#460b5e 380.5px,#460a5d 387.5px,#46085c 390.0px,#46085c 394.5px,#46075a 401.5px,#46075a 420.0px,#450559 450.0px,#450559 524.7px)"></div>
<div style="position:absolute;left:89.3px;top:329.0px;width:524.7px;height:3.6px;background:linear-gradient(90deg,#450559 0.0px,#450559 94.9px,#46075a 101.9px,#46075a 120.0px,#46085c 122.9px,#46085c 129.9px,#460b5e 136.9px,#470e61 143.9px,#471164 150.0px,#471164 150.9px,#481769 157.9px,#481d6f 164.9px,#482576 171.9px,#472f7d 178.9px,#46327e 180.0px,#443b84 185.9px,#3f4889 192.9px,#39568c 199.9px,#32658e 206.9px,#2f6c8e 210.0px,#2c738e 213.9px,#26818e 220.9px,#228d8d 227.9px,#1f978b 234.9px,#1e9d89 238.9px,#1f9e89 240.0px,#1fa188 242.9px,#20a386 246.9px,#21a585 250.9px,#21a585 258.9px,#20a386 262.9px,#1fa187 266.9px,#1f9f88 270.0px,#1f9e89 270.9px,#1f998a 274.9px,#1f988b 275.9px,#218f8d 282.9px,#26828e 289.9px,#2a768e 296.9px,#2d718e 300.0px,#306a8e 303.9px,#365c8d 310.9px,#3c4f8a 317.9px,#414287 324.9px,#443983 330.0px,#453781 331.9px,#472c7a 338.9px,#482374 345.9px,#481c6e 352.9px,#481668 359.9px,#481668 360.0px,#471164 366.9px,#470e61 373.9px,#460b5e 380.9px,#460a5d 387.9px,#46085c 390.0px,#46085c 394.9px,#46075a 401.9px,#46075a 420.0px,#450559 450.0px,#450559 524.7px)"></div>
<div style="position:absolute;left:89.3px;top:332.0px;width:524.7px;height:3.6px;background:linear-gradient(90deg,#450559 0.0px,#450559 95.3px,#46075a 102.3px,#46075a 120.0px,#46085c 123.3px,#460a5d 130.3px,#460b5e 137.3px,#470e61 144.3px,#471164 150.0px,#471164 151.3px,#481769 158.3px,#481d6f 165.3px,#482576 172.3px,#472f7d 179.3px,#46307e 180.0px,#443b84 186.3px,#3e4989 193.3px,#38588c 200.3px,#31668e 207.3px,#2f6b8e 210.0px,#2c738e 214.3px,#26818e 221.3px,#218e8d 228.3px,#1f988b 235.3px,#1e9d89 239.3px,#1f9e89 240.0px,#1fa188 243.3px,#20a386 247.3px,#21a585 251.3px,#21a685 255.3px,#21a585 259.3px,#20a486 263.3px,#1fa187 267.3px,#1f9f88 270.0px,#1f9e89 271.3px,#1f9a8a 275.3px,#1f988b 276.3px,#218f8d 283.3px,#25838e 290.3px,#2a778e 297.3px,#2c718e 300.0px,#306a8e 304.3px,#365d8d 311.3px,#3c4f8a 318.3px,#414287 325.3px,#443a83 330.0px,#453781 332.3px,#472c7a 339.3px,#482374 346.3px,#481c6e 353.3px,#481668 360.0px,#481668 360.3px,#471164 367.3px,#470e61 374.3px,#460b5e 381.3px,#460a5d 388.3px,#46085c 390.0px,#46085c 395.3px,#46075a 402.3px,#46075a 420.0px,#450559 450.0px,#450559 524.7px)"></div>
<div style="position:absolute;left:89.3px;top:335.0px;width:524.7px;height:3.6px;background:linear-gradient(90deg,#450559 0.0px,#450559 95.6px,#46075a 102.6px,#46075a 120.0px,#46085c 123.6px,#46085c 130.6px,#460b5e 137.6px,#470e61 144.6px,#471164 150.0px,#471164 151.6px,#481769 158.6px,#481d6f 165.6px,#482576 172.6px,#472f7d 179.6px,#46307e 180.0px,#443b84 186.6px,#3e4989 193.6px,#38588c 200.6px,#31668e 207.6px,#2f6b8e 210.0px,#2c738e 214.6px,#26818e 221.6px,#218e8d 228.6px,#1f988b 235.6px,#1e9d89 239.6px,#1f9e89 240.0px,#1fa187 243.6px,#20a486 247.6px,#21a685 251.6px,#21a685 259.6px,#20a486 263.6px,#1fa187 267.6px,#1fa088 270.0px,#1f9f88 271.6px,#1f9a8a 275.6px,#1f998a 276.6px,#218f8d 283.6px,#25838e 290.6px,#2a778e 297.6px,#2c728e 300.0px,#306a8e 304.6px,#365d8d 311.6px,#3c4f8a 318.6px,#414287 325.6px,#443a83 330.0px,#453781 332.6px,#472c7a 339.6px,#482374 346.6px,#481c6e 353.6px,#481769 360.0px,#481668 360.6px,#471164 367.6px,#470e61 374.6px,#460b5e 381.6px,#460a5d 388.6px,#46085c 390.0px,#46085c 395.6px,#46075a 402.6px,#46075a 420.0px,#450559 450.0px,#450559 524.7px)"></div>
<div style="position:absolute;left:89.3px;top:338.0px;width:524.7px;height:3.6px;background:linear-gradient(90deg,#450559 0.0px,#450559 96.0px,#46075a 103.0px,#46075a 120.0px,#46085c 124.0px,#460a5d 131.0px,#460b5e 138.0px,#470e61 145.0px,#471063 150.0px,#471164 152.0px,#481769 159.0px,#481d6f 166.0px,#482576 173.0px,#472f7d 180.0px,#443b84 187.0px,#3e4989 194.0px,#38588c 201.0px,#31668e 208.0px,#306a8e 210.0px,#2c738e 215.0px,#26828e 222.0px,#218e8d 229.0px,#1f988b 236.0px,#1f9e89 240.0px,#1fa187 244.0px,#20a486 248.0px,#21a685 252.0px,#22a785 256.0px,#21a685 260.0px,#20a486 264.0px,#1fa287 268.0px,#1fa188 270.0px,#1f9f88 272.0px,#1f9a8a 276.0px,#1f998a 277.0px,#21908d 284.0px,#25838e 291.0px,#2a778e 298.0px,#2c738e 300.0px,#306a8e 305.0px,#365d8d 312.0px,#3c4f8a 319.0px,#414287 326.0px,#443b84 330.0px,#453781 333.0px,#472c7a 340.0px,#482374 347.0px,#481c6e 354.0px,#481769 360.0px,#481668 361.0px,#471164 368.0px,#470e61 375.0px,#460b5e 382.0px,#460a5d 389.0px,#46085c 390.0px,#46085c 396.0px,#46075a 403.0px,#46075a 420.0px,#450559 450.0px,#450559 524.7px)"></div>
<div style="position:absolute;left:89.3px;top:341.0px;width:524.7px;height:3.6px;background:linear-gradient(90deg,#450559 0.0px,#450559 96.4px,#46075a 103.4px,#46075a 120.0px,#46085c 124.4px,#460a5d 131.4px,#460b5e 138.4px,#470e61 145.4px,#471063 150.0px,#471164 152.4px,#481769 159.4px,#481d6f 166.4px,#482576 173.4px,#472f7d 180.0px,#46307e 180.4px,#443b84 187.4px,#3e4989 194.4px,#38588c 201.4px,#31668e 208.4px,#30698e 210.0px,#2b748e 215.4px,#26828e 222.4px,#218e8d 229.4px,#1f998a 236.4px,#1f9e89 240.0px,#1f9e89 240.4px,#1fa187 244.4px,#20a486 248.4px,#21a685 252.4px,#22a785 256.4px,#21a685 260.4px,#21a585 264.4px,#1fa287 268.4px,#1fa187 270.0px,#1f9f88 272.4px,#1e9b8a 276.4px,#1f998a 277.4px,#21908d 284.4px,#25848e 291.4px,#2a778e 298.4px,#2b748e 300.0px,#2f6b8e 305.4px,#365d8d 312.4px,#3c508b 319.4px,#414287 326.4px,#433d84 330.0px,#453781 333.4px,#472c7a 340.4px,#482374 347.4px,#481c6e 354.4px,#481769 360.0px,#481668 361.4px,#471164 368.4px,#470e61 375.4px,#460b5e 382.4px,#460a5d 389.4px,#460a5d 390.0px,#46085c 396.4px,#46075a 403.4px,#46075a 420.0px,#450559 450.0px,#450559 524.7px)"></div>
<div style="position:absolute;left:89.3px;top:344.0px;width:524.7px;height:3.6px;background:linear-gradient(90deg,#450559 0.0px,#450559 96.8px,#46075a 103.8px,#46075a 120.0px,#46085c 124.8px,#460a5d 131.8px,#460b5e 138.8px,#470e61 145.8px,#471063 150.0px,#471164 152.8px,#481769 159.8px,#481d6f 166.8px,#482677 173.8px,#472f7d 180.0px,#46307e 180.8px,#433d84 187.8px,#3e4989 194.8px,#38588c 201.8px,#31668e 208.8px,#30698e 210.0px,#2b748e 215.8px,#26828e 222.8px,#218f8d 229.8px,#1f998a 236.8px,#1e9d89 240.0px,#1f9e89 240.8px,#1fa287 244.8px,#21a585 248.8px,#22a785 252.8px,#22a785 260.8px,#21a585 264.8px,#1fa287 268.8px,#1fa187 270.0px,#1fa088 272.8px,#1e9b8a 276.8px,#1f9a8a 277.8px,#21908d 284.8px,#25848e 291.8px,#2a788e 298.8px,#2b758e 300.0px,#2f6b8e 305.8px,#365d8d 312.8px,#3c508b 319.8px,#414287 326.8px,#433d84 330.0px,#453781 333.8px,#472c7a 340.8px,#482374 347.8px,#481c6e 354.8px,#481769 360.0px,#481668 361.8px,#471164 368.8px,#470e61 375.8px,#460b5e 382.8px,#460a5d 389.8px,#460a5d 390.0px,#46085c 396.8px,#46075a 403.8px,#46075a 420.0px,#450559 450.0px,#450559 524.7px)"></div>
<div style="position:absolute;left:89.3px;top:347.0px;width:524.7px;height:3.6px;background:linear-gradient(90deg,#450559 0.0px,#450559 97.1px,#46075a 104.1px,#46075a 120.0px,#46085c 125.1px,#460a5d 132.1px,#460b5e 139.1px,#470e61 146.1px,#471063 150.0px,#471164 153.1px,#481769 160.1px,#481d6f 167.1px,#482576 174.1px,#472e7c 180.0px,#46307e 181.1px,#433d84 188.1px,#3e4989 195.1px,#38588c 202.1px,#31668e 209.1px,#31688e 210.0px,#2b748e 216.1px,#26828e 223.1px,#218f8d 230.1px,#1f998a 237.1px,#1e9d89 240.0px,#1f9f88 241.1px,#1fa287 245.1px,#21a585 249.1px,#22a785 253.1px,#22a884 257.1px,#22a785 261.1px,#21a685 265.1px,#20a386 269.1px,#1fa287 270.0px,#1fa088 273.1px,#1e9b8a 277.1px,#1f9a8a 278.1px,#21918c 285.1px,#25848e 292.1px,#2a788e 299.1px,#2a768e 300.0px,#2f6b8e 306.1px,#355e8d 313.1px,#3c508b 320.1px,#414287 327.1px,#433e85 330.0px,#453781 334.1px,#472d7b 341.1px,#482475 348.1px,#481c6e 355.1px,#48186a 360.0px,#481668 362.1px,#471164 369.1px,#470e61 376.1px,#460b5e 383.1px,#460a5d 390.0px,#460a5d 390.1px,#46085c 397.1px,#46075a 404.1px,#46075a 420.0px,#450559 450.0px,#450559 524.7px)"></div>
<div style="position:absolute;left:89.3px;top:350.0px;width:524.7px;height:3.6px;background:linear-gradient(90deg,#450559 0.0px,#450559 97.5px,#46075a 104.5px,#46075a 120.0px,#46085c 125.5px,#460a5d 132.5px,#460b5e 139.5px,#470e61 146.5px,#471063 150.0px,#471164 153.5px,#481769 160.5px,#481d6f 167.5px,#482677 174.5px,#472e7c 180.0px,#46307e 181.5px,#433d84 188.5px,#3e4989 195.5px,#38588c 202.5px,#31678e 209.5px,#31688e 210.0px,#2b748e 216.5px,#26828e 223.5px,#218f8d 230.5px,#1f9a8a 237.5px,#1e9d89 240.0px,#1f9f88 241.5px,#1fa287 245.5px,#21a685 249.5px,#22a884 253.5px,#22a884 261.5px,#21a685 265.5px,#20a386 269.5px,#20a386 270.0px,#1fa088 273.5px,#1e9c89 277.5px,#1f9a8a 278.5px,#21918c 285.5px,#25858e 292.5px,#2a788e 299.5px,#2a778e 300.0px,#2f6b8e 306.5px,#355e8d 313.5px,#3c508b 320.5px,#414287 327.5px,#423f85 330.0px,#453781 334.5px,#472d7b 341.5px,#482475 348.5px,#481c6e 355.5px,#48186a 360.0px,#481668 362.5px,#471164 369.5px,#470e61 376.5px,#460b5e 383.5px,#460a5d 390.0px,#460a5d 390.5px,#46085c 397.5px,#46075a 404.5px,#46075a 420.0px,#450559 450.0px,#450559 524.7px)"></div>
<div style="position:absolute;left:89.3px;top:353.0px;width:524.7px;height:3.6px;background:linear-gradient(90deg,#450559 0.0px,#450559 97.9px,#46075a 104.9px,#46075a 120.0px,#46085c 125.9px,#460a5d 132.9px,#460b5e 139.9px,#470e61 146.9px,#471063 150.0px,#471164 153.9px,#481769 160.9px,#481d6f 167.9px,#482677 174.9px,#472d7b 180.0px,#46307e 181.9px,#433d84 188.9px,#3e4989 195.9px,#38598c 202.9px,#31678e 209.9px,#31678e 210.0px,#2b758e 216.9px,#26828e 223.9px,#21908d 230.9px,#1f9a8a 237.9px,#1e9d89 240.0px,#1fa088 241.9px,#20a386 245.9px,#21a685 249.9px,#22a884 253.9px,#23a983 257.9px,#22a884 261.9px,#21a685 265.9px,#20a486 269.9px,#20a386 270.0px,#1fa188 273.9px,#1e9c89 277.9px,#1e9b8a 278.9px,#21918c 285.9px,#25858e 292.9px,#2a788e 299.9px,#2a788e 300.0px,#2f6c8e 306.9px,#355e8d 313.9px,#3c508b 320.9px,#414487 327.9px,#423f85 330.0px,#453781 334.9px,#472d7b 341.9px,#482475 348.9px,#481c6e 355.9px,#48186a 360.0px,#481668 362.9px,#471164 369.9px,#470e61 376.9px,#460b5e 383.9px,#460a5d 390.0px,#460a5d 390.9px,#46085c 397.9px,#46075a 404.9px,#46075a 420.0px,#450559 450.0px,#450559 524.7px)"></div>
<div style="position:absolute;left:89.3px;top:356.0px;width:524.7px;height:3.6px;background:linear-gradient(90deg,#450559 0.0px,#450559 98.3px,#46075a 105.3px,#46075a 120.0px,#46085c 126.3px,#460a5d 133.3px,#460b5e 140.3px,#470e61 147.3px,#471063 150.0px,#471164 154.3px,#481769 161.3px,#481d6f 168.3px,#482677 175.3px,#472d7b 180.0px,#46307e 182.3px,#433d84 189.3px,#3e4a89 196.3px,#38598c 203.3px,#31678e 210.0px,#31678e 210.3px,#2b758e 217.3px,#25838e 224.3px,#21908d 231.3px,#1e9b8a 238.3px,#1e9d89 240.0px,#1fa088 242.3px,#20a386 246.3px,#21a685 250.3px,#22a884 254.3px,#23a983 258.3px,#22a884 262.3px,#22a785 266.3px,#20a486 270.0px,#20a486 270.3px,#1fa188 274.3px,#1e9c89 278.3px,#1e9b8a 279.3px,#21918c 286.3px,#25858e 293.3px,#29798e 300.0px,#29798e 300.3px,#2f6c8e 307.3px,#355e8d 314.3px,#3c508b 321.3px,#414487 328.3px,#424086 330.0px,#453781 335.3px,#472d7b 342.3px,#482475 349.3px,#481c6e 356.3px,#48186a 360.0px,#481668 363.3px,#471164 370.3px,#470e61 377.3px,#460b5e 384.3px,#460a5d 390.0px,#460a5d 391.3px,#46085c 398.3px,#46075a 405.3px,#46075a 420.0px,#450559 450.0px,#450559 524.7px)"></div>
<div style="position:absolute;left:89.3px;top:359.0px;width:524.7px;height:3.6px;background:linear-gradient(90deg,#450559 0.0px,#450559 98.6px,#46075a 105.6px,#46075a 120.0px,#46085c 126.6px,#460a5d 133.6px,#460b5e 140.6px,#470e61 147.6px,#471063 150.0px,#471164 154.6px,#481769 161.6px,#481d6f 168.6px,#482677 175.6px,#472d7b 180.0px,#46307e 182.6px,#433d84 189.6px,#3e4a89 196.6px,#38598c 203.6px,#31668e 210.0px,#31678e 210.6px,#2b758e 217.6px,#25838e 224.6px,#21908d 231.6px,#1e9b8a 238.6px,#1e9d89 240.0px,#1fa088 242.6px,#20a486 246.6px,#22a785 250.6px,#23a983 254.6px,#23a983 262.6px,#22a785 266.6px,#21a585 270.0px,#20a486 270.6px,#1fa188 274.6px,#1e9d89 278.6px,#1e9b8a 279.6px,#20928c 286.6px,#25858e 293.6px,#297a8e 300.0px,#29798e 300.6px,#2f6c8e 307.6px,#355e8d 314.6px,#3b518b 321.6px,#414487 328.6px,#424186 330.0px,#453882 335.6px,#472d7b 342.6px,#482475 349.6px,#481c6e 356.6px,#481a6c 360.0px,#481769 363.6px,#471164 370.6px,#470e61 377.6px,#460b5e 384.6px,#460a5d 390.0px,#460a5d 391.6px,#46085c 398.6px,#46075a 405.6px,#46075a 420.0px,#450559 450.0px,#450559 524.7px)"></div>
<div style="position:absolute;left:89.3px;top:362.0px;width:524.7px;height:3.6px;background:linear-gradient(90deg,#450559 0.0px,#450559 98.7px,#46075a 105.7px,#46075a 120.0px,#46085c 126.7px,#460a5d 133.7px,#460b5e 140.7px,#470e61 147.7px,#471063 150.0px,#471164 154.7px,#481769 161.7px,#481d6f 168.7px,#482677 175.7px,#472d7b 180.0px,#46307e 182.7px,#433d84 189.7px,#3e4a89 196.7px,#38598c 203.7px,#31668e 210.0px,#31678e 210.7px,#2b758e 217.7px,#25838e 224.7px,#21908d 231.7px,#1e9b8a 238.7px,#1e9d89 240.0px,#1fa088 242.7px,#20a486 246.7px,#22a785 250.7px,#23a983 254.7px,#23a983 262.7px,#22a785 266.7px,#21a585 270.0px,#20a486 270.7px,#1fa187 274.7px,#1e9d89 278.7px,#1e9b8a 279.7px,#20928c 286.7px,#25858e 293.7px,#297a8e 300.0px,#29798e 300.7px,#2f6c8e 307.7px,#355e8d 314.7px,#3c508b 321.7px,#414487 328.7px,#424186 330.0px,#453882 335.7px,#472d7b 342.7px,#482475 349.7px,#481c6e 356.7px,#481a6c 360.0px,#481769 363.7px,#471164 370.7px,#470e61 377.7px,#460b5e 384.7px,#460a5d 390.0px,#460a5d 391.7px,#46085c 398.7px,#46075a 405.7px,#46075a 420.0px,#450559 450.0px,#450559 524.7px)"></div>
<div style="position:absolute;left:89.3px;top:365.0px;width:524.7px;height:3.6px;background:linear-gradient(90deg,#450559 0.0px,#450559 98.7px,#46075a 105.7px,#46075a 120.0px,#46085c 126.7px,#460a5d 133.7px,#460b5e 140.7px,#470e61 147.7px,#471063 150.0px,#471164 154.7px,#481769 161.7px,#481d6f 168.7px,#482677 175.7px,#472d7b 180.0px,#46307e 182.7px,#433d84 189.7px,#3e4a89 196.7px,#38598c 203.7px,#31668e 210.0px,#31678e 210.7px,#2b758e 217.7px,#25838e 224.7px,#21908d 231.7px,#1e9b8a 238.7px,#1e9d89 240.0px,#1fa088 242.7px,#20a486 246.7px,#22a785 250.7px,#23a983 254.7px,#23a983 262.7px,#22a785 266.7px,#21a585 270.0px,#20a486 270.7px,#1fa187 274.7px,#1e9d89 278.7px,#1e9b8a 279.7px,#20928c 286.7px,#25858e 293.7px,#297a8e 300.0px,#29798e 300.7px,#2f6c8e 307.7px,#355e8d 314.7px,#3c508b 321.7px,#414487 328.7px,#424186 330.0px,#453882 335.7px,#472d7b 342.7px,#482475 349.7px,#481c6e 356.7px,#481a6c 360.0px,#481769 363.7px,#471164 370.7px,#470e61 377.7px,#460b5e 384.7px,#460a5d 390.0px,#460a5d 391.7px,#46085c 398.7px,#46075a 405.7px,#46075a 420.0px,#450559 450.0px,#450559 524.7px)"></div>
<div style="position:absolute;left:89.3px;top:368.0px;width:524.7px;height:2.6px;background:linear-gradient(90deg,#450559 0.0px,#450559 98.7px,#46075a 105.7px,#46075a 120.0px,#46085c 126.7px,#460a5d 133.7px,#460b5e 140.7px,#470e61 147.7px,#471063 150.0px,#471164 154.7px,#481769 161.7px,#481d6f 168.7px,#482677 175.7px,#472d7b 180.0px,#46307e 182.7px,#433d84 189.7px,#3e4a89 196.7px,#38598c 203.7px,#31668e 210.0px,#31678e 210.7px,#2b758e 217.7px,#25838e 224.7px,#21908d 231.7px,#1e9b8a 238.7px,#1e9d89 240.0px,#1fa088 242.7px,#20a486 246.7px,#22a785 250.7px,#23a983 254.7px,#23a983 262.7px,#22a785 266.7px,#21a585 270.0px,#20a486 270.7px,#1fa187 274.7px,#1e9d89 278.7px,#1e9b8a 279.7px,#20928c 286.7px,#25858e 293.7px,#297a8e 300.0px,#29798e 300.7px,#2f6c8e 307.7px,#355e8d 314.7px,#3c508b 321.7px,#414487 328.7px,#424186 330.0px,#453882 335.7px,#472d7b 342.7px,#482475 349.7px,#481c6e 356.7px,#481a6c 360.0px,#481769 363.7px,#471164 370.7px,#470e61 377.7px,#460b5e 384.7px,#460a5d 390.0px,#460a5d 391.7px,#46085c 398.7px,#46075a 405.7px,#46075a 420.0px,#450559 450.0px,#450559 524.7px)"></div>
<div style="position:absolute;left:89.3px;top:370.0px;width:524.7px;height:2.6px;background:linear-gradient(90deg,#450559 0.0px,#450559 98.7px,#46075a 105.7px,#46075a 120.0px,#46085c 126.7px,#460a5d 133.7px,#460b5e 140.7px,#470e61 147.7px,#471063 150.0px,#471365 154.7px,#481769 161.7px,#481d6f 168.7px,#482677 175.7px,#472d7b 180.0px,#46307e 182.7px,#433d84 189.7px,#3e4a89 196.7px,#375a8c 203.7px,#31678e 210.0px,#31688e 210.7px,#2a768e 217.7px,#25848e 224.7px,#21918c 231.7px,#1e9c89 238.7px,#1f9e89 240.0px,#1fa188 242.7px,#21a585 246.7px,#22a884 250.7px,#24aa83 254.7px,#25ab82 258.7px,#24aa83 262.7px,#22a884 266.7px,#21a685 270.0px,#21a685 270.7px,#1fa287 274.7px,#1f9e89 278.7px,#1e9d89 279.7px,#20928c 286.7px,#24868e 293.7px,#297b8e 300.0px,#297a8e 300.7px,#2e6d8e 307.7px,#355f8d 314.7px,#3b518b 321.7px,#414487 328.7px,#424186 330.0px,#453882 335.7px,#472d7b 342.7px,#482475 349.7px,#481c6e 356.7px,#481a6c 360.0px,#481769 363.7px,#471164 370.7px,#470e61 377.7px,#460b5e 384.7px,#460a5d 390.0px,#460a5d 391.7px,#46085c 398.7px,#46075a 405.7px,#46075a 420.0px,#450559 450.0px,#450559 524.7px)"></div>
<div style="position:absolute;left:89.3px;top:372.0px;width:524.7px;height:2.6px;background:linear-gradient(90deg,#450559 0.0px,#450559 98.7px,#46075a 105.7px,#46075a 120.0px,#46085c 126.7px,#460a5d 133.7px,#460b5e 140.7px,#470e61 147.7px,#471063 150.0px,#471365 154.7px,#48186a 161.7px,#481f70 168.7px,#482878 175.7px,#472e7c 180.0px,#46327e 182.7px,#433e85 189.7px,#3e4c8a 196.7px,#375b8d 203.7px,#31688e 210.0px,#306a8e 210.7px,#2a788e 217.7px,#24868e 224.7px,#20938c 231.7px,#1f9e89 238.7px,#1fa088 240.0px,#20a386 242.7px,#22a785 246.7px,#25ab82 250.7px,#26ad81 254.7px,#26ad81 262.7px,#25ab82 266.7px,#23a983 270.0px,#22a884 270.7px,#20a486 274.7px,#1fa088 278.7px,#1f9f88 279.7px,#1f948c 286.7px,#23898e 293.7px,#287d8e 300.0px,#287c8e 300.7px,#2e6f8e 307.7px,#34618d 314.7px,#3a538b 321.7px,#404688 328.7px,#414487 330.0px,#443983 335.7px,#472e7c 342.7px,#482576 349.7px,#481d6f 356.7px,#481a6c 360.0px,#481769 363.7px,#471365 370.7px,#470e61 377.7px,#460b5e 384.7px,#460a5d 390.0px,#460a5d 391.7px,#46085c 398.7px,#46075a 405.7px,#46075a 420.0px,#450559 450.0px,#450559 524.7px)"></div>
<div style="position:absolute;left:89.3px;top:374.0px;width:524.7px;height:2.6px;background:linear-gradient(90deg,#450559 0.0px,#450559 90.0px,#46075a 98.7px,#46075a 120.0px,#46085c 126.7px,#460a5d 133.7px,#460b5e 140.7px,#470e61 147.7px,#471063 150.0px,#471365 154.7px,#48186a 161.7px,#481f70 168.7px,#482878 175.7px,#472f7d 180.0px,#46337f 182.7px,#424086 189.7px,#3d4e8a 196.7px,#365d8d 203.7px,#306a8e 210.0px,#2f6c8e 210.7px,#297a8e 217.7px,#23888e 224.7px,#1f958b 231.7px,#1fa188 238.7px,#1fa287 240.0px,#21a585 242.7px,#24aa83 246.7px,#26ad81 250.7px,#28ae80 254.7px,#29af7f 258.7px,#28ae80 262.7px,#26ad81 266.7px,#25ab82 270.0px,#25ab82 270.7px,#22a785 274.7px,#1fa287 278.7px,#1fa187 279.7px,#1f978b 286.7px,#228b8d 293.7px,#27808e 300.0px,#277e8e 300.7px,#2d718e 307.7px,#33638d 314.7px,#3a548c 321.7px,#3f4788 328.7px,#404588 330.0px,#443b84 335.7px,#472f7d 342.7px,#482677 349.7px,#481f70 356.7px,#481b6d 360.0px,#48186a 363.7px,#471365 370.7px,#470e61 377.7px,#460b5e 384.7px,#460a5d 390.0px,#460a5d 391.7px,#46085c 398.7px,#46075a 405.7px,#46075a 420.0px,#450559 450.0px,#450559 524.7px)"></div>
<div style="position:absolute;left:89.3px;top:376.0px;width:524.7px;height:2.6px;background:linear-gradient(90deg,#450559 0.0px,#450559 90.0px,#46075a 97.5px,#46075a 120.0px,#46085c 125.5px,#460a5d 132.5px,#460b5e 139.5px,#470e61 146.5px,#471164 150.0px,#471365 153.5px,#481a6c 160.5px,#482071 167.5px,#482979 174.5px,#46327e 180.0px,#463480 181.5px,#424186 188.5px,#3c508b 195.5px,#34608d 202.5px,#2e6f8e 209.5px,#2d708e 210.0px,#277e8e 216.5px,#228d8d 223.5px,#1e9b8a 230.5px,#21a685 237.5px,#24aa83 240.0px,#25ac82 241.5px,#29af7f 245.5px,#2eb37c 249.5px,#31b57b 253.5px,#32b67a 257.5px,#31b57b 261.5px,#2eb37c 265.5px,#2ab07f 269.5px,#2ab07f 270.0px,#26ad81 273.5px,#22a884 277.5px,#22a785 278.5px,#1e9d89 285.5px,#21908d 292.5px,#26828e 299.5px,#26828e 300.0px,#2b748e 306.5px,#31668e 313.5px,#38588c 320.5px,#3e4a89 327.5px,#404688 330.0px,#433d84 334.5px,#46327e 341.5px,#482878 348.5px,#481f70 355.5px,#481b6d 360.0px,#48186a 362.5px,#471365 369.5px,#471063 376.5px,#470d60 383.5px,#460a5d 390.0px,#460a5d 390.5px,#46085c 397.5px,#46075a 404.5px,#46075a 420.0px,#450559 450.0px,#450559 524.7px)"></div>
<div style="position:absolute;left:89.3px;top:378.0px;width:524.7px;height:2.6px;background:linear-gradient(90deg,#450559 0.0px,#450559 96.3px,#46075a 103.3px,#46075a 120.0px,#46085c 124.3px,#460a5d 131.3px,#460b5e 138.3px,#470e61 145.3px,#471164 150.0px,#471365 152.3px,#481a6c 159.3px,#482173 166.3px,#472a7a 173.3px,#453781 180.0px,#453781 180.3px,#404588 187.3px,#3a548c 194.3px,#32648e 201.3px,#2b748e 208.3px,#2a788e 210.0px,#25848e 215.3px,#1f948c 222.3px,#1fa287 229.3px,#28ae80 236.3px,#2fb47c 240.0px,#2fb47c 240.3px,#37b878 244.3px,#3dbc74 248.3px,#42be71 252.3px,#48c16e 256.3px,#42be71 260.3px,#3dbc74 264.3px,#38b977 268.3px,#35b779 270.0px,#32b67a 272.3px,#2cb17e 276.3px,#29af7f 277.3px,#21a585 284.3px,#1f988b 291.3px,#23898e 298.3px,#24868e 300.0px,#297b8e 305.3px,#2f6c8e 312.3px,#365d8d 319.3px,#3d4e8a 326.3px,#404688 330.0px,#424086 333.3px,#46337f 340.3px,#482979 347.3px,#482071 354.3px,#481a6c 360.0px,#481a6c 361.3px,#481467 368.3px,#471063 375.3px,#460b5e 382.3px,#460a5d 389.3px,#460a5d 390.0px,#46085c 396.3px,#46075a 403.3px,#46075a 420.0px,#450559 450.0px,#450559 524.7px)"></div>
<div style="position:absolute;left:89.3px;top:380.0px;width:524.7px;height:2.6px;background:linear-gradient(90deg,#450559 0.0px,#450559 95.0px,#46075a 102.0px,#46075a 120.0px,#46085c 123.0px,#460a5d 130.0px,#460b5e 137.0px,#470e61 144.0px,#471365 150.0px,#471365 151.0px,#481a6c 158.0px,#482173 165.0px,#472c7a 172.0px,#443983 179.0px,#443a83 180.0px,#3f4788 186.0px,#38588c 193.0px,#30698e 200.0px,#297a8e 207.0px,#26828e 210.0px,#228b8d 214.0px,#1e9c89 221.0px,#25ab82 228.0px,#35b779 235.0px,#3fbc73 239.0px,#42be71 240.0px,#48c16e 243.0px,#52c569 247.0px,#5ac864 251.0px,#65cb5e 255.0px,#5ac864 259.0px,#52c569 263.0px,#4ac16d 267.0px,#44bf70 270.0px,#42be71 271.0px,#38b977 275.0px,#37b878 276.0px,#27ad81 283.0px,#1fa088 290.0px,#21918c 297.0px,#238a8d 300.0px,#26818e 304.0px,#2d718e 311.0px,#34618d 318.0px,#3b518b 325.0px,#3f4788 330.0px,#414287 332.0px,#453581 339.0px,#472a7a 346.0px,#482173 353.0px,#481a6c 360.0px,#481467 367.0px,#471063 374.0px,#460b5e 381.0px,#460a5d 388.0px,#460a5d 390.0px,#46085c 395.0px,#46075a 402.0px,#46075a 420.0px,#450559 450.0px,#450559 524.7px)"></div>
<div style="position:absolute;left:89.3px;top:382.0px;width:524.7px;height:2.6px;background:linear-gradient(90deg,#450559 0.0px,#450559 93.6px,#46075a 100.6px,#46075a 120.0px,#46085c 121.6px,#46085c 128.6px,#460b5e 135.6px,#470e61 142.6px,#471365 149.6px,#481467 150.0px,#481a6c 156.6px,#482374 163.6px,#472d7b 170.6px,#443a83 177.6px,#424086 180.0px,#3e4a89 184.6px,#365c8d 191.6px,#2e6e8e 198.6px,#27808e 205.6px,#228b8d 210.0px,#20928c 212.6px,#20a486 219.6px,#2fb47c 226.6px,#46c06f 233.6px,#52c569 237.6px,#5ac864 240.0px,#5ec962 241.6px,#69cd5b 245.6px,#73d056 249.6px,#86d549 253.6px,#75d054 257.6px,#69cd5b 261.6px,#60ca60 265.6px,#56c667 269.6px,#56c667 270.0px,#4cc26c 273.6px,#48c16e 274.6px,#32b67a 281.6px,#22a884 288.6px,#1f988b 295.6px,#218e8d 300.0px,#24878e 302.6px,#2a768e 309.6px,#31668e 316.6px,#39558c 323.6px,#3f4788 330.0px,#404688 330.6px,#453882 337.6px,#472c7a 344.6px,#482173 351.6px,#481a6c 358.6px,#48186a 360.0px,#481467 365.6px,#471063 372.6px,#460b5e 379.6px,#460a5d 386.6px,#46085c 390.0px,#46085c 393.6px,#46075a 400.6px,#46075a 420.0px,#450559 450.0px,#450559 524.7px)"></div>
<div style="position:absolute;left:89.3px;top:384.0px;width:524.7px;height:2.6px;background:linear-gradient(90deg,#450559 0.0px,#450559 99.2px,#46075a 106.2px,#46075a 120.2px,#46085c 127.2px,#460b5e 134.2px,#470e61 141.2px,#471365 148.2px,#481467 150.0px,#481a6c 155.2px,#482374 162.2px,#472e7c 169.2px,#433d84 176.2px,#404588 180.0px,#3d4d8a 183.2px,#355f8d 190.2px,#2c718e 197.2px,#25858e 204.2px,#1f958b 210.0px,#1f998a 211.2px,#25ac82 218.2px,#3dbc74 225.2px,#5ac864 232.2px,#67cc5c 236.2px,#75d054 240.0px,#75d054 240.2px,#81d34d 244.2px,#90d743 248.2px,#addc30 252.2px,#90d743 256.2px,#84d44b 260.2px,#77d153 264.2px,#6ccd5a 268.2px,#67cc5c 270.0px,#5ec962 272.2px,#5cc863 273.2px,#42be71 280.2px,#2ab07f 287.2px,#1fa088 294.2px,#21918c 300.0px,#218e8d 301.2px,#297b8e 308.2px,#306a8e 315.2px,#38598c 322.2px,#3f4889 329.2px,#3f4788 330.0px,#443983 336.2px,#472d7b 343.2px,#482374 350.2px,#481a6c 357.2px,#481769 360.0px,#481467 364.2px,#471063 371.2px,#460b5e 378.2px,#460a5d 385.2px,#46085c 390.0px,#46085c 392.2px,#46075a 399.2px,#46075a 406.2px,#450559 420.0px,#450559 524.7px)"></div>
<div style="position:absolute;left:89.3px;top:386.0px;width:524.7px;height:2.6px;background:linear-gradient(90deg,#450559 0.0px,#450559 97.8px,#46075a 104.8px,#46075a 120.0px,#46085c 125.8px,#460a5d 132.8px,#470e61 139.8px,#471365 146.8px,#481668 150.0px,#481a6c 153.8px,#482374 160.8px,#472e7c 167.8px,#433d84 174.8px,#3e4989 180.0px,#3d4e8a 181.8px,#34618d 188.8px,#2b748e 195.8px,#23888e 202.8px,#1e9c89 209.8px,#1e9d89 210.0px,#29af7f 216.8px,#46c06f 223.8px,#65cb5e 230.8px,#73d056 234.8px,#81d34d 238.8px,#86d549 240.0px,#90d743 242.8px,#a2da37 246.8px,#c5e021 250.8px,#a2da37 254.8px,#90d743 258.8px,#84d44b 262.8px,#77d153 266.8px,#6ece58 270.0px,#69cd5b 270.8px,#67cc5c 271.8px,#4cc26c 278.8px,#2fb47c 285.8px,#20a386 292.8px,#21918c 299.8px,#21918c 300.0px,#277f8e 306.8px,#2f6c8e 313.8px,#375b8d 320.8px,#3e4989 327.8px,#404588 330.0px,#443a83 334.8px,#472d7b 341.8px,#482374 348.8px,#481a6c 355.8px,#481668 360.0px,#481467 362.8px,#470e61 369.8px,#460b5e 376.8px,#460a5d 383.8px,#46085c 390.0px,#46085c 390.8px,#46075a 397.8px,#46075a 404.8px,#450559 420.0px,#450559 524.7px)"></div>
<div style="position:absolute;left:89.3px;top:388.0px;width:524.7px;height:2.6px;background:linear-gradient(90deg,#450559 0.0px,#450559 96.4px,#46075a 103.4px,#46075a 120.0px,#46085c 124.4px,#460a5d 131.4px,#470d60 138.4px,#471365 145.4px,#481769 150.0px,#48186a 152.4px,#482173 159.4px,#472e7c 166.4px,#433d84 173.4px,#3d4e8a 180.0px,#3c4f8a 180.4px,#33628d 187.4px,#2a768e 194.4px,#228b8d 201.4px,#1fa088 208.4px,#20a486 210.0px,#2eb37c 215.4px,#4ec36b 222.4px,#6ece58 229.4px,#7fd34e 233.4px,#8ed645 237.4px,#98d83e 240.0px,#9dd93b 241.4px,#b2dd2d 245.4px,#dde318 249.4px,#b2dd2d 253.4px,#a0da39 257.4px,#90d743 261.4px,#84d44b 265.4px,#75d054 269.4px,#73d056 270.0px,#73d056 270.4px,#54c568 277.4px,#37b878 284.4px,#22a785 291.4px,#1f948c 298.4px,#21908d 300.0px,#26818e 305.4px,#2e6f8e 312.4px,#365c8d 319.4px,#3e4a89 326.4px,#414287 330.0px,#443b84 333.4px,#472e7c 340.4px,#482374 347.4px,#481a6c 354.4px,#481467 360.0px,#471365 361.4px,#470e61 368.4px,#460b5e 375.4px,#46085c 382.4px,#46085c 390.0px,#46075a 396.4px,#46075a 403.4px,#450559 420.0px,#450559 524.7px)"></div>
<div style="position:absolute;left:89.3px;top:390.0px;width:524.7px;height:2.6px;background:linear-gradient(90deg,#450559 0.0px,#450559 95.3px,#46075a 102.3px,#46075a 120.0px,#46085c 123.3px,#460a5d 130.3px,#470d60 137.3px,#471164 144.3px,#481769 150.0px,#48186a 151.3px,#482173 158.3px,#472e7c 165.3px,#433d84 172.3px,#3c4f8a 179.3px,#3b518b 180.0px,#33638d 186.3px,#2a778e 193.3px,#228c8d 200.3px,#1fa187 207.3px,#24aa83 210.0px,#32b67a 214.3px,#52c569 221.3px,#75d054 228.3px,#86d549 232.3px,#95d840 236.3px,#a2da37 240.0px,#a5db36 240.3px,#bddf26 244.3px,#ece51b 248.3px,#bddf26 252.3px,#a5db36 256.3px,#98d83e 260.3px,#8bd646 264.3px,#7cd250 268.3px,#77d153 269.3px,#75d054 270.0px,#5ac864 276.3px,#3bbb75 283.3px,#24aa83 290.3px,#1f968b 297.3px,#218f8d 300.0px,#26828e 304.3px,#2d708e 311.3px,#365d8d 318.3px,#3e4c8a 325.3px,#424086 330.0px,#443b84 332.3px,#472e7c 339.3px,#482374 346.3px,#481a6c 353.3px,#471365 360.0px,#471365 360.3px,#470e61 367.3px,#460b5e 374.3px,#46085c 381.3px,#46075a 388.3px,#46075a 402.3px,#450559 420.0px,#450559 524.7px)"></div>
<div style="position:absolute;left:89.3px;top:392.0px;width:524.7px;height:2.6px;background:linear-gradient(90deg,#450559 0.0px,#450559 101.6px,#46075a 108.6px,#46075a 120.0px,#46085c 122.6px,#460a5d 129.6px,#470d60 136.6px,#471164 143.6px,#481769 150.0px,#481769 150.6px,#482071 157.6px,#472d7b 164.6px,#443b84 171.6px,#3d4e8a 178.6px,#3b528b 180.0px,#33628d 185.6px,#2a768e 192.6px,#228c8d 199.6px,#1fa187 206.6px,#25ac82 210.0px,#32b67a 213.6px,#54c568 220.6px,#75d054 227.6px,#86d549 231.6px,#95d840 235.6px,#a5db36 239.6px,#a8db34 240.0px,#c2df23 243.6px,#f8e621 247.6px,#c2df23 251.6px,#a8db34 255.6px,#98d83e 259.6px,#8bd646 263.6px,#7cd250 267.6px,#77d153 268.6px,#73d056 270.0px,#5ac864 275.6px,#3bbb75 282.6px,#24aa83 289.6px,#1f978b 296.6px,#228d8d 300.0px,#25838e 303.6px,#2d708e 310.6px,#365d8d 317.6px,#3e4a89 324.6px,#433e85 330.0px,#443a83 331.6px,#472d7b 338.6px,#482173 345.6px,#48186a 352.6px,#471365 359.6px,#471365 360.0px,#470e61 366.6px,#460a5d 373.6px,#46085c 380.6px,#46075a 387.6px,#46075a 401.6px,#450559 420.0px,#450559 524.7px)"></div>
<div style="position:absolute;left:89.3px;top:394.0px;width:524.7px;height:2.6px;background:linear-gradient(90deg,#450559 0.0px,#450559 100.9px,#46075a 107.9px,#46075a 121.9px,#460a5d 128.9px,#460b5e 135.9px,#471063 142.9px,#481769 149.9px,#481769 150.0px,#482071 156.9px,#472c7a 163.9px,#443b84 170.9px,#3d4e8a 177.9px,#3a538b 180.0px,#33628d 184.9px,#2a778e 191.9px,#228d8d 198.9px,#1fa287 205.9px,#28ae80 210.0px,#34b679 212.9px,#56c667 219.9px,#77d153 226.9px,#89d548 230.9px,#9bd93c 234.9px,#aadc32 238.9px,#b2dd2d 240.0px,#c8e020 242.9px,#fde725 246.9px,#cae11f 250.9px,#addc30 254.9px,#9dd93b 258.9px,#8ed645 262.9px,#81d34d 266.9px,#7cd250 267.9px,#75d054 270.0px,#5ec962 274.9px,#3fbc73 281.9px,#25ac82 288.9px,#1f988b 295.9px,#228c8d 300.0px,#25848e 302.9px,#2d718e 309.9px,#355e8d 316.9px,#3e4c8a 323.9px,#433d84 330.0px,#443a83 330.9px,#472d7b 337.9px,#482173 344.9px,#48186a 351.9px,#471365 358.9px,#471164 360.0px,#470d60 365.9px,#460a5d 372.9px,#46085c 379.9px,#46075a 386.9px,#46075a 400.9px,#450559 420.0px,#450559 524.7px)"></div>
<div style="position:absolute;left:89.3px;top:396.0px;width:524.7px;height:2.6px;background:linear-gradient(90deg,#450559 0.0px,#450559 100.3px,#46075a 107.3px,#46075a 121.3px,#460a5d 128.3px,#460b5e 135.3px,#471063 142.3px,#481769 149.3px,#48186a 150.0px,#482071 156.3px,#472d7b 163.3px,#433d84 170.3px,#3c4f8a 177.3px,#39568c 180.0px,#33638d 184.3px,#2a788e 191.3px,#218f8d 198.3px,#20a486 205.3px,#2db27d 210.0px,#37b878 212.3px,#5ac864 219.3px,#7fd34e 226.3px,#90d743 230.3px,#a0da39 234.3px,#b2dd2d 238.3px,#bddf26 240.0px,#d0e11c 242.3px,#fde725 246.3px,#d0e11c 250.3px,#b2dd2d 254.3px,#a2da37 258.3px,#95d840 262.3px,#86d549 266.3px,#81d34d 267.3px,#75d054 270.0px,#63cb5f 274.3px,#40bd72 281.3px,#26ad81 288.3px,#1f998a 295.3px,#228c8d 300.0px,#25848e 302.3px,#2c718e 309.3px,#355e8d 316.3px,#3e4c8a 323.3px,#443b84 330.0px,#443b84 330.3px,#472d7b 337.3px,#482173 344.3px,#48186a 351.3px,#471365 358.3px,#471164 360.0px,#470d60 365.3px,#460a5d 372.3px,#46085c 379.3px,#46075a 386.3px,#46075a 400.3px,#450559 420.0px,#450559 524.7px)"></div>
<div style="position:absolute;left:89.3px;top:398.0px;width:524.7px;height:2.6px;background:linear-gradient(90deg,#450559 0.0px,#450559 99.6px,#46075a 106.6px,#46075a 120.0px,#46085c 120.6px,#460a5d 127.6px,#460b5e 134.6px,#471063 141.6px,#481769 148.6px,#48186a 150.0px,#482071 155.6px,#472d7b 162.6px,#433d84 169.6px,#3c4f8a 176.6px,#38598c 180.0px,#32648e 183.6px,#29798e 190.6px,#218f8d 197.6px,#21a585 204.6px,#31b57b 210.0px,#38b977 211.6px,#5cc863 218.6px,#81d34d 225.6px,#93d741 229.6px,#a2da37 233.6px,#b5de2b 237.6px,#c5e021 240.0px,#d2e21b 241.6px,#fde725 245.6px,#d2e21b 249.6px,#b5de2b 253.6px,#a5db36 257.6px,#98d83e 261.6px,#89d548 265.6px,#84d44b 266.6px,#75d054 270.0px,#65cb5e 273.6px,#42be71 280.6px,#27ad81 287.6px,#1f9a8a 294.6px,#238a8d 300.0px,#25858e 301.6px,#2c718e 308.6px,#355e8d 315.6px,#3e4c8a 322.6px,#443b84 329.6px,#443a83 330.0px,#472d7b 336.6px,#482173 343.6px,#48186a 350.6px,#471365 357.6px,#471063 360.0px,#470d60 364.6px,#460a5d 371.6px,#46085c 378.6px,#46075a 385.6px,#46075a 399.6px,#450559 420.0px,#450559 524.7px)"></div>
<div style="position:absolute;left:89.3px;top:400.0px;width:524.7px;height:2.6px;background:linear-gradient(90deg,#450559 0.0px,#450559 99.2px,#46075a 106.2px,#46075a 120.0px,#46085c 120.2px,#460a5d 127.2px,#460b5e 134.2px,#471063 141.2px,#481769 148.2px,#481a6c 150.0px,#482071 155.2px,#472d7b 162.2px,#433d84 169.2px,#3c4f8a 176.2px,#375a8c 180.0px,#32648e 183.2px,#29798e 190.2px,#218f8d 197.2px,#21a585 204.2px,#34b679 210.0px,#38b977 211.2px,#5ec962 218.2px,#81d34d 225.2px,#93d741 229.2px,#a5db36 233.2px,#b8de29 237.2px,#cae11f 240.0px,#d5e21a 241.2px,#fde725 245.2px,#d5e21a 249.2px,#b8de29 253.2px,#a8db34 257.2px,#98d83e 261.2px,#89d548 265.2px,#86d549 266.2px,#75d054 270.0px,#65cb5e 273.2px,#44bf70 280.2px,#27ad81 287.2px,#1f9a8a 294.2px,#23898e 300.0px,#25858e 301.2px,#2c718e 308.2px,#355f8d 315.2px,#3d4d8a 322.2px,#443b84 329.2px,#443a83 330.0px,#472d7b 336.2px,#482173 343.2px,#48186a 350.2px,#471365 357.2px,#471063 360.0px,#470d60 364.2px,#460a5d 371.2px,#46085c 378.2px,#46075a 385.2px,#46075a 399.2px,#450559 420.0px,#450559 524.7px)"></div>
<div style="position:absolute;left:89.3px;top:402.0px;width:524.7px;height:2.6px;background:linear-gradient(90deg,#450559 0.0px,#450559 99.2px,#46075a 106.2px,#46075a 120.0px,#46085c 120.2px,#460a5d 127.2px,#460b5e 134.2px,#471063 141.2px,#481769 148.2px,#481a6c 150.0px,#482071 155.2px,#472d7b 162.2px,#433d84 169.2px,#3c4f8a 176.2px,#375a8c 180.0px,#32648e 183.2px,#29798e 190.2px,#218f8d 197.2px,#21a585 204.2px,#34b679 210.0px,#38b977 211.2px,#5ec962 218.2px,#81d34d 225.2px,#93d741 229.2px,#a5db36 233.2px,#b8de29 237.2px,#cae11f 240.0px,#d5e21a 241.2px,#fde725 245.2px,#d5e21a 249.2px,#b8de29 253.2px,#a8db34 257.2px,#98d83e 261.2px,#89d548 265.2px,#86d549 266.2px,#75d054 270.0px,#65cb5e 273.2px,#44bf70 280.2px,#27ad81 287.2px,#1f9a8a 294.2px,#23898e 300.0px,#25858e 301.2px,#2c718e 308.2px,#355f8d 315.2px,#3d4d8a 322.2px,#443b84 329.2px,#443a83 330.0px,#472d7b 336.2px,#482173 343.2px,#48186a 350.2px,#471365 357.2px,#471063 360.0px,#470d60 364.2px,#460a5d 371.2px,#46085c 378.2px,#46075a 385.2px,#46075a 399.2px,#450559 420.0px,#450559 524.7px)"></div>
<div style="position:absolute;left:89.3px;top:404.0px;width:524.7px;height:3.6px;background:linear-gradient(90deg,#450559 0.0px,#450559 99.2px,#46075a 106.2px,#46075a 120.0px,#46085c 120.2px,#460a5d 127.2px,#460b5e 134.2px,#471063 141.2px,#481769 148.2px,#481a6c 150.0px,#482071 155.2px,#472d7b 162.2px,#433d84 169.2px,#3c4f8a 176.2px,#375a8c 180.0px,#32648e 183.2px,#29798e 190.2px,#218f8d 197.2px,#21a585 204.2px,#34b679 210.0px,#38b977 211.2px,#5ec962 218.2px,#81d34d 225.2px,#93d741 229.2px,#a5db36 233.2px,#b8de29 237.2px,#cae11f 240.0px,#d5e21a 241.2px,#fde725 245.2px,#d5e21a 249.2px,#b8de29 253.2px,#a8db34 257.2px,#98d83e 261.2px,#89d548 265.2px,#86d549 266.2px,#75d054 270.0px,#65cb5e 273.2px,#44bf70 280.2px,#27ad81 287.2px,#1f9a8a 294.2px,#23898e 300.0px,#25858e 301.2px,#2c718e 308.2px,#355f8d 315.2px,#3d4d8a 322.2px,#443b84 329.2px,#443a83 330.0px,#472d7b 336.2px,#482173 343.2px,#48186a 350.2px,#471365 357.2px,#471063 360.0px,#470d60 364.2px,#460a5d 371.2px,#46085c 378.2px,#46075a 385.2px,#46075a 399.2px,#450559 420.0px,#450559 524.7px)"></div>
<div style="position:absolute;left:89.3px;top:407.0px;width:524.7px;height:3.6px;background:linear-gradient(90deg,#450559 0.0px,#450559 99.2px,#46075a 106.2px,#46075a 120.0px,#46085c 120.2px,#460a5d 127.2px,#460b5e 134.2px,#471063 141.2px,#481769 148.2px,#481a6c 150.0px,#482071 155.2px,#472d7b 162.2px,#433d84 169.2px,#3c4f8a 176.2px,#375a8c 180.0px,#32648e 183.2px,#29798e 190.2px,#218f8d 197.2px,#21a585 204.2px,#34b679 210.0px,#38b977 211.2px,#5ec962 218.2px,#81d34d 225.2px,#93d741 229.2px,#a5db36 233.2px,#b8de29 237.2px,#cae11f 240.0px,#d5e21a 241.2px,#fde725 245.2px,#d5e21a 249.2px,#b8de29 253.2px,#a8db34 257.2px,#98d83e 261.2px,#89d548 265.2px,#86d549 266.2px,#75d054 270.0px,#65cb5e 273.2px,#44bf70 280.2px,#27ad81 287.2px,#1f9a8a 294.2px,#23898e 300.0px,#25858e 301.2px,#2c718e 308.2px,#355f8d 315.2px,#3d4d8a 322.2px,#443b84 329.2px,#443a83 330.0px,#472d7b 336.2px,#482173 343.2px,#48186a 350.2px,#471365 357.2px,#471063 360.0px,#470d60 364.2px,#460a5d 371.2px,#46085c 378.2px,#46075a 385.2px,#46075a 399.2px,#450559 420.0px,#450559 524.7px)"></div>
<div style="position:absolute;left:89.3px;top:410.0px;width:524.7px;height:3.6px;background:linear-gradient(90deg,#450559 0.0px,#450559 99.2px,#46075a 106.2px,#46075a 120.0px,#46085c 120.2px,#460a5d 127.2px,#460b5e 134.2px,#471063 141.2px,#481769 148.2px,#481a6c 150.0px,#482071 155.2px,#472d7b 162.2px,#433d84 169.2px,#3c4f8a 176.2px,#375a8c 180.0px,#32648e 183.2px,#29798e 190.2px,#218f8d 197.2px,#21a585 204.2px,#34b679 210.0px,#38b977 211.2px,#5ec962 218.2px,#81d34d 225.2px,#93d741 229.2px,#a5db36 233.2px,#b8de29 237.2px,#cae11f 240.0px,#d5e21a 241.2px,#fde725 245.2px,#d5e21a 249.2px,#b8de29 253.2px,#a8db34 257.2px,#98d83e 261.2px,#89d548 265.2px,#86d549 266.2px,#75d054 270.0px,#65cb5e 273.2px,#44bf70 280.2px,#27ad81 287.2px,#1f9a8a 294.2px,#23898e 300.0px,#25858e 301.2px,#2c718e 308.2px,#355f8d 315.2px,#3d4d8a 322.2px,#443b84 329.2px,#443a83 330.0px,#472d7b 336.2px,#482173 343.2px,#48186a 350.2px,#471365 357.2px,#471063 360.0px,#470d60 364.2px,#460a5d 371.2px,#46085c 378.2px,#46075a 385.2px,#46075a 399.2px,#450559 420.0px,#450559 524.7px)"></div>
<div style="position:absolute;left:89.3px;top:413.0px;width:524.7px;height:3.6px;background:linear-gradient(90deg,#450559 0.0px,#450559 99.2px,#46075a 106.2px,#46075a 120.0px,#46085c 120.2px,#460a5d 127.2px,#460b5e 134.2px,#471063 141.2px,#481769 148.2px,#481a6c 150.0px,#482071 155.2px,#472d7b 162.2px,#433d84 169.2px,#3c4f8a 176.2px,#375a8c 180.0px,#32648e 183.2px,#29798e 190.2px,#218f8d 197.2px,#21a585 204.2px,#34b679 210.0px,#38b977 211.2px,#5ec962 218.2px,#81d34d 225.2px,#93d741 229.2px,#a5db36 233.2px,#b8de29 237.2px,#cae11f 240.0px,#d5e21a 241.2px,#fde725 245.2px,#d5e21a 249.2px,#b8de29 253.2px,#a8db34 257.2px,#98d83e 261.2px,#89d548 265.2px,#86d549 266.2px,#75d054 270.0px,#65cb5e 273.2px,#44bf70 280.2px,#27ad81 287.2px,#1f9a8a 294.2px,#23898e 300.0px,#25858e 301.2px,#2c718e 308.2px,#355f8d 315.2px,#3d4d8a 322.2px,#443b84 329.2px,#443a83 330.0px,#472d7b 336.2px,#482173 343.2px,#48186a 350.2px,#471365 357.2px,#471063 360.0px,#470d60 364.2px,#460a5d 371.2px,#46085c 378.2px,#46075a 385.2px,#46075a 399.2px,#450559 420.0px,#450559 524.7px)"></div>
<div style="position:absolute;left:89.3px;top:416.0px;width:524.7px;height:3.6px;background:linear-gradient(90deg,#450559 0.0px,#450559 99.2px,#46075a 106.2px,#46075a 120.0px,#46085c 120.2px,#460a5d 127.2px,#460b5e 134.2px,#471063 141.2px,#481769 148.2px,#481a6c 150.0px,#482071 155.2px,#472d7b 162.2px,#433d84 169.2px,#3c4f8a 176.2px,#375a8c 180.0px,#32648e 183.2px,#29798e 190.2px,#218f8d 197.2px,#21a585 204.2px,#34b679 210.0px,#38b977 211.2px,#5ec962 218.2px,#81d34d 225.2px,#93d741 229.2px,#a5db36 233.2px,#b8de29 237.2px,#cae11f 240.0px,#d5e21a 241.2px,#fde725 245.2px,#d5e21a 249.2px,#b8de29 253.2px,#a8db34 257.2px,#98d83e 261.2px,#89d548 265.2px,#86d549 266.2px,#75d054 270.0px,#65cb5e 273.2px,#44bf70 280.2px,#27ad81 287.2px,#1f9a8a 294.2px,#23898e 300.0px,#25858e 301.2px,#2c718e 308.2px,#355f8d 315.2px,#3d4d8a 322.2px,#443b84 329.2px,#443a83 330.0px,#472d7b 336.2px,#482173 343.2px,#48186a 350.2px,#471365 357.2px,#471063 360.0px,#470d60 364.2px,#460a5d 371.2px,#46085c 378.2px,#46075a 385.2px,#46075a 399.2px,#450559 420.0px,#450559 524.7px)"></div>
<div style="position:absolute;left:89.3px;top:419.0px;width:524.7px;height:3.6px;background:linear-gradient(90deg,#450559 0.0px,#450559 99.2px,#46075a 106.2px,#46075a 120.0px,#46085c 120.2px,#460a5d 127.2px,#460b5e 134.2px,#471063 141.2px,#481769 148.2px,#481a6c 150.0px,#482071 155.2px,#472d7b 162.2px,#433d84 169.2px,#3c4f8a 176.2px,#375a8c 180.0px,#32648e 183.2px,#29798e 190.2px,#218f8d 197.2px,#21a585 204.2px,#34b679 210.0px,#38b977 211.2px,#5ec962 218.2px,#81d34d 225.2px,#93d741 229.2px,#a5db36 233.2px,#b8de29 237.2px,#cae11f 240.0px,#d5e21a 241.2px,#fde725 245.2px,#d5e21a 249.2px,#b8de29 253.2px,#a8db34 257.2px,#98d83e 261.2px,#89d548 265.2px,#86d549 266.2px,#75d054 270.0px,#65cb5e 273.2px,#44bf70 280.2px,#27ad81 287.2px,#1f9a8a 294.2px,#23898e 300.0px,#25858e 301.2px,#2c718e 308.2px,#355f8d 315.2px,#3d4d8a 322.2px,#443b84 329.2px,#443a83 330.0px,#472d7b 336.2px,#482173 343.2px,#48186a 350.2px,#471365 357.2px,#471063 360.0px,#470d60 364.2px,#460a5d 371.2px,#46085c 378.2px,#46075a 385.2px,#46075a 399.2px,#450559 420.0px,#450559 524.7px)"></div>
<div style="position:absolute;left:89.3px;top:422.0px;width:524.7px;height:3.6px;background:linear-gradient(90deg,#450559 0.0px,#450559 99.2px,#46075a 106.2px,#46075a 120.0px,#46085c 120.2px,#460a5d 127.2px,#460b5e 134.2px,#471063 141.2px,#481769 148.2px,#481a6c 150.0px,#482071 155.2px,#472d7b 162.2px,#433d84 169.2px,#3c4f8a 176.2px,#375a8c 180.0px,#32648e 183.2px,#29798e 190.2px,#218f8d 197.2px,#21a585 204.2px,#34b679 210.0px,#38b977 211.2px,#5ec962 218.2px,#81d34d 225.2px,#93d741 229.2px,#a5db36 233.2px,#b8de29 237.2px,#cae11f 240.0px,#d5e21a 241.2px,#fde725 245.2px,#d5e21a 249.2px,#b8de29 253.2px,#a8db34 257.2px,#98d83e 261.2px,#89d548 265.2px,#86d549 266.2px,#75d054 270.0px,#65cb5e 273.2px,#44bf70 280.2px,#27ad81 287.2px,#1f9a8a 294.2px,#23898e 300.0px,#25858e 301.2px,#2c718e 308.2px,#355f8d 315.2px,#3d4d8a 322.2px,#443b84 329.2px,#443a83 330.0px,#472d7b 336.2px,#482173 343.2px,#48186a 350.2px,#471365 357.2px,#471063 360.0px,#470d60 364.2px,#460a5d 371.2px,#46085c 378.2px,#46075a 385.2px,#46075a 399.2px,#450559 420.0px,#450559 524.7px)"></div>
<div style="position:absolute;left:89.3px;top:425.0px;width:524.7px;height:3.6px;background:linear-gradient(90deg,#450559 0.0px,#450559 99.2px,#46075a 106.2px,#46075a 120.0px,#46085c 120.2px,#460a5d 127.2px,#460b5e 134.2px,#471063 141.2px,#481769 148.2px,#481a6c 150.0px,#482071 155.2px,#472d7b 162.2px,#433d84 169.2px,#3c4f8a 176.2px,#375a8c 180.0px,#32648e 183.2px,#29798e 190.2px,#218f8d 197.2px,#21a585 204.2px,#34b679 210.0px,#38b977 211.2px,#5ec962 218.2px,#81d34d 225.2px,#93d741 229.2px,#a5db36 233.2px,#b8de29 237.2px,#cae11f 240.0px,#d5e21a 241.2px,#fde725 245.2px,#d5e21a 249.2px,#b8de29 253.2px,#a8db34 257.2px,#98d83e 261.2px,#89d548 265.2px,#86d549 266.2px,#75d054 270.0px,#65cb5e 273.2px,#44bf70 280.2px,#27ad81 287.2px,#1f9a8a 294.2px,#23898e 300.0px,#25858e 301.2px,#2c718e 308.2px,#355f8d 315.2px,#3d4d8a 322.2px,#443b84 329.2px,#443a83 330.0px,#472d7b 336.2px,#482173 343.2px,#48186a 350.2px,#471365 357.2px,#471063 360.0px,#470d60 364.2px,#460a5d 371.2px,#46085c 378.2px,#46075a 385.2px,#46075a 399.2px,#450559 420.0px,#450559 524.7px)"></div>
<div style="position:absolute;left:89.3px;top:428.0px;width:524.7px;height:3.6px;background:linear-gradient(90deg,#450559 0.0px,#450559 99.2px,#46075a 106.2px,#46075a 120.0px,#46085c 120.2px,#460a5d 127.2px,#460b5e 134.2px,#471063 141.2px,#481769 148.2px,#481a6c 150.0px,#482071 155.2px,#472d7b 162.2px,#433d84 169.2px,#3c4f8a 176.2px,#375a8c 180.0px,#32648e 183.2px,#29798e 190.2px,#218f8d 197.2px,#21a585 204.2px,#34b679 210.0px,#38b977 211.2px,#5ec962 218.2px,#81d34d 225.2px,#93d741 229.2px,#a5db36 233.2px,#b8de29 237.2px,#cae11f 240.0px,#d5e21a 241.2px,#fde725 245.2px,#d5e21a 249.2px,#b8de29 253.2px,#a8db34 257.2px,#98d83e 261.2px,#89d548 265.2px,#86d549 266.2px,#75d054 270.0px,#65cb5e 273.2px,#44bf70 280.2px,#27ad81 287.2px,#1f9a8a 294.2px,#23898e 300.0px,#25858e 301.2px,#2c718e 308.2px,#355f8d 315.2px,#3d4d8a 322.2px,#443b84 329.2px,#443a83 330.0px,#472d7b 336.2px,#482173 343.2px,#48186a 350.2px,#471365 357.2px,#471063 360.0px,#470d60 364.2px,#460a5d 371.2px,#46085c 378.2px,#46075a 385.2px,#46075a 399.2px,#450559 420.0px,#450559 524.7px)"></div>
<div style="position:absolute;left:89.3px;top:431.0px;width:524.7px;height:3.6px;background:linear-gradient(90deg,#450559 0.0px,#450559 99.2px,#46075a 106.2px,#46075a 120.0px,#46085c 120.2px,#460a5d 127.2px,#460b5e 134.2px,#471063 141.2px,#481769 148.2px,#481a6c 150.0px,#482071 155.2px,#472d7b 162.2px,#433d84 169.2px,#3c4f8a 176.2px,#375a8c 180.0px,#32648e 183.2px,#29798e 190.2px,#218f8d 197.2px,#21a585 204.2px,#34b679 210.0px,#38b977 211.2px,#5ec962 218.2px,#81d34d 225.2px,#93d741 229.2px,#a5db36 233.2px,#b8de29 237.2px,#cae11f 240.0px,#d5e21a 241.2px,#fde725 245.2px,#d5e21a 249.2px,#b8de29 253.2px,#a8db34 257.2px,#98d83e 261.2px,#89d548 265.2px,#86d549 266.2px,#75d054 270.0px,#65cb5e 273.2px,#44bf70 280.2px,#27ad81 287.2px,#1f9a8a 294.2px,#23898e 300.0px,#25858e 301.2px,#2c718e 308.2px,#355f8d 315.2px,#3d4d8a 322.2px,#443b84 329.2px,#443a83 330.0px,#472d7b 336.2px,#482173 343.2px,#48186a 350.2px,#471365 357.2px,#471063 360.0px,#470d60 364.2px,#460a5d 371.2px,#46085c 378.2px,#46075a 385.2px,#46075a 399.2px,#450559 420.0px,#450559 524.7px)"></div>
<div style="position:absolute;left:89.3px;top:434.0px;width:524.7px;height:3.6px;background:linear-gradient(90deg,#450559 0.0px,#450559 99.2px,#46075a 106.2px,#46075a 120.0px,#46085c 120.2px,#460a5d 127.2px,#460b5e 134.2px,#471063 141.2px,#481769 148.2px,#481a6c 150.0px,#482071 155.2px,#472d7b 162.2px,#433d84 169.2px,#3c4f8a 176.2px,#375a8c 180.0px,#32648e 183.2px,#29798e 190.2px,#218f8d 197.2px,#21a585 204.2px,#34b679 210.0px,#38b977 211.2px,#5ec962 218.2px,#81d34d 225.2px,#93d741 229.2px,#a5db36 233.2px,#b8de29 237.2px,#cae11f 240.0px,#d5e21a 241.2px,#fde725 245.2px,#d5e21a 249.2px,#b8de29 253.2px,#a8db34 257.2px,#98d83e 261.2px,#89d548 265.2px,#86d549 266.2px,#75d054 270.0px,#65cb5e 273.2px,#44bf70 280.2px,#27ad81 287.2px,#1f9a8a 294.2px,#23898e 300.0px,#25858e 301.2px,#2c718e 308.2px,#355f8d 315.2px,#3d4d8a 322.2px,#443b84 329.2px,#443a83 330.0px,#472d7b 336.2px,#482173 343.2px,#48186a 350.2px,#471365 357.2px,#471063 360.0px,#470d60 364.2px,#460a5d 371.2px,#46085c 378.2px,#46075a 385.2px,#46075a 399.2px,#450559 420.0px,#450559 524.7px)"></div>
<div style="position:absolute;left:89.3px;top:437.0px;width:524.7px;height:3.6px;background:linear-gradient(90deg,#450559 0.0px,#450559 99.2px,#46075a 106.2px,#46075a 120.0px,#46085c 120.2px,#460a5d 127.2px,#460b5e 134.2px,#471063 141.2px,#481769 148.2px,#481a6c 150.0px,#482071 155.2px,#472d7b 162.2px,#433d84 169.2px,#3c4f8a 176.2px,#375a8c 180.0px,#32648e 183.2px,#29798e 190.2px,#218f8d 197.2px,#21a585 204.2px,#34b679 210.0px,#38b977 211.2px,#5ec962 218.2px,#81d34d 225.2px,#93d741 229.2px,#a5db36 233.2px,#b8de29 237.2px,#cae11f 240.0px,#d5e21a 241.2px,#fde725 245.2px,#d5e21a 249.2px,#b8de29 253.2px,#a8db34 257.2px,#98d83e 261.2px,#89d548 265.2px,#86d549 266.2px,#75d054 270.0px,#65cb5e 273.2px,#44bf70 280.2px,#27ad81 287.2px,#1f9a8a 294.2px,#23898e 300.0px,#25858e 301.2px,#2c718e 308.2px,#355f8d 315.2px,#3d4d8a 322.2px,#443b84 329.2px,#443a83 330.0px,#472d7b 336.2px,#482173 343.2px,#48186a 350.2px,#471365 357.2px,#471063 360.0px,#470d60 364.2px,#460a5d 371.2px,#46085c 378.2px,#46075a 385.2px,#46075a 399.2px,#450559 420.0px,#450559 524.7px)"></div>
<div style="position:absolute;left:89.3px;top:440.0px;width:524.7px;height:3.6px;background:linear-gradient(90deg,#450559 0.0px,#450559 99.2px,#46075a 106.2px,#46075a 120.0px,#46085c 120.2px,#460a5d 127.2px,#460b5e 134.2px,#471063 141.2px,#481769 148.2px,#481a6c 150.0px,#482071 155.2px,#472d7b 162.2px,#433d84 169.2px,#3c4f8a 176.2px,#375a8c 180.0px,#32648e 183.2px,#29798e 190.2px,#218f8d 197.2px,#21a585 204.2px,#34b679 210.0px,#38b977 211.2px,#5ec962 218.2px,#81d34d 225.2px,#93d741 229.2px,#a5db36 233.2px,#b8de29 237.2px,#cae11f 240.0px,#d5e21a 241.2px,#fde725 245.2px,#d5e21a 249.2px,#b8de29 253.2px,#a8db34 257.2px,#98d83e 261.2px,#89d548 265.2px,#86d549 266.2px,#75d054 270.0px,#65cb5e 273.2px,#44bf70 280.2px,#27ad81 287.2px,#1f9a8a 294.2px,#23898e 300.0px,#25858e 301.2px,#2c718e 308.2px,#355f8d 315.2px,#3d4d8a 322.2px,#443b84 329.2px,#443a83 330.0px,#472d7b 336.2px,#482173 343.2px,#48186a 350.2px,#471365 357.2px,#471063 360.0px,#470d60 364.2px,#460a5d 371.2px,#46085c 378.2px,#46075a 385.2px,#46075a 399.2px,#450559 420.0px,#450559 524.7px)"></div>
<div style="position:absolute;left:89.3px;top:443.0px;width:524.7px;height:3.6px;background:linear-gradient(90deg,#450559 0.0px,#450559 99.2px,#46075a 106.2px,#46075a 120.0px,#46085c 120.2px,#460a5d 127.2px,#460b5e 134.2px,#471063 141.2px,#481769 148.2px,#481a6c 150.0px,#482071 155.2px,#472d7b 162.2px,#433d84 169.2px,#3c4f8a 176.2px,#375a8c 180.0px,#32648e 183.2px,#29798e 190.2px,#218f8d 197.2px,#21a585 204.2px,#34b679 210.0px,#38b977 211.2px,#5ec962 218.2px,#81d34d 225.2px,#93d741 229.2px,#a5db36 233.2px,#b8de29 237.2px,#cae11f 240.0px,#d5e21a 241.2px,#fde725 245.2px,#d5e21a 249.2px,#b8de29 253.2px,#a8db34 257.2px,#98d83e 261.2px,#89d548 265.2px,#86d549 266.2px,#75d054 270.0px,#65cb5e 273.2px,#44bf70 280.2px,#27ad81 287.2px,#1f9a8a 294.2px,#23898e 300.0px,#25858e 301.2px,#2c718e 308.2px,#355f8d 315.2px,#3d4d8a 322.2px,#443b84 329.2px,#443a83 330.0px,#472d7b 336.2px,#482173 343.2px,#48186a 350.2px,#471365 357.2px,#471063 360.0px,#470d60 364.2px,#460a5d 371.2px,#46085c 378.2px,#46075a 385.2px,#46075a 399.2px,#450559 420.0px,#450559 524.7px)"></div>
<div style="position:absolute;left:89.3px;top:446.0px;width:524.7px;height:3.6px;background:linear-gradient(90deg,#450559 0.0px,#450559 99.2px,#46075a 106.2px,#46075a 120.0px,#46085c 120.2px,#460a5d 127.2px,#460b5e 134.2px,#471063 141.2px,#481769 148.2px,#481a6c 150.0px,#482071 155.2px,#472d7b 162.2px,#433d84 169.2px,#3c4f8a 176.2px,#375a8c 180.0px,#32648e 183.2px,#29798e 190.2px,#218f8d 197.2px,#21a585 204.2px,#34b679 210.0px,#38b977 211.2px,#5ec962 218.2px,#81d34d 225.2px,#93d741 229.2px,#a5db36 233.2px,#b8de29 237.2px,#cae11f 240.0px,#d5e21a 241.2px,#fde725 245.2px,#d5e21a 249.2px,#b8de29 253.2px,#a8db34 257.2px,#98d83e 261.2px,#89d548 265.2px,#86d549 266.2px,#75d054 270.0px,#65cb5e 273.2px,#44bf70 280.2px,#27ad81 287.2px,#1f9a8a 294.2px,#23898e 300.0px,#25858e 301.2px,#2c718e 308.2px,#355f8d 315.2px,#3d4d8a 322.2px,#443b84 329.2px,#443a83 330.0px,#472d7b 336.2px,#482173 343.2px,#48186a 350.2px,#471365 357.2px,#471063 360.0px,#470d60 364.2px,#460a5d 371.2px,#46085c 378.2px,#46075a 385.2px,#46075a 399.2px,#450559 420.0px,#450559 524.7px)"></div>
<div style="position:absolute;left:89.3px;top:449.0px;width:524.7px;height:3.6px;background:linear-gradient(90deg,#450559 0.0px,#450559 99.2px,#46075a 106.2px,#46075a 120.0px,#46085c 120.2px,#460a5d 127.2px,#460b5e 134.2px,#471063 141.2px,#481769 148.2px,#481a6c 150.0px,#482071 155.2px,#472d7b 162.2px,#433d84 169.2px,#3c4f8a 176.2px,#375a8c 180.0px,#32648e 183.2px,#29798e 190.2px,#218f8d 197.2px,#21a585 204.2px,#34b679 210.0px,#38b977 211.2px,#5ec962 218.2px,#81d34d 225.2px,#93d741 229.2px,#a5db36 233.2px,#b8de29 237.2px,#cae11f 240.0px,#d5e21a 241.2px,#fde725 245.2px,#d5e21a 249.2px,#b8de29 253.2px,#a8db34 257.2px,#98d83e 261.2px,#89d548 265.2px,#86d549 266.2px,#75d054 270.0px,#65cb5e 273.2px,#44bf70 280.2px,#27ad81 287.2px,#1f9a8a 294.2px,#23898e 300.0px,#25858e 301.2px,#2c718e 308.2px,#355f8d 315.2px,#3d4d8a 322.2px,#443b84 329.2px,#443a83 330.0px,#472d7b 336.2px,#482173 343.2px,#48186a 350.2px,#471365 357.2px,#471063 360.0px,#470d60 364.2px,#460a5d 371.2px,#46085c 378.2px,#46075a 385.2px,#46075a 399.2px,#450559 420.0px,#450559 524.7px)"></div>
<div style="position:absolute;left:89.3px;top:452.0px;width:524.7px;height:3.6px;background:linear-gradient(90deg,#450559 0.0px,#450559 99.2px,#46075a 106.2px,#46075a 120.0px,#46085c 120.2px,#460a5d 127.2px,#460b5e 134.2px,#471063 141.2px,#481769 148.2px,#481a6c 150.0px,#482071 155.2px,#472d7b 162.2px,#433d84 169.2px,#3c4f8a 176.2px,#375a8c 180.0px,#32648e 183.2px,#29798e 190.2px,#218f8d 197.2px,#21a585 204.2px,#34b679 210.0px,#38b977 211.2px,#5ec962 218.2px,#81d34d 225.2px,#93d741 229.2px,#a5db36 233.2px,#b8de29 237.2px,#cae11f 240.0px,#d5e21a 241.2px,#fde725 245.2px,#d5e21a 249.2px,#b8de29 253.2px,#a8db34 257.2px,#98d83e 261.2px,#89d548 265.2px,#86d549 266.2px,#75d054 270.0px,#65cb5e 273.2px,#44bf70 280.2px,#27ad81 287.2px,#1f9a8a 294.2px,#23898e 300.0px,#25858e 301.2px,#2c718e 308.2px,#355f8d 315.2px,#3d4d8a 322.2px,#443b84 329.2px,#443a83 330.0px,#472d7b 336.2px,#482173 343.2px,#48186a 350.2px,#471365 357.2px,#471063 360.0px,#470d60 364.2px,#460a5d 371.2px,#46085c 378.2px,#46075a 385.2px,#46075a 399.2px,#450559 420.0px,#450559 524.7px)"></div>
<div style="position:absolute;left:89.3px;top:455.0px;width:524.7px;height:3.6px;background:linear-gradient(90deg,#450559 0.0px,#450559 99.2px,#46075a 106.2px,#46075a 120.0px,#46085c 120.2px,#460a5d 127.2px,#460b5e 134.2px,#471063 141.2px,#481769 148.2px,#481a6c 150.0px,#482071 155.2px,#472d7b 162.2px,#433d84 169.2px,#3c4f8a 176.2px,#375a8c 180.0px,#32648e 183.2px,#29798e 190.2px,#218f8d 197.2px,#21a585 204.2px,#34b679 210.0px,#38b977 211.2px,#5ec962 218.2px,#81d34d 225.2px,#93d741 229.2px,#a5db36 233.2px,#b8de29 237.2px,#cae11f 240.0px,#d5e21a 241.2px,#fde725 245.2px,#d5e21a 249.2px,#b8de29 253.2px,#a8db34 257.2px,#98d83e 261.2px,#89d548 265.2px,#86d549 266.2px,#75d054 270.0px,#65cb5e 273.2px,#44bf70 280.2px,#27ad81 287.2px,#1f9a8a 294.2px,#23898e 300.0px,#25858e 301.2px,#2c718e 308.2px,#355f8d 315.2px,#3d4d8a 322.2px,#443b84 329.2px,#443a83 330.0px,#472d7b 336.2px,#482173 343.2px,#48186a 350.2px,#471365 357.2px,#471063 360.0px,#470d60 364.2px,#460a5d 371.2px,#46085c 378.2px,#46075a 385.2px,#46075a 399.2px,#450559 420.0px,#450559 524.7px)"></div>
<div style="position:absolute;left:89.3px;top:458.0px;width:524.7px;height:3.6px;background:linear-gradient(90deg,#450559 0.0px,#450559 99.2px,#46075a 106.2px,#46075a 120.0px,#46085c 120.2px,#460a5d 127.2px,#460b5e 134.2px,#471063 141.2px,#481769 148.2px,#481a6c 150.0px,#482071 155.2px,#472d7b 162.2px,#433d84 169.2px,#3c4f8a 176.2px,#375a8c 180.0px,#32648e 183.2px,#29798e 190.2px,#218f8d 197.2px,#21a585 204.2px,#34b679 210.0px,#38b977 211.2px,#5ec962 218.2px,#81d34d 225.2px,#93d741 229.2px,#a5db36 233.2px,#b8de29 237.2px,#cae11f 240.0px,#d5e21a 241.2px,#fde725 245.2px,#d5e21a 249.2px,#b8de29 253.2px,#a8db34 257.2px,#98d83e 261.2px,#89d548 265.2px,#86d549 266.2px,#75d054 270.0px,#65cb5e 273.2px,#44bf70 280.2px,#27ad81 287.2px,#1f9a8a 294.2px,#23898e 300.0px,#25858e 301.2px,#2c718e 308.2px,#355f8d 315.2px,#3d4d8a 322.2px,#443b84 329.2px,#443a83 330.0px,#472d7b 336.2px,#482173 343.2px,#48186a 350.2px,#471365 357.2px,#471063 360.0px,#470d60 364.2px,#460a5d 371.2px,#46085c 378.2px,#46075a 385.2px,#46075a 399.2px,#450559 420.0px,#450559 524.7px)"></div>
<div style="position:absolute;left:89.3px;top:461.0px;width:524.7px;height:3.6px;background:linear-gradient(90deg,#450559 0.0px,#450559 99.2px,#46075a 106.2px,#46075a 120.0px,#46085c 120.2px,#460a5d 127.2px,#460b5e 134.2px,#471063 141.2px,#481769 148.2px,#481a6c 150.0px,#482071 155.2px,#472d7b 162.2px,#433d84 169.2px,#3c4f8a 176.2px,#375a8c 180.0px,#32648e 183.2px,#29798e 190.2px,#218f8d 197.2px,#21a585 204.2px,#34b679 210.0px,#38b977 211.2px,#5ec962 218.2px,#81d34d 225.2px,#93d741 229.2px,#a5db36 233.2px,#b8de29 237.2px,#cae11f 240.0px,#d5e21a 241.2px,#fde725 245.2px,#d5e21a 249.2px,#b8de29 253.2px,#a8db34 257.2px,#98d83e 261.2px,#89d548 265.2px,#86d549 266.2px,#75d054 270.0px,#65cb5e 273.2px,#44bf70 280.2px,#27ad81 287.2px,#1f9a8a 294.2px,#23898e 300.0px,#25858e 301.2px,#2c718e 308.2px,#355f8d 315.2px,#3d4d8a 322.2px,#443b84 329.2px,#443a83 330.0px,#472d7b 336.2px,#482173 343.2px,#48186a 350.2px,#471365 357.2px,#471063 360.0px,#470d60 364.2px,#460a5d 371.2px,#46085c 378.2px,#46075a 385.2px,#46075a 399.2px,#450559 420.0px,#450559 524.7px)"></div>
<div style="position:absolute;left:89.3px;top:464.0px;width:524.7px;height:3.6px;background:linear-gradient(90deg,#450559 0.0px,#450559 99.2px,#46075a 106.2px,#46075a 120.0px,#46085c 120.2px,#460a5d 127.2px,#460b5e 134.2px,#471063 141.2px,#481769 148.2px,#481a6c 150.0px,#482071 155.2px,#472d7b 162.2px,#433d84 169.2px,#3c4f8a 176.2px,#375a8c 180.0px,#32648e 183.2px,#29798e 190.2px,#218f8d 197.2px,#21a585 204.2px,#34b679 210.0px,#38b977 211.2px,#5ec962 218.2px,#81d34d 225.2px,#93d741 229.2px,#a5db36 233.2px,#b8de29 237.2px,#cae11f 240.0px,#d5e21a 241.2px,#fde725 245.2px,#d5e21a 249.2px,#b8de29 253.2px,#a8db34 257.2px,#98d83e 261.2px,#89d548 265.2px,#86d549 266.2px,#75d054 270.0px,#65cb5e 273.2px,#44bf70 280.2px,#27ad81 287.2px,#1f9a8a 294.2px,#23898e 300.0px,#25858e 301.2px,#2c718e 308.2px,#355f8d 315.2px,#3d4d8a 322.2px,#443b84 329.2px,#443a83 330.0px,#472d7b 336.2px,#482173 343.2px,#48186a 350.2px,#471365 357.2px,#471063 360.0px,#470d60 364.2px,#460a5d 371.2px,#46085c 378.2px,#46075a 385.2px,#46075a 399.2px,#450559 420.0px,#450559 524.7px)"></div>
<div style="position:absolute;left:89.3px;top:467.0px;width:524.7px;height:3.6px;background:linear-gradient(90deg,#450559 0.0px,#450559 99.2px,#46075a 106.2px,#46075a 120.0px,#46085c 120.2px,#460a5d 127.2px,#460b5e 134.2px,#471063 141.2px,#481769 148.2px,#481a6c 150.0px,#482071 155.2px,#472d7b 162.2px,#433d84 169.2px,#3c4f8a 176.2px,#375a8c 180.0px,#32648e 183.2px,#29798e 190.2px,#218f8d 197.2px,#21a585 204.2px,#34b679 210.0px,#38b977 211.2px,#5ec962 218.2px,#81d34d 225.2px,#93d741 229.2px,#a5db36 233.2px,#b8de29 237.2px,#cae11f 240.0px,#d5e21a 241.2px,#fde725 245.2px,#d5e21a 249.2px,#b8de29 253.2px,#a8db34 257.2px,#98d83e 261.2px,#89d548 265.2px,#86d549 266.2px,#75d054 270.0px,#65cb5e 273.2px,#44bf70 280.2px,#27ad81 287.2px,#1f9a8a 294.2px,#23898e 300.0px,#25858e 301.2px,#2c718e 308.2px,#355f8d 315.2px,#3d4d8a 322.2px,#443b84 329.2px,#443a83 330.0px,#472d7b 336.2px,#482173 343.2px,#48186a 350.2px,#471365 357.2px,#471063 360.0px,#470d60 364.2px,#460a5d 371.2px,#46085c 378.2px,#46075a 385.2px,#46075a 399.2px,#450559 420.0px,#450559 524.7px)"></div>
<div style="position:absolute;left:89.3px;top:470.0px;width:524.7px;height:3.6px;background:linear-gradient(90deg,#450559 0.0px,#450559 99.2px,#46075a 106.2px,#46075a 120.0px,#46085c 120.2px,#460a5d 127.2px,#460b5e 134.2px,#471063 141.2px,#481769 148.2px,#481a6c 150.0px,#482071 155.2px,#472d7b 162.2px,#433d84 169.2px,#3c4f8a 176.2px,#375a8c 180.0px,#32648e 183.2px,#29798e 190.2px,#218f8d 197.2px,#21a585 204.2px,#34b679 210.0px,#38b977 211.2px,#5ec962 218.2px,#81d34d 225.2px,#93d741 229.2px,#a5db36 233.2px,#b8de29 237.2px,#cae11f 240.0px,#d5e21a 241.2px,#fde725 245.2px,#d5e21a 249.2px,#b8de29 253.2px,#a8db34 257.2px,#98d83e 261.2px,#89d548 265.2px,#86d549 266.2px,#75d054 270.0px,#65cb5e 273.2px,#44bf70 280.2px,#27ad81 287.2px,#1f9a8a 294.2px,#23898e 300.0px,#25858e 301.2px,#2c718e 308.2px,#355f8d 315.2px,#3d4d8a 322.2px,#443b84 329.2px,#443a83 330.0px,#472d7b 336.2px,#482173 343.2px,#48186a 350.2px,#471365 357.2px,#471063 360.0px,#470d60 364.2px,#460a5d 371.2px,#46085c 378.2px,#46075a 385.2px,#46075a 399.2px,#450559 420.0px,#450559 524.7px)"></div>
<div style="position:absolute;left:89.3px;top:473.0px;width:524.7px;height:3.6px;background:linear-gradient(90deg,#450559 0.0px,#450559 99.2px,#46075a 106.2px,#46075a 120.0px,#46085c 120.2px,#460a5d 127.2px,#460b5e 134.2px,#471063 141.2px,#481769 148.2px,#481a6c 150.0px,#482071 155.2px,#472d7b 162.2px,#433d84 169.2px,#3c4f8a 176.2px,#375a8c 180.0px,#32648e 183.2px,#29798e 190.2px,#218f8d 197.2px,#21a585 204.2px,#34b679 210.0px,#38b977 211.2px,#5ec962 218.2px,#81d34d 225.2px,#93d741 229.2px,#a5db36 233.2px,#b8de29 237.2px,#cae11f 240.0px,#d5e21a 241.2px,#fde725 245.2px,#d5e21a 249.2px,#b8de29 253.2px,#a8db34 257.2px,#98d83e 261.2px,#89d548 265.2px,#86d549 266.2px,#75d054 270.0px,#65cb5e 273.2px,#44bf70 280.2px,#27ad81 287.2px,#1f9a8a 294.2px,#23898e 300.0px,#25858e 301.2px,#2c718e 308.2px,#355f8d 315.2px,#3d4d8a 322.2px,#443b84 329.2px,#443a83 330.0px,#472d7b 336.2px,#482173 343.2px,#48186a 350.2px,#471365 357.2px,#471063 360.0px,#470d60 364.2px,#460a5d 371.2px,#46085c 378.2px,#46075a 385.2px,#46075a 399.2px,#450559 420.0px,#450559 524.7px)"></div>
<div style="position:absolute;left:89.3px;top:476.0px;width:524.7px;height:3.6px;background:linear-gradient(90deg,#450559 0.0px,#450559 99.2px,#46075a 106.2px,#46075a 120.0px,#46085c 120.2px,#460a5d 127.2px,#460b5e 134.2px,#471063 141.2px,#481769 148.2px,#481a6c 150.0px,#482071 155.2px,#472d7b 162.2px,#433d84 169.2px,#3c4f8a 176.2px,#375a8c 180.0px,#32648e 183.2px,#29798e 190.2px,#218f8d 197.2px,#21a585 204.2px,#34b679 210.0px,#38b977 211.2px,#5ec962 218.2px,#81d34d 225.2px,#93d741 229.2px,#a5db36 233.2px,#b8de29 237.2px,#cae11f 240.0px,#d5e21a 241.2px,#fde725 245.2px,#d5e21a 249.2px,#b8de29 253.2px,#a8db34 257.2px,#98d83e 261.2px,#89d548 265.2px,#86d549 266.2px,#75d054 270.0px,#65cb5e 273.2px,#44bf70 280.2px,#27ad81 287.2px,#1f9a8a 294.2px,#23898e 300.0px,#25858e 301.2px,#2c718e 308.2px,#355f8d 315.2px,#3d4d8a 322.2px,#443b84 329.2px,#443a83 330.0px,#472d7b 336.2px,#482173 343.2px,#48186a 350.2px,#471365 357.2px,#471063 360.0px,#470d60 364.2px,#460a5d 371.2px,#46085c 378.2px,#46075a 385.2px,#46075a 399.2px,#450559 420.0px,#450559 524.7px)"></div>
<div style="position:absolute;left:89.3px;top:479.0px;width:524.7px;height:3.6px;background:linear-gradient(90deg,#450559 0.0px,#450559 99.2px,#46075a 106.2px,#46075a 120.0px,#46085c 120.2px,#460a5d 127.2px,#460b5e 134.2px,#471063 141.2px,#481769 148.2px,#481a6c 150.0px,#482071 155.2px,#472d7b 162.2px,#433d84 169.2px,#3c4f8a 176.2px,#375a8c 180.0px,#32648e 183.2px,#29798e 190.2px,#218f8d 197.2px,#21a585 204.2px,#34b679 210.0px,#38b977 211.2px,#5ec962 218.2px,#81d34d 225.2px,#93d741 229.2px,#a5db36 233.2px,#b8de29 237.2px,#cae11f 240.0px,#d5e21a 241.2px,#fde725 245.2px,#d5e21a 249.2px,#b8de29 253.2px,#a8db34 257.2px,#98d83e 261.2px,#89d548 265.2px,#86d549 266.2px,#75d054 270.0px,#65cb5e 273.2px,#44bf70 280.2px,#27ad81 287.2px,#1f9a8a 294.2px,#23898e 300.0px,#25858e 301.2px,#2c718e 308.2px,#355f8d 315.2px,#3d4d8a 322.2px,#443b84 329.2px,#443a83 330.0px,#472d7b 336.2px,#482173 343.2px,#48186a 350.2px,#471365 357.2px,#471063 360.0px,#470d60 364.2px,#460a5d 371.2px,#46085c 378.2px,#46075a 385.2px,#46075a 399.2px,#450559 420.0px,#450559 524.7px)"></div>
<div style="position:absolute;left:89.3px;top:482.0px;width:524.7px;height:3.6px;background:linear-gradient(90deg,#450559 0.0px,#450559 99.2px,#46075a 106.2px,#46075a 120.0px,#46085c 120.2px,#460a5d 127.2px,#460b5e 134.2px,#471063 141.2px,#481769 148.2px,#481a6c 150.0px,#482071 155.2px,#472d7b 162.2px,#433d84 169.2px,#3c4f8a 176.2px,#375a8c 180.0px,#32648e 183.2px,#29798e 190.2px,#218f8d 197.2px,#21a585 204.2px,#34b679 210.0px,#38b977 211.2px,#5ec962 218.2px,#81d34d 225.2px,#93d741 229.2px,#a5db36 233.2px,#b8de29 237.2px,#cae11f 240.0px,#d5e21a 241.2px,#fde725 245.2px,#d5e21a 249.2px,#b8de29 253.2px,#a8db34 257.2px,#98d83e 261.2px,#89d548 265.2px,#86d549 266.2px,#75d054 270.0px,#65cb5e 273.2px,#44bf70 280.2px,#27ad81 287.2px,#1f9a8a 294.2px,#23898e 300.0px,#25858e 301.2px,#2c718e 308.2px,#355f8d 315.2px,#3d4d8a 322.2px,#443b84 329.2px,#443a83 330.0px,#472d7b 336.2px,#482173 343.2px,#48186a 350.2px,#471365 357.2px,#471063 360.0px,#470d60 364.2px,#460a5d 371.2px,#46085c 378.2px,#46075a 385.2px,#46075a 399.2px,#450559 420.0px,#450559 524.7px)"></div>
<div style="position:absolute;left:89.3px;top:485.0px;width:524.7px;height:3.6px;background:linear-gradient(90deg,#450559 0.0px,#450559 99.2px,#46075a 106.2px,#46075a 120.0px,#46085c 120.2px,#460a5d 127.2px,#460b5e 134.2px,#471063 141.2px,#481769 148.2px,#481a6c 150.0px,#482071 155.2px,#472d7b 162.2px,#433d84 169.2px,#3c4f8a 176.2px,#375a8c 180.0px,#32648e 183.2px,#29798e 190.2px,#218f8d 197.2px,#21a585 204.2px,#34b679 210.0px,#38b977 211.2px,#5ec962 218.2px,#81d34d 225.2px,#93d741 229.2px,#a5db36 233.2px,#b8de29 237.2px,#cae11f 240.0px,#d5e21a 241.2px,#fde725 245.2px,#d5e21a 249.2px,#b8de29 253.2px,#a8db34 257.2px,#98d83e 261.2px,#89d548 265.2px,#86d549 266.2px,#75d054 270.0px,#65cb5e 273.2px,#44bf70 280.2px,#27ad81 287.2px,#1f9a8a 294.2px,#23898e 300.0px,#25858e 301.2px,#2c718e 308.2px,#355f8d 315.2px,#3d4d8a 322.2px,#443b84 329.2px,#443a83 330.0px,#472d7b 336.2px,#482173 343.2px,#48186a 350.2px,#471365 357.2px,#471063 360.0px,#470d60 364.2px,#460a5d 371.2px,#46085c 378.2px,#46075a 385.2px,#46075a 399.2px,#450559 420.0px,#450559 524.7px)"></div>
<div style="position:absolute;left:89.3px;top:488.0px;width:524.7px;height:3.6px;background:linear-gradient(90deg,#450559 0.0px,#450559 99.2px,#46075a 106.2px,#46075a 120.0px,#46085c 120.2px,#460a5d 127.2px,#460b5e 134.2px,#471063 141.2px,#481769 148.2px,#481a6c 150.0px,#482071 155.2px,#472d7b 162.2px,#433d84 169.2px,#3c4f8a 176.2px,#375a8c 180.0px,#32648e 183.2px,#29798e 190.2px,#218f8d 197.2px,#21a585 204.2px,#34b679 210.0px,#38b977 211.2px,#5ec962 218.2px,#81d34d 225.2px,#93d741 229.2px,#a5db36 233.2px,#b8de29 237.2px,#cae11f 240.0px,#d5e21a 241.2px,#fde725 245.2px,#d5e21a 249.2px,#b8de29 253.2px,#a8db34 257.2px,#98d83e 261.2px,#89d548 265.2px,#86d549 266.2px,#75d054 270.0px,#65cb5e 273.2px,#44bf70 280.2px,#27ad81 287.2px,#1f9a8a 294.2px,#23898e 300.0px,#25858e 301.2px,#2c718e 308.2px,#355f8d 315.2px,#3d4d8a 322.2px,#443b84 329.2px,#443a83 330.0px,#472d7b 336.2px,#482173 343.2px,#48186a 350.2px,#471365 357.2px,#471063 360.0px,#470d60 364.2px,#460a5d 371.2px,#46085c 378.2px,#46075a 385.2px,#46075a 399.2px,#450559 420.0px,#450559 524.7px)"></div>
<div style="position:absolute;left:89.3px;top:491.0px;width:524.7px;height:3.6px;background:linear-gradient(90deg,#450559 0.0px,#450559 99.2px,#46075a 106.2px,#46075a 120.0px,#46085c 120.2px,#460a5d 127.2px,#460b5e 134.2px,#471063 141.2px,#481769 148.2px,#481a6c 150.0px,#482071 155.2px,#472d7b 162.2px,#433d84 169.2px,#3c4f8a 176.2px,#375a8c 180.0px,#32648e 183.2px,#29798e 190.2px,#218f8d 197.2px,#21a585 204.2px,#34b679 210.0px,#38b977 211.2px,#5ec962 218.2px,#81d34d 225.2px,#93d741 229.2px,#a5db36 233.2px,#b8de29 237.2px,#cae11f 240.0px,#d5e21a 241.2px,#fde725 245.2px,#d5e21a 249.2px,#b8de29 253.2px,#a8db34 257.2px,#98d83e 261.2px,#89d548 265.2px,#86d549 266.2px,#75d054 270.0px,#65cb5e 273.2px,#44bf70 280.2px,#27ad81 287.2px,#1f9a8a 294.2px,#23898e 300.0px,#25858e 301.2px,#2c718e 308.2px,#355f8d 315.2px,#3d4d8a 322.2px,#443b84 329.2px,#443a83 330.0px,#472d7b 336.2px,#482173 343.2px,#48186a 350.2px,#471365 357.2px,#471063 360.0px,#470d60 364.2px,#460a5d 371.2px,#46085c 378.2px,#46075a 385.2px,#46075a 399.2px,#450559 420.0px,#450559 524.7px)"></div>
<div style="position:absolute;left:89.3px;top:494.0px;width:524.7px;height:2.1px;background:linear-gradient(90deg,#450559 0.0px,#450559 99.2px,#46075a 106.2px,#46075a 120.0px,#46085c 120.2px,#460a5d 127.2px,#460b5e 134.2px,#471063 141.2px,#481769 148.2px,#481a6c 150.0px,#482071 155.2px,#472d7b 162.2px,#433d84 169.2px,#3c4f8a 176.2px,#375a8c 180.0px,#32648e 183.2px,#29798e 190.2px,#218f8d 197.2px,#21a585 204.2px,#34b679 210.0px,#38b977 211.2px,#5ec962 218.2px,#81d34d 225.2px,#93d741 229.2px,#a5db36 233.2px,#b8de29 237.2px,#cae11f 240.0px,#d5e21a 241.2px,#fde725 245.2px,#d5e21a 249.2px,#b8de29 253.2px,#a8db34 257.2px,#98d83e 261.2px,#89d548 265.2px,#86d549 266.2px,#75d054 270.0px,#65cb5e 273.2px,#44bf70 280.2px,#27ad81 287.2px,#1f9a8a 294.2px,#23898e 300.0px,#25858e 301.2px,#2c718e 308.2px,#355f8d 315.2px,#3d4d8a 322.2px,#443b84 329.2px,#443a83 330.0px,#472d7b 336.2px,#482173 343.2px,#48186a 350.2px,#471365 357.2px,#471063 360.0px,#470d60 364.2px,#460a5d 371.2px,#46085c 378.2px,#46075a 385.2px,#46075a 399.2px,#450559 420.0px,#450559 524.7px)"></div>
<div style="position:absolute;left:632.0px;top:112.6px;width:19.5px;height:381.1px;background:linear-gradient(180deg,#fde725 0.0%,#dfe318 5.0%,#bddf26 10.0%,#9bd93c 15.0%,#7ad151 20.0%,#5ec962 25.0%,#44bf70 30.0%,#2fb47c 35.0%,#22a884 40.0%,#1e9c89 45.0%,#21918c 50.0%,#25848e 55.0%,#2a788e 60.0%,#2f6c8e 65.0%,#355f8d 70.0%,#3b528b 75.0%,#414487 80.0%,#463480 85.0%,#482475 90.0%,#471365 95.0%,#440154 100.0%)"></div>
<svg width="1345" height="606" viewBox="0 0 1345 606" font-family='"Liberation Sans", Arial, sans-serif'>
<defs><clipPath id="ca"><rect x="89.3" y="72.0" width="524.7" height="423.5"/></clipPath></defs>
<g clip-path="url(#ca)"><polygon points="298.3,78.8 296.2,80.5 294.9,82.9 292.2,82.7 289.5,83.4 287.8,81.3 285.4,80.0 285.6,77.3 284.9,74.6 287.0,72.9 288.3,70.5 291.0,70.7 293.7,70.0 295.4,72.1 297.8,73.4 297.6,76.1" fill="#fff"/><polygon points="300.9,102.3 298.8,104.0 297.5,106.4 294.8,106.2 292.1,106.9 290.4,104.8 288.0,103.5 288.2,100.8 287.5,98.1 289.6,96.4 290.9,94.0 293.6,94.2 296.3,93.5 298.0,95.6 300.4,96.9 300.2,99.6" fill="#fff"/><polygon points="302.1,126.8 300.0,128.5 298.7,130.9 296.0,130.7 293.3,131.4 291.6,129.3 289.2,128.0 289.4,125.3 288.7,122.6 290.8,120.9 292.1,118.5 294.8,118.7 297.5,118.0 299.2,120.1 301.6,121.4 301.4,124.1" fill="#fff"/><polygon points="305.2,151.1 303.1,152.8 301.8,155.2 299.1,155.0 296.4,155.7 294.7,153.6 292.3,152.3 292.5,149.6 291.8,146.9 293.9,145.2 295.2,142.8 297.9,143.0 300.6,142.3 302.3,144.4 304.7,145.7 304.5,148.4" fill="#fff"/><polygon points="324.4,177.0 322.3,178.7 321.0,181.1 318.3,180.9 315.6,181.6 313.9,179.5 311.5,178.2 311.7,175.5 311.0,172.8 313.1,171.1 314.4,168.7 317.1,168.9 319.8,168.2 321.5,170.3 323.9,171.6 323.7,174.3" fill="#fff"/><polygon points="342.9,202.0 340.8,203.7 339.5,206.1 336.8,205.9 334.1,206.6 332.4,204.5 330.0,203.2 330.2,200.5 329.5,197.8 331.6,196.1 332.9,193.7 335.6,193.9 338.3,193.2 340.0,195.3 342.4,196.6 342.2,199.3" fill="#fff"/><polygon points="350.6,226.6 348.5,228.3 347.2,230.7 344.5,230.5 341.8,231.2 340.1,229.1 337.7,227.8 337.9,225.1 337.2,222.4 339.3,220.7 340.6,218.3 343.3,218.5 346.0,217.8 347.7,219.9 350.1,221.2 349.9,223.9" fill="#fff"/><polygon points="354.0,252.1 351.9,253.8 350.6,256.2 347.9,256.0 345.2,256.7 343.5,254.6 341.1,253.3 341.3,250.6 340.6,247.9 342.7,246.2 344.0,243.8 346.7,244.0 349.4,243.3 351.1,245.4 353.5,246.7 353.3,249.4" fill="#fff"/><polygon points="354.0,276.7 351.9,278.4 350.6,280.8 347.9,280.6 345.2,281.3 343.5,279.2 341.1,277.9 341.3,275.2 340.6,272.5 342.7,270.8 344.0,268.4 346.7,268.6 349.4,267.9 351.1,270.0 353.5,271.3 353.3,274.0" fill="#fff"/><polygon points="355.1,301.4 353.0,303.1 351.7,305.5 349.0,305.3 346.3,306.0 344.6,303.9 342.2,302.6 342.4,299.9 341.7,297.2 343.8,295.5 345.1,293.1 347.8,293.3 350.5,292.6 352.2,294.7 354.6,296.0 354.4,298.7" fill="#fff"/><polygon points="355.8,326.5 353.7,328.2 352.4,330.6 349.7,330.4 347.0,331.1 345.3,329.0 342.9,327.7 343.1,325.0 342.4,322.3 344.5,320.6 345.8,318.2 348.5,318.4 351.2,317.7 352.9,319.8 355.3,321.1 355.1,323.8" fill="#fff"/><polygon points="355.8,351.2 353.7,352.9 352.4,355.3 349.7,355.1 347.0,355.8 345.3,353.7 342.9,352.4 343.1,349.7 342.4,347.0 344.5,345.3 345.8,342.9 348.5,343.1 351.2,342.4 352.9,344.5 355.3,345.8 355.1,348.5" fill="#fff"/><polygon points="361.2,376.6 359.1,378.3 357.8,380.7 355.1,380.5 352.4,381.2 350.7,379.1 348.3,377.8 348.5,375.1 347.8,372.4 349.9,370.7 351.2,368.3 353.9,368.5 356.6,367.8 358.3,369.9 360.7,371.2 360.5,373.9" fill="#fff"/><polygon points="348.5,401.4 346.4,403.1 345.1,405.5 342.4,405.3 339.7,406.0 338.0,403.9 335.6,402.6 335.8,399.9 335.1,397.2 337.2,395.5 338.5,393.1 341.2,393.3 343.9,392.6 345.6,394.7 348.0,396.0 347.8,398.7" fill="#fff"/><polygon points="344.9,426.5 342.8,428.2 341.5,430.6 338.8,430.4 336.1,431.1 334.4,429.0 332.0,427.7 332.2,425.0 331.5,422.3 333.6,420.6 334.9,418.2 337.6,418.4 340.3,417.7 342.0,419.8 344.4,421.1 344.2,423.8" fill="#fff"/><polygon points="343.8,451.2 341.7,452.9 340.4,455.3 337.7,455.1 335.0,455.8 333.3,453.7 330.9,452.4 331.1,449.7 330.4,447.0 332.5,445.3 333.8,442.9 336.5,443.1 339.2,442.4 340.9,444.5 343.3,445.8 343.1,448.5" fill="#fff"/><polygon points="343.1,476.6 341.0,478.3 339.7,480.7 337.0,480.5 334.3,481.2 332.6,479.1 330.2,477.8 330.4,475.1 329.7,472.4 331.8,470.7 333.1,468.3 335.8,468.5 338.5,467.8 340.2,469.9 342.6,471.2 342.4,473.9" fill="#fff"/><polygon points="342.0,496.6 339.9,498.3 338.6,500.7 335.9,500.5 333.2,501.2 331.5,499.1 329.1,497.8 329.3,495.1 328.6,492.4 330.7,490.7 332.0,488.3 334.7,488.5 337.4,487.8 339.1,489.9 341.5,491.2 341.3,493.9" fill="#fff"/></g>
<line x1="431.5" y1="180.4" x2="612.8" y2="180.4" stroke="#fff" stroke-width="2.6" stroke-dasharray="13.9 12.8"/>
<line x1="440.3" y1="309.7" x2="612.8" y2="309.7" stroke="#fff" stroke-width="2.6" stroke-dasharray="13.9 12.8"/>
<line x1="439.5" y1="387.0" x2="612.8" y2="387.0" stroke="#fff" stroke-width="2.6" stroke-dasharray="13.9 12.8"/>
<path d="M84.2,105.6 L101.4,108.7 L113.9,111.4 L124.8,115.0 L131.1,117.6 L148.3,121.5 L163.9,125.4 L179.5,130.1 L193.5,134.0 L210.7,136.4 L234.1,141.8 L257.5,147.3 L274.7,149.6 L288.9,154.0 L302.3,158.2 L317.1,160.4 L339.4,163.4 L361.7,165.6 L381.0,169.3 L395.8,173.8 L406.2,176.7 L409.9,180.4 L404.7,181.9 L397.3,185.6 L383.9,189.3 L361.7,193.8 L339.4,198.2 L317.1,202.0 L302.3,205.7 L291.9,210.9 L291.1,213.1 L293.4,216.8 L299.3,222.7 L303.8,226.5 L317.1,230.2 L332.0,234.6 L343.8,239.1 L350.8,245.1 L370.1,252.6 L400.1,262.2 L419.5,265.4 L455.9,278.3 L473.1,282.6 L494.5,290.1 L503.0,293.5 L511.7,296.1 L519.5,297.5 L531.0,300.0 L537.7,304.1 L542.6,309.9 L541.0,314.0 L541.8,318.1 L538.5,323.1 L534.4,328.0 L528.6,333.0 L522.8,336.3 L519.5,338.3 L517.8,341.2 L512.9,344.5 L507.9,346.2 L503.8,349.5 L501.3,352.8 L500.5,357.7 L503.0,361.1 L501.3,365.2 L496.4,368.5 L491.4,371.8 L488.9,375.9 L489.8,380.9 L484.8,384.2 L478.2,388.3 L476.3,389.9 L469.3,396.9 L470.3,400.8 L462.4,405.8 L454.5,409.7 L448.5,416.7 L445.6,419.7 L446.5,423.6 L440.6,430.6 L436.6,433.5 L432.7,437.5 L424.7,442.5 L428.7,449.4 L420.8,454.3 L414.8,459.3 L413.8,465.2 L410.9,470.2 L413.8,476.2 L406.9,481.1 L402.9,484.1 L404.9,489.0 L403.9,496.0" fill="none" stroke="#ff0000" stroke-width="5.2" stroke-linejoin="round" stroke-linecap="round"/>
<line x1="157.1" y1="114.5" x2="157.8" y2="103" stroke="#ff0000" stroke-width="1.6"/>
<polygon points="160.4,76.3 150.8,104.7 164.7,106" fill="#ff0000"/>
<rect x="89.3" y="72.0" width="524.7" height="423.5" fill="none" stroke="#000" stroke-width="2.0"/>
<line x1="81.3" y1="495.5" x2="89.3" y2="495.5" stroke="#000" stroke-width="1.8" />
<line x1="605.5" y1="495.5" x2="614.0" y2="495.5" stroke="#000" stroke-width="1.8" />
<line x1="84.8" y1="447.9" x2="89.3" y2="447.9" stroke="#000" stroke-width="1.8" />
<line x1="609.0" y1="447.9" x2="614.0" y2="447.9" stroke="#000" stroke-width="1.8" />
<line x1="81.3" y1="400.3" x2="89.3" y2="400.3" stroke="#000" stroke-width="1.8" />
<line x1="605.5" y1="400.3" x2="614.0" y2="400.3" stroke="#000" stroke-width="1.8" />
<line x1="84.8" y1="352.7" x2="89.3" y2="352.7" stroke="#000" stroke-width="1.8" />
<line x1="609.0" y1="352.7" x2="614.0" y2="352.7" stroke="#000" stroke-width="1.8" />
<line x1="81.3" y1="305.1" x2="89.3" y2="305.1" stroke="#000" stroke-width="1.8" />
<line x1="605.5" y1="305.1" x2="614.0" y2="305.1" stroke="#000" stroke-width="1.8" />
<line x1="84.8" y1="257.5" x2="89.3" y2="257.5" stroke="#000" stroke-width="1.8" />
<line x1="609.0" y1="257.5" x2="614.0" y2="257.5" stroke="#000" stroke-width="1.8" />
<line x1="81.3" y1="209.9" x2="89.3" y2="209.9" stroke="#000" stroke-width="1.8" />
<line x1="605.5" y1="209.9" x2="614.0" y2="209.9" stroke="#000" stroke-width="1.8" />
<line x1="84.8" y1="162.3" x2="89.3" y2="162.3" stroke="#000" stroke-width="1.8" />
<line x1="609.0" y1="162.3" x2="614.0" y2="162.3" stroke="#000" stroke-width="1.8" />
<line x1="81.3" y1="114.7" x2="89.3" y2="114.7" stroke="#000" stroke-width="1.8" />
<line x1="605.5" y1="114.7" x2="614.0" y2="114.7" stroke="#000" stroke-width="1.8" />
<line x1="89.3" y1="495.5" x2="89.3" y2="503.5" stroke="#000" stroke-width="1.8" />
<line x1="194.2" y1="495.5" x2="194.2" y2="503.5" stroke="#000" stroke-width="1.8" />
<line x1="299.2" y1="495.5" x2="299.2" y2="503.5" stroke="#000" stroke-width="1.8" />
<line x1="404.1" y1="495.5" x2="404.1" y2="503.5" stroke="#000" stroke-width="1.8" />
<line x1="509.1" y1="495.5" x2="509.1" y2="503.5" stroke="#000" stroke-width="1.8" />
<line x1="614.0" y1="495.5" x2="614.0" y2="503.5" stroke="#000" stroke-width="1.8" />
<line x1="89.3" y1="72.0" x2="89.3" y2="80.0" stroke="#000" stroke-width="1.8" />
<line x1="141.8" y1="72.0" x2="141.8" y2="76.5" stroke="#000" stroke-width="1.8" />
<line x1="194.2" y1="72.0" x2="194.2" y2="80.0" stroke="#000" stroke-width="1.8" />
<line x1="246.7" y1="72.0" x2="246.7" y2="76.5" stroke="#000" stroke-width="1.8" />
<line x1="299.2" y1="72.0" x2="299.2" y2="80.0" stroke="#000" stroke-width="1.8" />
<line x1="351.7" y1="72.0" x2="351.7" y2="76.5" stroke="#000" stroke-width="1.8" />
<line x1="404.1" y1="72.0" x2="404.1" y2="80.0" stroke="#000" stroke-width="1.8" />
<line x1="456.6" y1="72.0" x2="456.6" y2="76.5" stroke="#000" stroke-width="1.8" />
<line x1="509.1" y1="72.0" x2="509.1" y2="80.0" stroke="#000" stroke-width="1.8" />
<line x1="561.5" y1="72.0" x2="561.5" y2="76.5" stroke="#000" stroke-width="1.8" />
<line x1="614.0" y1="72.0" x2="614.0" y2="80.0" stroke="#000" stroke-width="1.8" />
<rect x="632" y="112.6" width="19.5" height="381.1" fill="none" stroke="#000" stroke-width="1.6"/>
<line x1="651.5" y1="493.7" x2="657.0" y2="493.7" stroke="#000" stroke-width="1.6" />
<line x1="651.5" y1="407.8" x2="657.0" y2="407.8" stroke="#000" stroke-width="1.6" />
<line x1="651.5" y1="321.9" x2="657.0" y2="321.9" stroke="#000" stroke-width="1.6" />
<line x1="651.5" y1="236.0" x2="657.0" y2="236.0" stroke="#000" stroke-width="1.6" />
<line x1="651.5" y1="150.1" x2="657.0" y2="150.1" stroke="#000" stroke-width="1.6" />
<path d="M867.0,137.5 L869.6,137.6 L872.2,137.8 L874.8,137.9 L877.4,138.1 L880.0,138.2 L882.2,138.3 L884.4,138.4 L886.7,138.5 L888.9,138.6 L891.1,138.6 L893.3,138.7 L895.6,138.8 L897.8,138.9 L900.0,139.0 L902.2,139.1 L904.4,139.1 L906.7,139.2 L908.9,139.3 L911.1,139.3 L913.3,139.4 L915.6,139.5 L917.8,139.5 L920.0,139.6 L922.2,139.7 L924.4,139.7 L926.7,139.8 L928.9,139.9 L931.1,139.9 L933.3,140.0 L935.6,140.1 L937.8,140.1 L940.0,140.2 L942.2,140.3 L944.4,140.4 L946.7,140.5 L948.9,140.6 L951.1,140.6 L953.3,140.7 L955.6,140.8 L957.8,140.9 L960.0,141.0 L962.5,141.2 L965.0,141.3 L967.5,141.5 L970.0,141.7 L972.5,141.8 L975.0,142.0 L977.3,142.2 L979.7,142.3 L982.0,142.5 L985.0,141.2 L988.0,140.0 L990.3,139.3 L992.7,138.5 L995.0,137.8 L997.5,137.8 L1000.0,139.0 L1002.5,138.7 L1005.0,137.7 L1007.5,137.5 L1010.0,138.3 L1012.2,137.9 L1014.4,139.2 L1016.7,138.4 L1018.9,138.7 L1021.1,138.0 L1023.3,138.7 L1025.6,137.8 L1027.8,137.6 L1030.0,138.9 L1032.6,138.1 L1035.0,138.7 L1037.5,140.0 L1039.9,140.6 L1042.5,139.7 L1045.0,139.5 L1047.4,140.6 L1049.7,140.9 L1052.2,140.8 L1054.7,140.0 L1057.0,140.4 L1059.3,141.8 L1062.0,140.4 L1063.8,142.3 L1065.5,144.1 L1067.6,145.0 L1070.2,144.8 L1072.5,145.7 L1074.8,146.4 L1077.4,146.4 L1079.6,147.9 L1082.2,147.9 L1084.4,149.6 L1087.2,149.0 L1089.6,150.0 L1092.1,150.7 L1094.5,151.8 L1097.3,150.6 L1099.0,153.7 L1101.5,153.4 L1103.8,154.2 L1105.9,155.6 L1108.5,155.3 L1110.7,156.2 L1112.8,156.9 L1114.6,158.3 L1116.7,159.1 L1118.7,160.3 L1121.1,160.4 L1123.4,160.7 L1125.1,162.5 L1127.5,162.5 L1129.3,164.1 L1131.4,164.8 L1134.0,164.5 L1135.5,166.7 L1137.8,167.1 L1139.9,167.9 L1142.1,168.5 L1143.5,170.9 L1145.4,172.0 L1148.1,171.9 L1150.1,173.0 L1152.1,174.1 L1154.2,175.0 L1155.7,177.1 L1158.3,177.1 L1159.7,179.4 L1163.0,178.1 L1165.2,179.4 L1166.8,182.1 L1169.4,182.2 L1172.2,182.0 L1173.4,185.8 L1176.1,185.7 L1178.2,186.5 L1181.2,185.7 L1182.1,188.9 L1184.5,189.3 L1186.6,190.2 L1188.7,191.1 L1191.2,191.2 L1193.1,192.7 L1194.7,195.3 L1196.6,197.3 L1198.9,198.7 L1200.3,201.0 L1201.7,203.5 L1202.7,206.2 L1203.0,209.0 L1205.7,210.3 L1208.0,211.9 L1208.0,214.6 L1209.8,216.3 L1211.5,218.0 L1212.8,219.9 L1213.0,222.7 L1215.2,223.9 L1216.4,226.0 L1218.2,227.5 L1218.4,230.3 L1220.6,231.5 L1222.0,233.5 L1223.9,234.9 L1225.2,236.6 L1225.4,239.4 L1228.1,240.1 L1228.5,242.7 L1230.3,244.2 L1231.8,245.7 L1233.6,247.5 L1235.4,249.2 L1236.4,251.6 L1238.6,252.9 L1241.1,254.0 L1242.2,256.4 L1242.4,259.1 L1245.4,259.8 L1246.0,262.2 L1247.4,264.1 L1248.0,266.5 L1250.5,267.6 L1250.5,270.5 L1253.3,271.5 L1253.9,274.0 L1256.0,275.5 L1256.6,278.0 L1258.4,279.6 L1260.2,281.2 L1260.5,283.8 L1262.6,285.2 L1262.9,287.8 L1266.2,288.3 L1265.0,291.9 L1267.4,293.1 L1267.6,295.8 L1269.5,297.2 L1271.3,298.7 L1272.8,300.3 L1274.3,301.9 L1275.0,304.2 L1276.9,305.5 L1279.0,306.6 L1279.6,308.9 L1280.5,311.0 L1282.1,312.5 L1283.4,314.4 L1284.6,316.2 L1287.7,316.9 L1287.3,319.8 L1287.7,322.2 L1289.6,323.7 L1291.4,325.3 L1293.1,326.9 L1294.0,328.9 L1293.8,331.9 L1296.4,332.8 L1297.1,335.1 L1298.7,336.7 L1299.5,338.9 L1301.7,340.3 L1303.2,342.2 L1303.2,344.7 L1303.9,347.0 L1306.7,348.2 L1306.1,351.0 L1306.8,353.2 L1308.1,355.1 L1309.2,357.2 L1311.2,358.7 L1311.5,361.2 L1312.6,363.2 L1312.1,365.8 L1313.3,367.7 L1313.9,369.8 L1316.2,371.3 L1316.8,373.5 L1316.6,376.0 L1317.5,378.0 L1317.6,380.3 L1319.6,382.0 L1320.4,384.1 L1320.0,386.6 L1321.7,388.6 L1322.0,390.9 L1321.4,393.5 L1321.7,395.8 L1323.7,397.7 L1325.0,399.8 L1324.7,402.3 L1326.9,404.3 L1324.5,407.0 L1324.3,409.4 L1325.6,411.6 L1326.9,413.8 L1327.4,416.1 L1327.3,418.4 L1327.5,420.9 L1327.9,423.3 L1328.5,425.7 L1328.9,428.2 L1330.6,430.1 L1331.1,433.0 L1334.7,434.7 L1334.8,437.7" fill="none" stroke="#ff0000" stroke-width="5" stroke-linejoin="round" stroke-linecap="round"/>
<path d="M867.0,137.5 L869.2,137.6 L871.4,137.7 L873.6,137.8 L875.8,137.9 L878.0,138.0 L880.2,138.1 L882.4,138.2 L884.6,138.3 L886.8,138.4 L889.0,138.5 L891.2,138.6 L893.4,138.7 L895.6,138.8 L897.8,138.9 L900.0,139.0 L902.2,139.1 L904.4,139.1 L906.7,139.2 L908.9,139.2 L911.1,139.3 L913.3,139.3 L915.6,139.4 L917.8,139.4 L920.0,139.5 L922.2,139.6 L924.4,139.6 L926.7,139.7 L928.9,139.7 L931.1,139.8 L933.3,139.8 L935.6,139.9 L937.8,139.9 L940.0,140.0 L942.2,140.1 L944.4,140.2 L946.7,140.3 L948.9,140.4 L951.1,140.4 L953.3,140.5 L955.6,140.6 L957.8,140.7 L960.0,140.8 L962.2,140.9 L964.4,141.1 L966.7,141.2 L968.9,141.3 L971.1,141.5 L973.3,141.6 L975.6,141.7 L977.8,141.9 L980.0,142.0 L982.7,141.3 L985.3,140.7 L988.0,140.0 L990.3,139.2 L992.7,138.3 L995.0,137.5 L997.5,137.6 L1000.0,137.0 L1002.5,138.2 L1005.0,138.0 L1007.5,138.9 L1010.0,137.5 L1012.2,138.3 L1014.4,138.3 L1016.7,138.3 L1018.9,138.3 L1021.1,138.4 L1023.4,137.9 L1025.6,137.7 L1027.8,138.2 L1030.0,139.0 L1032.1,139.8 L1034.4,139.5 L1036.6,139.7 L1038.8,139.7 L1041.0,139.7 L1043.2,139.5 L1045.3,140.0 L1047.6,141.1 L1050.3,140.0 L1052.8,140.2 L1054.9,142.4 L1057.5,141.6 L1059.9,142.5 L1062.1,142.8 L1064.7,141.9 L1066.4,144.8 L1068.8,144.8 L1071.2,144.1 L1073.4,144.9 L1075.7,145.0 L1078.1,144.7 L1080.4,145.7 L1082.8,146.5 L1085.1,147.4 L1087.6,147.6 L1090.1,147.6 L1092.4,149.0 L1095.1,148.0 L1097.1,149.5 L1099.4,150.2 L1101.8,149.7 L1104.3,149.1 L1106.4,150.2 L1108.5,151.5 L1110.7,152.2 L1112.9,153.4 L1115.6,152.3 L1117.7,153.5 L1119.9,154.5 L1122.4,154.5 L1125.1,153.6 L1126.9,156.4 L1129.0,158.0 L1131.6,157.7 L1134.3,157.0 L1136.6,157.9 L1138.8,159.0 L1140.8,161.1 L1143.5,160.4 L1145.9,160.9 L1147.9,162.6 L1150.6,162.3 L1152.6,164.4 L1155.5,163.5 L1157.8,164.4 L1159.8,166.0 L1162.0,167.3 L1164.5,167.6 L1166.9,168.2 L1169.8,167.7 L1171.8,169.2 L1174.1,170.2 L1176.4,171.0 L1178.5,172.4 L1180.9,172.4 L1183.0,173.7 L1185.4,173.9 L1187.8,174.2 L1190.0,175.1 L1192.4,176.0 L1194.8,177.0 L1197.7,176.9 L1199.4,179.0 L1201.7,180.4 L1201.6,183.7 L1203.2,185.7 L1207.1,187.9 L1208.8,190.3 L1210.7,192.4 L1211.8,194.7 L1213.6,196.3 L1214.6,199.0 L1217.3,199.5 L1219.6,200.6 L1222.3,201.3 L1222.4,205.0 L1224.7,205.7 L1227.3,206.1 L1228.3,208.6 L1230.9,209.0 L1230.5,213.3 L1233.3,213.2 L1235.3,214.2 L1237.4,215.1 L1240.0,215.3 L1240.9,217.8 L1243.3,218.3 L1244.2,220.8 L1247.1,220.6 L1248.4,222.6 L1248.9,225.5 L1250.3,227.6 L1253.4,228.1 L1255.2,229.8 L1255.5,232.8 L1257.1,234.7 L1259.7,235.8 L1261.2,237.8 L1262.8,239.7 L1264.7,241.4 L1265.6,243.5 L1265.7,246.2 L1267.3,247.9 L1267.7,250.3 L1270.2,251.4 L1271.4,253.2 L1273.1,254.8 L1273.9,257.1 L1275.8,258.5 L1277.3,259.9 L1277.3,262.8 L1278.3,264.8 L1280.0,266.3 L1281.1,268.2 L1283.0,269.5 L1284.9,270.8 L1285.9,272.9 L1287.5,274.4 L1289.3,275.8 L1290.9,277.3 L1292.3,279.2 L1293.0,281.8 L1294.4,283.7 L1296.3,285.4 L1296.7,288.1 L1298.9,289.4 L1300.2,291.5 L1301.3,293.7 L1304.0,294.7 L1306.1,296.1 L1305.9,299.1 L1308.0,300.4 L1308.1,303.1 L1310.0,304.6 L1310.9,306.8 L1312.4,308.6 L1315.3,309.4 L1315.0,312.4 L1317.1,313.7 L1318.4,315.6 L1319.5,317.6 L1320.0,320.0 L1321.2,321.9 L1322.4,323.8 L1325.2,324.7 L1325.8,327.0 L1328.1,328.2 L1328.1,331.0 L1328.6,333.6 L1330.5,335.6 L1330.8,338.3 L1331.8,340.7 L1332.3,343.3 L1334.3,344.9 L1335.1,347.1 L1335.8,349.2 L1334.8,351.9" fill="none" stroke="#0000ff" stroke-width="5" stroke-linejoin="round" stroke-linecap="round"/>
<path d="M867.0,136.7 L869.2,137.0 L871.5,136.9 L873.7,136.9 L875.9,137.1 L878.1,137.0 L880.4,136.9 L882.6,137.3 L884.8,136.8 L887.0,136.7 L889.3,136.6 L891.5,136.8 L893.7,137.0 L895.9,137.0 L898.2,137.1 L900.4,137.2 L902.6,137.2 L904.8,137.0 L907.1,137.1 L909.3,137.0 L911.5,136.7 L913.8,137.0 L916.0,136.8 L918.2,136.8 L920.4,137.2 L922.7,136.9 L924.9,136.7 L927.1,136.7 L929.3,137.2 L931.6,136.7 L933.8,136.9 L936.0,136.8 L938.2,136.8 L940.5,136.8 L942.7,136.6 L944.9,136.6 L947.2,136.6 L949.4,136.6 L951.6,136.8 L953.8,136.9 L956.1,136.5 L958.3,136.7 L960.5,136.4 L962.7,136.5 L965.0,136.5 L967.2,136.6 L969.4,136.5 L971.6,136.1 L973.9,136.8 L976.1,136.5 L978.3,136.4 L980.5,136.7 L982.8,136.4 L984.9,136.2 L987.4,135.4 L989.7,134.2 L992.0,132.9 L994.7,133.1 L997.3,132.9 L1000.0,132.6 L1002.2,133.1 L1004.4,132.8 L1006.7,132.5 L1008.9,132.7 L1011.1,132.6 L1013.3,132.8 L1015.6,132.3 L1017.8,132.7 L1020.0,132.6 L1022.2,132.5 L1024.4,132.5 L1026.7,132.6 L1028.9,132.4 L1031.1,132.3 L1033.3,132.0 L1035.6,132.4 L1037.8,132.3 L1040.0,132.1 L1042.2,132.1 L1044.4,132.1 L1046.7,131.5 L1048.9,132.0 L1051.1,131.4 L1053.3,131.9 L1055.6,132.0 L1057.8,132.1 L1060.0,131.6 L1062.2,131.8 L1064.4,131.6 L1066.7,131.2 L1068.9,131.7 L1071.1,131.5 L1073.3,131.5 L1075.6,131.3 L1077.8,131.4 L1080.0,131.4 L1082.2,131.6 L1084.4,131.3 L1086.7,131.9 L1088.9,131.1 L1091.1,131.1 L1093.3,131.1 L1095.6,130.9 L1097.8,131.3 L1100.0,131.1 L1102.2,130.7 L1104.4,130.9 L1106.7,131.1 L1108.9,130.6 L1111.1,130.8 L1113.3,130.7 L1115.6,131.1 L1117.8,130.7 L1120.0,130.5 L1122.2,130.5 L1124.5,130.9 L1126.7,130.4 L1128.9,130.9 L1131.1,130.1 L1133.3,130.3 L1135.6,130.3 L1137.8,130.1 L1140.0,130.2 L1142.2,130.3 L1144.4,130.0 L1146.7,129.8 L1148.9,130.3 L1151.1,130.3 L1153.3,129.8 L1155.6,130.0 L1157.8,129.4 L1160.0,130.0 L1162.2,129.5 L1164.4,129.6 L1166.7,130.1 L1168.9,129.4 L1171.1,129.6 L1173.3,129.4 L1175.6,129.2 L1177.8,129.3 L1180.0,129.6 L1182.2,129.2 L1184.4,129.3 L1186.7,129.5 L1188.9,129.3 L1191.1,129.1 L1193.3,129.6 L1195.6,129.3 L1197.8,129.5 L1200.0,129.0 L1202.2,129.4 L1204.4,128.7 L1206.6,128.4 L1208.9,128.5 L1211.1,128.4 L1213.3,128.4 L1215.5,128.1 L1217.8,128.2 L1220.0,128.2 L1222.2,127.6 L1224.4,127.4 L1226.7,127.4 L1228.9,127.5 L1231.1,127.3 L1233.3,127.0 L1235.5,126.7 L1237.8,126.7 L1240.0,126.8 L1242.3,126.3 L1244.6,126.4 L1246.9,126.0 L1249.1,125.8 L1251.4,125.4 L1253.7,125.6 L1256.0,125.1 L1258.5,124.5 L1261.0,124.6 L1263.5,124.0 L1266.0,124.0 L1268.5,123.5 L1271.0,123.0 L1273.3,122.8 L1275.6,122.4 L1277.8,122.0 L1280.1,121.8 L1282.5,121.6 L1284.7,121.2 L1287.0,120.8 L1289.7,120.3 L1292.4,120.1 L1295.0,119.7 L1298.1,117.8 L1300.0,116.4 L1302.2,115.5 L1303.8,113.6 L1306.0,112.6 L1308.4,112.1 L1310.8,111.7 L1313.1,110.6 L1315.5,110.1 L1318.0,109.8 L1320.7,109.5 L1323.4,109.0 L1326.0,108.0 L1328.3,108.2 L1330.5,108.3 L1332.8,108.0 L1335.0,107.7" fill="none" stroke="#f08028" stroke-width="5" stroke-linejoin="round" stroke-linecap="round"/>
<path d="M867.0,137.0 L869.2,137.3 L871.5,136.8 L873.7,136.6 L875.9,137.0 L878.1,137.1 L880.4,137.1 L882.6,137.1 L884.8,137.0 L887.0,136.9 L889.3,136.8 L891.5,136.9 L893.7,136.9 L895.9,137.2 L898.2,137.1 L900.4,136.7 L902.6,137.1 L904.8,137.0 L907.1,137.2 L909.3,137.2 L911.5,137.1 L913.8,136.6 L916.0,137.1 L918.2,136.6 L920.4,137.2 L922.7,136.8 L924.9,136.9 L927.1,137.3 L929.3,136.6 L931.6,136.9 L933.8,136.7 L936.0,136.8 L938.2,136.7 L940.5,137.0 L942.7,136.8 L944.9,137.0 L947.2,137.0 L949.4,136.5 L951.6,137.2 L953.8,136.8 L956.1,136.5 L958.3,136.7 L960.5,137.0 L962.7,137.1 L965.0,136.7 L967.2,136.9 L969.4,136.9 L971.6,137.1 L973.9,136.8 L976.1,137.0 L978.3,136.7 L980.5,136.7 L982.8,137.0 L985.0,137.0 L987.3,136.0 L989.7,135.4 L992.0,134.6 L994.7,134.5 L997.3,134.4 L1000.0,134.1 L1002.2,134.2 L1004.4,134.0 L1006.6,133.9 L1008.8,133.6 L1011.0,134.2 L1013.2,134.1 L1015.4,134.2 L1017.7,133.7 L1019.9,134.0 L1022.1,134.0 L1024.3,133.8 L1026.5,134.3 L1028.7,134.4 L1030.9,133.9 L1033.1,134.3 L1035.3,134.5 L1037.5,134.0 L1039.7,134.4 L1041.9,134.5 L1044.1,134.6 L1046.4,134.0 L1048.6,134.0 L1050.8,134.3 L1053.0,134.5 L1055.2,134.0 L1057.4,134.2 L1059.6,134.1 L1061.8,134.5 L1064.0,134.2 L1066.2,134.4 L1068.4,134.4 L1070.6,134.5 L1072.9,134.3 L1075.1,134.3 L1077.3,134.5 L1079.5,134.3 L1081.7,133.9 L1083.9,134.1 L1086.1,134.4 L1088.3,134.2 L1090.5,134.1 L1092.8,134.2 L1095.0,134.8 L1097.2,134.1 L1099.4,134.2 L1101.6,134.2 L1103.8,134.0 L1106.0,134.3 L1108.2,134.2 L1110.4,134.1 L1112.6,133.7 L1114.9,134.3 L1117.1,134.1 L1119.3,134.0 L1121.5,133.4 L1123.7,133.9 L1125.9,133.7 L1128.1,133.9 L1130.3,133.8 L1132.5,133.7 L1134.8,134.1 L1137.0,133.9 L1139.2,134.1 L1141.4,133.6 L1143.6,133.8 L1145.8,134.1 L1148.0,134.0 L1150.2,133.8 L1152.5,133.8 L1154.7,133.9 L1156.9,134.0 L1159.1,134.2 L1161.3,134.1 L1163.5,134.3 L1165.8,134.3 L1168.0,134.2 L1170.2,134.5 L1172.4,134.4 L1174.6,134.2 L1176.8,134.3 L1179.1,134.3 L1181.3,134.2 L1183.5,134.1 L1185.7,134.4 L1187.9,134.4 L1190.1,134.6 L1192.4,134.4 L1194.6,134.6 L1196.8,134.6 L1199.0,134.5 L1201.2,134.7 L1203.5,134.5 L1205.7,134.6 L1207.9,134.9 L1210.1,134.9 L1212.4,134.8 L1214.6,134.7 L1216.8,135.0 L1219.0,135.3 L1221.3,134.5 L1223.5,135.2 L1225.7,135.0 L1228.0,135.3 L1230.2,135.3 L1232.4,134.9 L1234.6,135.5 L1236.9,135.0 L1239.1,135.1 L1241.3,135.4 L1243.5,135.2 L1245.8,135.3 L1248.0,135.2 L1250.2,135.1 L1252.5,135.4 L1254.7,135.2 L1256.9,135.7 L1259.2,135.5 L1261.4,135.8 L1263.7,135.3 L1265.9,135.2 L1268.1,135.2 L1270.4,135.6 L1272.6,135.4 L1274.8,135.8 L1277.1,135.5 L1279.3,135.5 L1281.5,135.9 L1283.8,135.8 L1286.0,136.1 L1288.4,135.7 L1290.7,135.2 L1292.9,134.5 L1295.3,134.1 L1297.7,134.4 L1299.9,133.5 L1302.3,133.2 L1304.6,132.7 L1307.0,131.7 L1309.3,130.6 L1311.6,129.5 L1314.0,128.4 L1316.0,127.3 L1318.3,127.1 L1320.3,125.9 L1322.0,124.4 L1324.1,123.5 L1326.0,122.2 L1327.7,120.6 L1329.6,119.5 L1331.5,118.2 L1332.9,116.4 L1334.5,114.7 L1336.2,113.2" fill="none" stroke="#00ffff" stroke-width="5" stroke-linejoin="round" stroke-linecap="round"/>
<path d="M867.0,137.6 L869.2,137.5 L871.5,136.4 L873.7,136.2 L876.0,137.1 L878.2,137.5 L880.5,137.1 L882.7,136.5 L884.9,137.0 L887.2,137.9 L889.4,136.6 L891.7,137.8 L893.9,137.6 L896.2,137.6 L898.4,137.7 L900.7,137.2 L902.9,137.4 L905.1,138.3 L907.4,137.3 L909.6,137.3 L911.9,136.9 L914.1,137.4 L916.3,137.9 L918.6,138.2 L920.8,137.9 L923.1,138.0 L925.3,138.0 L927.6,137.9 L929.8,138.2 L932.1,137.7 L934.3,138.3 L936.5,137.8 L938.8,137.1 L941.0,137.3 L943.3,137.8 L945.5,137.7 L947.8,137.4 L950.0,137.7 L952.3,138.1 L954.6,138.3 L956.9,138.5 L959.2,137.8 L961.5,138.4 L963.8,138.7 L966.2,138.4 L968.4,139.1 L970.8,138.1 L973.1,138.4 L975.4,138.5 L977.7,138.3 L980.0,138.5 L982.7,138.3 L985.3,137.8 L988.0,137.3 L990.3,136.6 L992.7,136.1 L994.9,134.8 L997.5,135.2 L1000.0,134.3 L1002.2,134.7 L1004.5,134.4 L1006.7,134.9 L1008.9,134.8 L1011.2,134.8 L1013.4,134.7 L1015.6,135.1 L1017.8,135.8 L1020.1,134.3 L1022.3,135.3 L1024.5,135.2 L1026.8,135.0 L1029.0,134.6 L1031.3,136.0 L1033.7,135.4 L1036.0,135.8 L1038.4,135.2 L1040.7,135.0 L1043.0,135.9 L1045.4,135.8 L1047.7,135.4 L1050.1,135.4 L1052.4,135.8 L1054.8,135.2 L1057.1,135.3 L1059.5,135.6 L1061.8,136.2 L1064.1,136.2 L1066.5,136.0 L1068.8,136.6 L1071.1,136.1 L1073.5,136.0 L1075.8,137.4 L1078.2,136.2 L1080.5,136.8 L1082.8,136.9 L1085.2,136.8 L1087.5,137.0 L1089.8,137.3 L1092.2,137.3 L1094.5,136.9 L1096.8,137.4 L1099.1,138.2 L1101.5,138.0 L1103.9,137.7 L1106.2,138.1 L1108.5,137.8 L1110.9,137.8 L1113.2,138.3 L1115.5,139.5 L1117.9,138.6 L1120.3,138.2 L1122.5,139.2 L1124.9,139.1 L1127.2,139.9 L1129.5,140.4 L1131.9,139.9 L1134.2,140.3 L1136.6,140.1 L1138.9,141.3 L1141.3,140.7 L1143.6,141.2 L1145.8,142.5 L1148.3,141.2 L1150.6,142.0 L1153.0,142.1 L1155.3,142.6 L1157.6,142.8 L1159.9,143.5 L1162.3,143.2 L1164.5,143.5 L1166.9,142.9 L1169.1,143.9 L1171.4,143.3 L1173.6,144.7 L1175.9,144.3 L1178.1,145.0 L1180.5,144.5 L1182.7,145.1 L1185.0,145.2 L1187.3,145.7 L1189.7,145.7 L1192.1,145.8 L1194.5,146.2 L1196.9,146.3 L1199.3,146.5 L1201.6,147.2 L1203.9,147.9 L1205.6,150.1 L1208.2,149.8 L1210.5,150.5 L1212.4,152.2 L1214.7,152.7 L1217.0,153.4 L1219.1,154.6 L1221.2,155.6 L1223.8,155.2 L1225.7,156.9 L1228.0,157.3 L1230.1,158.2 L1232.6,158.2 L1234.5,159.9 L1236.8,160.4 L1239.5,159.5 L1241.2,161.9 L1243.4,162.6 L1246.0,162.2 L1247.9,163.6 L1250.2,164.3 L1252.2,165.3 L1254.5,165.6 L1256.4,167.1 L1258.5,168.0 L1260.8,168.5 L1262.9,169.3 L1265.3,169.5 L1267.1,171.2 L1269.5,171.3 L1271.5,172.7 L1273.7,173.2 L1275.3,175.4 L1277.9,175.2 L1279.7,176.6 L1282.1,176.8 L1284.1,177.7 L1286.1,178.8 L1288.3,179.4 L1289.9,181.2 L1292.4,181.0 L1294.2,182.6 L1296.7,182.2 L1298.8,183.2 L1300.6,184.7 L1303.0,184.7 L1304.5,186.9 L1306.8,187.1 L1308.9,187.8 L1310.7,189.3 L1313.3,189.3 L1315.6,190.1 L1318.1,190.2 L1320.2,191.3 L1322.1,192.9 L1324.6,193.1 L1326.3,195.1 L1328.1,196.5 L1330.2,197.7 L1332.6,198.2 L1334.3,199.8 L1336.4,201.0" fill="none" stroke="#008000" stroke-width="5" stroke-linejoin="round" stroke-linecap="round"/>
<path d="M867.0,136.5 L869.2,136.5 L871.5,136.5 L873.7,136.4 L876.0,136.5 L878.2,136.5 L880.4,136.7 L882.7,136.4 L884.9,136.9 L887.2,136.1 L889.4,136.5 L891.6,136.6 L893.9,136.5 L896.1,136.4 L898.3,136.5 L900.6,136.6 L902.8,136.7 L905.1,136.3 L907.3,136.5 L909.5,136.4 L911.8,136.6 L914.0,136.4 L916.3,136.5 L918.5,136.7 L920.7,136.5 L923.0,136.5 L925.2,136.4 L927.5,136.4 L929.7,136.2 L931.9,136.4 L934.2,136.4 L936.4,136.4 L938.7,136.8 L940.9,136.2 L943.1,136.2 L945.4,136.5 L947.6,136.6 L949.8,136.5 L952.1,136.7 L954.3,136.8 L956.6,136.4 L958.8,136.3 L961.0,136.5 L963.3,136.7 L965.5,136.5 L967.8,136.5 L970.0,136.5 L972.7,136.4 L975.3,136.0 L978.0,136.3 L981.0,135.2 L984.0,134.5 L986.5,133.6 L989.0,132.9 L991.2,132.9 L993.4,132.7 L995.6,132.7 L997.8,132.7 L1000.0,132.6 L1002.2,132.3 L1004.4,132.5 L1006.6,132.2 L1008.8,132.2 L1011.0,132.2 L1013.2,132.3 L1015.4,131.9 L1017.7,131.9 L1019.9,131.9 L1022.1,131.7 L1024.3,131.8 L1026.5,131.9 L1028.7,131.3 L1030.9,131.5 L1033.1,131.4 L1035.3,131.7 L1037.5,131.4 L1039.7,131.4 L1041.9,131.2 L1044.1,131.0 L1046.4,131.1 L1048.6,131.0 L1050.8,130.9 L1053.0,131.1 L1055.2,130.9 L1057.4,130.6 L1059.6,130.6 L1061.8,130.6 L1064.0,130.4 L1066.2,130.5 L1068.4,130.4 L1070.6,130.4 L1072.9,130.4 L1075.1,130.2 L1077.3,130.5 L1079.5,130.2 L1081.7,130.3 L1083.9,130.0 L1086.1,130.0 L1088.3,130.0 L1090.5,130.0 L1092.8,130.1 L1095.0,129.7 L1097.2,130.1 L1099.4,129.7 L1101.6,130.0 L1103.8,129.8 L1106.0,129.7 L1108.2,129.8 L1110.4,129.6 L1112.6,129.6 L1114.9,129.6 L1117.1,129.9 L1119.3,129.3 L1121.5,129.7 L1123.7,129.3 L1125.9,129.2 L1128.1,129.2 L1130.3,129.4 L1132.5,129.2 L1134.8,129.1 L1137.0,129.2 L1139.2,129.1 L1141.4,129.2 L1143.6,128.8 L1145.8,129.1 L1148.0,129.0 L1150.2,128.7 L1152.5,128.7 L1154.7,128.7 L1156.9,128.5 L1159.1,128.6 L1161.3,128.5 L1163.5,128.4 L1165.8,128.1 L1168.0,128.0 L1170.2,128.2 L1172.4,127.9 L1174.6,128.2 L1176.8,128.2 L1179.1,127.9 L1181.3,128.0 L1183.5,127.9 L1185.7,127.8 L1187.9,127.5 L1190.1,127.4 L1192.3,127.4 L1194.6,127.4 L1196.8,127.2 L1199.0,127.3 L1201.3,127.2 L1203.6,126.8 L1205.9,126.6 L1208.2,126.2 L1210.5,126.1 L1212.8,126.0 L1215.1,125.9 L1217.4,125.5 L1219.7,125.1 L1222.0,125.3 L1224.2,124.5 L1226.5,124.6 L1228.7,124.3 L1231.0,124.2 L1233.3,124.1 L1235.5,123.8 L1237.8,124.2 L1240.0,123.8 L1242.2,123.3 L1244.4,122.9 L1246.7,122.4 L1248.9,122.5 L1251.2,122.2 L1253.4,121.8 L1255.6,121.7 L1257.8,121.1 L1260.0,120.4 L1262.2,119.9 L1264.5,119.7 L1266.7,119.3 L1269.0,118.9 L1271.2,118.4 L1273.4,118.0 L1275.6,117.5 L1277.9,117.3 L1280.1,117.0 L1282.3,116.4 L1284.5,115.9 L1286.8,115.6 L1289.0,115.4 L1291.3,115.4 L1293.5,115.0 L1295.8,115.1 L1298.0,114.7 L1300.3,114.7 L1302.5,114.8 L1304.7,114.2 L1307.0,114.3 L1309.2,114.5 L1311.4,114.2 L1313.6,113.9 L1315.9,113.9 L1318.1,113.6 L1320.3,113.4 L1322.6,113.2 L1324.8,113.4 L1327.0,113.4 L1329.3,113.6 L1331.5,113.4 L1333.8,113.1 L1336.0,113.4" fill="none" stroke="#7000d8" stroke-width="5" stroke-linejoin="round" stroke-linecap="round"/>
<line x1="1212.3" y1="101.8" x2="1228.0" y2="115.2" stroke="#7000d8" stroke-width="2.2"/><polygon points="1236.3,122.4 1224.3,118.0 1230.1,111.2" fill="#7000d8"/>
<line x1="1294.8" y1="94.2" x2="1312.5" y2="103.3" stroke="#ff8000" stroke-width="2.2"/><polygon points="1322.3,108.3 1309.6,106.8 1313.7,98.8" fill="#ff8000"/>
<line x1="1305.1" y1="152.5" x2="1305.1" y2="145.3" stroke="#00ffff" stroke-width="2.2"/><polygon points="1305.1,134.3 1309.6,146.3 1300.6,146.3" fill="#00ffff"/>
<line x1="1307.2" y1="222.3" x2="1309.3" y2="202.1" stroke="#008000" stroke-width="2.2"/><polygon points="1310.4,191.2 1313.6,203.6 1304.7,202.7" fill="#008000"/>
<line x1="1241.3" y1="319.3" x2="1253.2" y2="293.6" stroke="#ff0000" stroke-width="2.2"/><polygon points="1257.8,283.6 1256.9,296.4 1248.7,292.6" fill="#ff0000"/>
<line x1="1277.7" y1="375.1" x2="1307.1" y2="327.2" stroke="#0000ff" stroke-width="2.2"/><polygon points="1312.8,317.8 1310.4,330.4 1302.7,325.7" fill="#0000ff"/>
<rect x="918.5" y="228.1" width="282.0" height="225.7" fill="#fff" stroke="#000" stroke-width="2"/>
<clipPath id="ci"><rect x="918.5" y="228.1" width="282.0" height="225.7"/></clipPath>
<g clip-path="url(#ci)">
<path d="M918.5,248.8 L921.1,248.2 L923.6,247.9 L926.2,248.2 L928.7,248.0 L931.3,247.3 L933.8,247.7 L936.4,248.3 L939.0,248.3 L941.5,248.0 L944.1,247.4 L946.6,247.3 L949.2,248.3 L951.8,249.0 L954.3,249.1 L956.9,248.9 L959.4,248.3 L962.0,248.1 L964.5,248.4 L967.1,248.5 L969.7,248.4 L972.2,248.1 L974.8,247.8 L977.3,247.7 L979.9,247.8 L982.4,248.4 L985.1,248.8 L987.8,247.6 L990.1,246.2 L992.5,245.9 L995.0,245.5 L997.5,245.5 L1000.0,245.8 L1002.5,245.8 L1005.0,245.4 L1007.5,245.1 L1010.0,244.8 L1012.5,244.8 L1015.0,245.2 L1017.5,245.3 L1020.0,245.2 L1022.5,244.8 L1025.0,244.4 L1027.5,244.1 L1030.0,244.3 L1032.5,244.7 L1035.0,244.8 L1037.5,244.6 L1040.0,244.3 L1042.5,244.2 L1045.0,244.2 L1047.5,244.1 L1050.0,243.9 L1052.5,243.9 L1055.0,244.1 L1057.5,244.0 L1060.0,243.6 L1062.5,243.7 L1065.0,243.9 L1067.5,244.0 L1070.0,243.9 L1072.5,243.5 L1075.0,243.9 L1077.5,244.4 L1080.0,244.3 L1082.5,244.0 L1085.0,243.5 L1087.5,243.4 L1090.0,243.4 L1092.5,243.6 L1095.0,243.8 L1097.5,243.8 L1100.0,243.4 L1102.5,243.2 L1105.0,243.5 L1107.5,243.6 L1110.0,243.2 L1112.5,242.9 L1115.0,243.2 L1117.6,243.1 L1120.0,242.4 L1122.5,241.7 L1124.9,241.2 L1127.5,241.1 L1130.0,241.4 L1132.6,241.1 L1135.1,240.6 L1137.6,240.4 L1140.2,240.4 L1142.7,240.2 L1145.2,239.7 L1147.7,239.0 L1150.2,238.5 L1152.7,238.2 L1155.3,238.0 L1158.1,238.2 L1160.8,238.7 L1163.5,238.6 L1166.1,237.9 L1168.7,236.9 L1171.3,236.5 L1174.0,236.3 L1176.6,235.6 L1179.2,235.1 L1181.9,235.5 L1184.7,235.3 L1187.4,234.3 L1190.1,233.9 L1192.8,234.1 L1195.6,234.6 L1198.3,234.6 L1201.0,234.2" fill="none" stroke="#7f00ff" stroke-opacity="0.5" stroke-width="5" stroke-linejoin="round" stroke-linecap="round"/>
<path d="M918.5,249.8 L921.1,249.5 L923.6,249.3 L926.2,249.3 L928.7,248.9 L931.3,248.2 L933.8,248.4 L936.4,248.8 L939.0,248.2 L941.5,247.6 L944.1,247.8 L946.6,248.1 L949.2,248.4 L951.7,248.8 L954.3,248.6 L956.9,248.2 L959.4,248.1 L962.0,248.5 L964.5,248.7 L967.1,248.8 L969.7,249.2 L972.2,249.2 L974.8,248.5 L977.3,248.5 L979.9,249.1 L982.4,248.9 L984.9,248.5 L987.4,247.8 L990.1,247.5 L992.5,247.6 L995.0,247.2 L997.5,247.2 L1000.0,247.2 L1002.5,247.2 L1005.0,247.3 L1007.5,247.2 L1010.0,247.1 L1012.5,247.0 L1015.0,246.8 L1017.5,247.2 L1020.0,247.7 L1022.5,247.7 L1025.0,247.4 L1027.5,247.6 L1030.0,248.1 L1032.5,247.9 L1035.0,247.5 L1037.5,247.5 L1040.0,247.5 L1042.5,247.8 L1045.0,248.0 L1047.5,247.8 L1050.0,248.5 L1052.4,249.3 L1055.0,249.0 L1057.5,248.8 L1060.0,249.3 L1062.5,249.5 L1065.0,249.5 L1067.5,249.7 L1070.0,249.7 L1072.5,249.9 L1075.0,250.1 L1077.5,250.3 L1080.0,250.9 L1082.5,251.1 L1085.0,250.9 L1087.5,250.9 L1090.0,251.5 L1092.4,252.4 L1095.0,252.1 L1097.6,251.4 L1100.0,251.9 L1102.5,252.6 L1105.0,252.5 L1107.6,252.4 L1110.1,252.9 L1112.7,253.8 L1115.4,254.5 L1118.1,255.0 L1120.7,256.0 L1123.0,257.3 L1125.3,258.1 L1127.9,258.4 L1130.3,258.9 L1132.7,259.8 L1135.0,260.8 L1137.5,261.2 L1140.0,261.6 L1142.3,262.6 L1144.7,263.6 L1147.1,264.4 L1149.4,265.5 L1151.7,266.8 L1153.9,267.9 L1156.4,268.5 L1159.0,269.0 L1161.4,269.7 L1163.8,270.6 L1166.1,271.7 L1168.4,272.7 L1170.7,273.7 L1173.0,275.0 L1175.3,276.1 L1177.7,276.7 L1180.2,277.3 L1182.7,277.8 L1185.2,278.4 L1187.8,279.6 L1190.5,280.7 L1193.1,281.9 L1195.7,283.0 L1198.4,283.9 L1201.0,285.4" fill="none" stroke="#008000" stroke-opacity="0.5" stroke-width="5" stroke-linejoin="round" stroke-linecap="round"/>
<path d="M918.5,248.6 L921.1,248.7 L923.8,249.0 L926.4,249.7 L929.0,250.1 L931.6,249.8 L934.3,249.5 L936.9,249.4 L939.5,249.8 L942.1,250.2 L944.7,251.0 L947.4,251.3 L950.0,250.5 L952.6,250.1 L955.2,250.2 L957.9,250.2 L960.5,250.4 L963.1,250.8 L965.7,250.9 L968.3,250.8 L970.9,250.5 L973.5,250.6 L976.2,251.1 L978.8,251.5 L981.4,251.5 L984.0,251.3 L987.0,249.7 L990.0,248.0 L992.5,247.7 L995.0,247.4 L997.5,247.4 L1000.0,247.6 L1002.5,247.7 L1005.1,247.4 L1007.6,247.7 L1010.0,248.5 L1012.5,249.1 L1015.0,249.5 L1017.5,249.7 L1020.0,249.7 L1022.5,249.9 L1025.0,250.1 L1027.5,249.9 L1030.1,250.2 L1032.5,251.3 L1035.0,252.0 L1037.5,252.3 L1040.0,253.1 L1042.4,253.8 L1044.9,254.7 L1047.3,255.6 L1049.8,256.1 L1052.4,256.5 L1054.9,256.8 L1057.6,256.9 L1060.2,257.1 L1062.6,258.0 L1065.0,259.3 L1067.5,260.3 L1070.0,260.9 L1072.5,261.9 L1074.9,262.7 L1077.5,263.5 L1080.1,264.3 L1082.6,265.6 L1084.9,267.0 L1087.3,268.4 L1089.8,269.4 L1092.1,270.4 L1094.4,271.5 L1096.7,272.5 L1099.0,273.6 L1101.2,274.9 L1103.5,276.0 L1106.0,276.4 L1108.6,277.5 L1110.8,279.2 L1113.2,280.7 L1115.8,281.6 L1117.0,284.3 L1117.5,287.4 L1118.6,290.4 L1120.9,292.2 L1122.7,294.3 L1124.4,296.5 L1126.4,298.8 L1128.4,301.2 L1130.3,303.7 L1132.4,306.0 L1134.4,307.8 L1135.9,310.0 L1137.3,312.2 L1139.1,314.2 L1141.1,316.0 L1143.0,317.8 L1144.4,320.1 L1145.6,322.5 L1147.1,324.7 L1148.8,326.7 L1150.0,329.1 L1151.5,331.2 L1153.3,333.2 L1154.7,335.5 L1155.9,337.8 L1157.6,339.9 L1158.9,342.3 L1160.2,344.5 L1162.1,346.5 L1163.6,348.7 L1164.9,351.0 L1166.4,353.1 L1167.8,355.3 L1169.4,357.5 L1170.9,359.7 L1171.8,362.2 L1173.5,364.5 L1175.5,366.3 L1177.7,367.9 L1179.9,370.7 L1182.0,373.6 L1184.4,376.3 L1185.5,378.8 L1186.4,381.2 L1187.4,383.6 L1188.5,386.0 L1188.9,388.5 L1189.4,391.0 L1190.3,393.4 L1191.4,395.7 L1192.7,398.0 L1193.8,400.4 L1194.4,403.0 L1195.0,405.6 L1195.7,408.1 L1196.5,410.7 L1197.2,413.4 L1198.0,416.0 L1198.9,418.7 L1200.1,421.3 L1201.6,423.8" fill="none" stroke="#ff0000" stroke-opacity="0.5" stroke-width="5" stroke-linejoin="round" stroke-linecap="round"/>
<path d="M918.5,248.4 L985.0,248.6 L990.0,246.5 L1040.0,244.5 L1100.0,243.6 L1130.0,241.5 L1152.8,239.3 L1179.2,235.3 L1201.0,234.3" fill="none" stroke="#000" stroke-width="3.2" stroke-dasharray="0 7.4" stroke-linecap="round"/>
<path d="M918.5,248.4 L985.0,248.6 L990.0,246.8 L1040.0,248.2 L1090.0,250.4 L1110.0,253.6 L1125.0,257.7 L1142.2,263.3 L1163.6,271.3 L1185.1,278.8 L1201.0,285.3" fill="none" stroke="#000" stroke-width="3.2" stroke-dasharray="0 7.4" stroke-linecap="round"/>
<path d="M918.5,249.6 L945.0,252.5 L984.0,255.3 L990.0,252.5 L997.0,251.6 L1034.0,252.5 L1050.0,254.1 L1060.0,257.1 L1075.0,262.5 L1090.0,267.8 L1105.0,274.4 L1110.0,280.3 L1113.0,286.5 L1118.0,292.8 L1125.0,298.1 L1132.4,306.0 L1145.6,322.5 L1158.8,342.3 L1172.0,362.1 L1181.9,373.7 L1188.4,385.5 L1195.1,408.3 L1201.0,424.5" fill="none" stroke="#000" stroke-width="3.2" stroke-dasharray="0 7.4" stroke-linecap="round"/>
</g>
<line x1="918.5" y1="453.8" x2="918.5" y2="448.8" stroke="#000" stroke-width="1.6" />
<line x1="918.5" y1="228.1" x2="918.5" y2="233.1" stroke="#000" stroke-width="1.6" />
<line x1="949.8" y1="453.8" x2="949.8" y2="451.0" stroke="#000" stroke-width="1.6" />
<line x1="949.8" y1="228.1" x2="949.8" y2="230.9" stroke="#000" stroke-width="1.6" />
<line x1="981.2" y1="453.8" x2="981.2" y2="451.0" stroke="#000" stroke-width="1.6" />
<line x1="981.2" y1="228.1" x2="981.2" y2="230.9" stroke="#000" stroke-width="1.6" />
<line x1="1012.5" y1="453.8" x2="1012.5" y2="448.8" stroke="#000" stroke-width="1.6" />
<line x1="1012.5" y1="228.1" x2="1012.5" y2="233.1" stroke="#000" stroke-width="1.6" />
<line x1="1043.8" y1="453.8" x2="1043.8" y2="451.0" stroke="#000" stroke-width="1.6" />
<line x1="1043.8" y1="228.1" x2="1043.8" y2="230.9" stroke="#000" stroke-width="1.6" />
<line x1="1075.2" y1="453.8" x2="1075.2" y2="451.0" stroke="#000" stroke-width="1.6" />
<line x1="1075.2" y1="228.1" x2="1075.2" y2="230.9" stroke="#000" stroke-width="1.6" />
<line x1="1106.5" y1="453.8" x2="1106.5" y2="448.8" stroke="#000" stroke-width="1.6" />
<line x1="1106.5" y1="228.1" x2="1106.5" y2="233.1" stroke="#000" stroke-width="1.6" />
<line x1="1137.8" y1="453.8" x2="1137.8" y2="451.0" stroke="#000" stroke-width="1.6" />
<line x1="1137.8" y1="228.1" x2="1137.8" y2="230.9" stroke="#000" stroke-width="1.6" />
<line x1="1169.1" y1="453.8" x2="1169.1" y2="451.0" stroke="#000" stroke-width="1.6" />
<line x1="1169.1" y1="228.1" x2="1169.1" y2="230.9" stroke="#000" stroke-width="1.6" />
<line x1="1200.5" y1="453.8" x2="1200.5" y2="448.8" stroke="#000" stroke-width="1.6" />
<line x1="1200.5" y1="228.1" x2="1200.5" y2="233.1" stroke="#000" stroke-width="1.6" />
<line x1="918.5" y1="248.9" x2="923.5" y2="248.9" stroke="#000" stroke-width="1.6" />
<line x1="1200.5" y1="248.9" x2="1195.5" y2="248.9" stroke="#000" stroke-width="1.6" />
<line x1="918.5" y1="279.7" x2="921.5" y2="279.7" stroke="#000" stroke-width="1.6" />
<line x1="1200.5" y1="279.7" x2="1197.5" y2="279.7" stroke="#000" stroke-width="1.6" />
<line x1="918.5" y1="310.5" x2="923.5" y2="310.5" stroke="#000" stroke-width="1.6" />
<line x1="1200.5" y1="310.5" x2="1195.5" y2="310.5" stroke="#000" stroke-width="1.6" />
<line x1="918.5" y1="341.3" x2="921.5" y2="341.3" stroke="#000" stroke-width="1.6" />
<line x1="1200.5" y1="341.3" x2="1197.5" y2="341.3" stroke="#000" stroke-width="1.6" />
<line x1="918.5" y1="372.1" x2="923.5" y2="372.1" stroke="#000" stroke-width="1.6" />
<line x1="1200.5" y1="372.1" x2="1195.5" y2="372.1" stroke="#000" stroke-width="1.6" />
<line x1="918.5" y1="402.9" x2="921.5" y2="402.9" stroke="#000" stroke-width="1.6" />
<line x1="1200.5" y1="402.9" x2="1197.5" y2="402.9" stroke="#000" stroke-width="1.6" />
<line x1="918.5" y1="433.7" x2="923.5" y2="433.7" stroke="#000" stroke-width="1.6" />
<line x1="1200.5" y1="433.7" x2="1195.5" y2="433.7" stroke="#000" stroke-width="1.6" />
<line x1="934.6" y1="424.1" x2="972.6" y2="424.1" stroke="#000" stroke-width="2.2" stroke-dasharray="2.8 2"/>
<rect x="867.1" y="66.8" width="469.4" height="422.7" fill="none" stroke="#000" stroke-width="2.2"/>
<line x1="856.6" y1="66.7" x2="867.1" y2="66.7" stroke="#000" stroke-width="2.2" />
<line x1="1326.5" y1="66.7" x2="1336.5" y2="66.7" stroke="#000" stroke-width="2.2" />
<line x1="861.1" y1="102.0" x2="867.1" y2="102.0" stroke="#000" stroke-width="2.2" />
<line x1="1331.0" y1="102.0" x2="1336.5" y2="102.0" stroke="#000" stroke-width="2.2" />
<line x1="856.6" y1="137.2" x2="867.1" y2="137.2" stroke="#000" stroke-width="2.2" />
<line x1="1326.5" y1="137.2" x2="1336.5" y2="137.2" stroke="#000" stroke-width="2.2" />
<line x1="861.1" y1="172.4" x2="867.1" y2="172.4" stroke="#000" stroke-width="2.2" />
<line x1="1331.0" y1="172.4" x2="1336.5" y2="172.4" stroke="#000" stroke-width="2.2" />
<line x1="856.6" y1="207.6" x2="867.1" y2="207.6" stroke="#000" stroke-width="2.2" />
<line x1="1326.5" y1="207.6" x2="1336.5" y2="207.6" stroke="#000" stroke-width="2.2" />
<line x1="861.1" y1="242.9" x2="867.1" y2="242.9" stroke="#000" stroke-width="2.2" />
<line x1="1331.0" y1="242.9" x2="1336.5" y2="242.9" stroke="#000" stroke-width="2.2" />
<line x1="856.6" y1="278.1" x2="867.1" y2="278.1" stroke="#000" stroke-width="2.2" />
<line x1="1326.5" y1="278.1" x2="1336.5" y2="278.1" stroke="#000" stroke-width="2.2" />
<line x1="861.1" y1="313.3" x2="867.1" y2="313.3" stroke="#000" stroke-width="2.2" />
<line x1="1331.0" y1="313.3" x2="1336.5" y2="313.3" stroke="#000" stroke-width="2.2" />
<line x1="856.6" y1="348.6" x2="867.1" y2="348.6" stroke="#000" stroke-width="2.2" />
<line x1="1326.5" y1="348.6" x2="1336.5" y2="348.6" stroke="#000" stroke-width="2.2" />
<line x1="861.1" y1="383.8" x2="867.1" y2="383.8" stroke="#000" stroke-width="2.2" />
<line x1="1331.0" y1="383.8" x2="1336.5" y2="383.8" stroke="#000" stroke-width="2.2" />
<line x1="856.6" y1="419.0" x2="867.1" y2="419.0" stroke="#000" stroke-width="2.2" />
<line x1="1326.5" y1="419.0" x2="1336.5" y2="419.0" stroke="#000" stroke-width="2.2" />
<line x1="861.1" y1="454.2" x2="867.1" y2="454.2" stroke="#000" stroke-width="2.2" />
<line x1="1331.0" y1="454.2" x2="1336.5" y2="454.2" stroke="#000" stroke-width="2.2" />
<line x1="856.6" y1="489.4" x2="867.1" y2="489.4" stroke="#000" stroke-width="2.2" />
<line x1="1326.5" y1="489.4" x2="1336.5" y2="489.4" stroke="#000" stroke-width="2.2" />
<line x1="867.1" y1="489.4" x2="867.1" y2="499.9" stroke="#000" stroke-width="2.2" />
<line x1="867.1" y1="66.8" x2="867.1" y2="76.8" stroke="#000" stroke-width="2.2" />
<line x1="893.2" y1="489.4" x2="893.2" y2="494.9" stroke="#000" stroke-width="2.2" />
<line x1="893.2" y1="66.8" x2="893.2" y2="71.8" stroke="#000" stroke-width="2.2" />
<line x1="919.3" y1="489.4" x2="919.3" y2="499.9" stroke="#000" stroke-width="2.2" />
<line x1="919.3" y1="66.8" x2="919.3" y2="76.8" stroke="#000" stroke-width="2.2" />
<line x1="945.3" y1="489.4" x2="945.3" y2="494.9" stroke="#000" stroke-width="2.2" />
<line x1="945.3" y1="66.8" x2="945.3" y2="71.8" stroke="#000" stroke-width="2.2" />
<line x1="971.4" y1="489.4" x2="971.4" y2="499.9" stroke="#000" stroke-width="2.2" />
<line x1="971.4" y1="66.8" x2="971.4" y2="76.8" stroke="#000" stroke-width="2.2" />
<line x1="997.5" y1="489.4" x2="997.5" y2="494.9" stroke="#000" stroke-width="2.2" />
<line x1="997.5" y1="66.8" x2="997.5" y2="71.8" stroke="#000" stroke-width="2.2" />
<line x1="1023.6" y1="489.4" x2="1023.6" y2="499.9" stroke="#000" stroke-width="2.2" />
<line x1="1023.6" y1="66.8" x2="1023.6" y2="76.8" stroke="#000" stroke-width="2.2" />
<line x1="1049.7" y1="489.4" x2="1049.7" y2="494.9" stroke="#000" stroke-width="2.2" />
<line x1="1049.7" y1="66.8" x2="1049.7" y2="71.8" stroke="#000" stroke-width="2.2" />
<line x1="1075.7" y1="489.4" x2="1075.7" y2="499.9" stroke="#000" stroke-width="2.2" />
<line x1="1075.7" y1="66.8" x2="1075.7" y2="76.8" stroke="#000" stroke-width="2.2" />
<line x1="1101.8" y1="489.4" x2="1101.8" y2="494.9" stroke="#000" stroke-width="2.2" />
<line x1="1101.8" y1="66.8" x2="1101.8" y2="71.8" stroke="#000" stroke-width="2.2" />
<line x1="1127.9" y1="489.4" x2="1127.9" y2="499.9" stroke="#000" stroke-width="2.2" />
<line x1="1127.9" y1="66.8" x2="1127.9" y2="76.8" stroke="#000" stroke-width="2.2" />
<line x1="1154.0" y1="489.4" x2="1154.0" y2="494.9" stroke="#000" stroke-width="2.2" />
<line x1="1154.0" y1="66.8" x2="1154.0" y2="71.8" stroke="#000" stroke-width="2.2" />
<line x1="1180.1" y1="489.4" x2="1180.1" y2="499.9" stroke="#000" stroke-width="2.2" />
<line x1="1180.1" y1="66.8" x2="1180.1" y2="76.8" stroke="#000" stroke-width="2.2" />
<line x1="1206.1" y1="489.4" x2="1206.1" y2="494.9" stroke="#000" stroke-width="2.2" />
<line x1="1206.1" y1="66.8" x2="1206.1" y2="71.8" stroke="#000" stroke-width="2.2" />
<line x1="1232.2" y1="489.4" x2="1232.2" y2="499.9" stroke="#000" stroke-width="2.2" />
<line x1="1232.2" y1="66.8" x2="1232.2" y2="76.8" stroke="#000" stroke-width="2.2" />
<line x1="1258.3" y1="489.4" x2="1258.3" y2="494.9" stroke="#000" stroke-width="2.2" />
<line x1="1258.3" y1="66.8" x2="1258.3" y2="71.8" stroke="#000" stroke-width="2.2" />
<line x1="1284.4" y1="489.4" x2="1284.4" y2="499.9" stroke="#000" stroke-width="2.2" />
<line x1="1284.4" y1="66.8" x2="1284.4" y2="76.8" stroke="#000" stroke-width="2.2" />
<line x1="1310.5" y1="489.4" x2="1310.5" y2="494.9" stroke="#000" stroke-width="2.2" />
<line x1="1310.5" y1="66.8" x2="1310.5" y2="71.8" stroke="#000" stroke-width="2.2" />
<line x1="1336.5" y1="489.4" x2="1336.5" y2="499.9" stroke="#000" stroke-width="2.2" />
<line x1="1336.5" y1="66.8" x2="1336.5" y2="76.8" stroke="#000" stroke-width="2.2" />
<text transform="translate(12.38,100.31) scale(0.941,0.983)" font-size="54" fill="#000" stroke="#000" stroke-width="0.36">a</text>
<text transform="translate(320.80,26.80) scale(1.034,1.038)" font-size="36" fill="#000" stroke="#000" stroke-width="0.34">MR</text>
<text transform="translate(387.91,26.99) scale(1.060,1.015)" font-size="36" fill="#000" stroke="#000" stroke-width="0.34">(%)</text>
<text transform="translate(64.35,66.64) scale(1.036,1.042)" font-size="34" fill="#000" stroke="#000" stroke-width="0.34">-30</text>
<text transform="translate(56.37,314.90) scale(0.974,1.054)" font-size="34" fill="#000" stroke="#000" stroke-width="0.35">4</text>
<text transform="translate(56.94,535.05) scale(1.011,1.008)" font-size="34" fill="#000" stroke="#000" stroke-width="0.35">0.16</text>
<text transform="translate(292.03,591.62) scale(1.012,0.901)" font-size="36" fill="#000" stroke="#000" stroke-width="0.37"><tspan font-style="italic">Q</tspan></text>
<text transform="translate(319.31,604.70) scale(1.055,1.006)" font-size="24" fill="#000" stroke="#000" stroke-width="0.34"><tspan font-style="italic">L</tspan></text>
<text transform="translate(342.16,595.16) scale(0.905,1.006)" font-size="36" fill="#000" stroke="#000" stroke-width="0.37">(</text>
<text transform="translate(354.30,595.10) scale(0.979,0.971)" font-size="36" fill="#000" stroke="#000" stroke-width="0.36">Å</text>
<text transform="translate(377.91,579.60) scale(0.888,1.006)" font-size="24" fill="#000" stroke="#000" stroke-width="0.37">-1</text>
<text transform="translate(402.19,595.16) scale(0.853,1.006)" font-size="36" fill="#000" stroke="#000" stroke-width="0.38">)</text>
<text transform="translate(28.25,305.43) rotate(-90) scale(1.165,0.908)" font-size="36" fill="#000" stroke="#000" stroke-width="0.34"><tspan font-style="italic">μ</tspan></text>
<text transform="translate(36.65,285.40) rotate(-90) scale(1.000,1.018)" font-size="24" fill="#000" stroke="#000" stroke-width="0.35">0</text>
<text transform="translate(27.10,270.68) rotate(-90) scale(1.026,1.046)" font-size="36" fill="#000" stroke="#000" stroke-width="0.34"><tspan font-style="italic">H</tspan></text>
<text transform="translate(27.12,235.34) rotate(-90) scale(1.039,1.024)" font-size="36" fill="#000" stroke="#000" stroke-width="0.34">(T)</text>
<text transform="translate(437.66,112.40) scale(1.044,1.060)" font-size="28" fill="#fff" stroke="#fff" stroke-width="0.00"><tspan font-style="italic">H</tspan></text>
<text transform="translate(466.33,112.14) scale(0.989,1.010)" font-size="28" fill="#fff" stroke="#fff" stroke-width="0.00">||</text>
<text transform="translate(488.82,111.96) scale(1.044,1.015)" font-size="28" fill="#fff" stroke="#fff" stroke-width="0.00"><tspan font-style="italic">ab</tspan>-plane</text>
<text transform="translate(562.44,166.70) scale(1.065,1.075)" font-size="28" fill="#fff" stroke="#fff" stroke-width="0.00"><tspan font-style="italic">H</tspan></text>
<text transform="translate(590.59,174.20) scale(1.106,1.057)" font-size="19" fill="#fff" stroke="#fff" stroke-width="0.00">2</text>
<text transform="translate(563.65,297.00) scale(1.055,1.096)" font-size="28" fill="#fff" stroke="#fff" stroke-width="0.00"><tspan font-style="italic">H</tspan></text>
<text transform="translate(591.72,301.45) scale(1.077,1.032)" font-size="36" fill="#fff" stroke="#fff" stroke-width="0.00">'</text>
<text transform="translate(563.04,377.00) scale(1.060,1.091)" font-size="28" fill="#fff" stroke="#fff" stroke-width="0.00"><tspan font-style="italic">H</tspan></text>
<text transform="translate(591.75,384.20) scale(0.764,1.085)" font-size="19" fill="#fff" stroke="#fff" stroke-width="0.00">1</text>
<text transform="translate(102.17,465.70) scale(0.957,1.010)" font-size="30" fill="#fff" stroke="#fff" stroke-width="0.00"><tspan font-style="italic">T</tspan></text>
<text transform="translate(126.53,465.70) scale(0.983,1.010)" font-size="30" fill="#fff" stroke="#fff" stroke-width="0.00">= 4 K</text>
<text transform="translate(620.05,106.24) scale(1.046,1.059)" font-size="30" fill="#000" stroke="#000" stroke-width="0.33">1x10</text>
<text transform="translate(686.81,93.10) scale(0.970,1.098)" font-size="20" fill="#000" stroke="#000" stroke-width="0.34">4</text>
<text transform="translate(661.12,164.40) scale(1.047,1.098)" font-size="30" fill="#000" stroke="#000" stroke-width="0.33">4</text>
<text transform="translate(659.24,417.70) scale(0.692,1.083)" font-size="30" fill="#000" stroke="#000" stroke-width="0.39">1</text>
<text transform="translate(660.51,329.80) scale(1.062,1.029)" font-size="30" fill="#000" stroke="#000" stroke-width="0.33">2</text>
<text transform="translate(659.53,244.94) scale(1.014,1.040)" font-size="30" fill="#000" stroke="#000" stroke-width="0.34">3</text>
<text transform="translate(657.18,498.33) scale(1.060,1.068)" font-size="30" fill="#000" stroke="#000" stroke-width="0.33">0</text>
<text transform="translate(715.32,433.53) rotate(-90) scale(1.030,0.997)" font-size="31" fill="#000" stroke="#000" stroke-width="0.35">Intensity (Arb. Units)</text>
<text transform="translate(791.35,106.60) scale(1.030,1.004)" font-size="52" fill="#000" stroke="#000" stroke-width="0.34">b</text>
<text transform="translate(829.98,147.87) scale(0.972,0.929)" font-size="34" fill="#000" stroke="#000" stroke-width="0.37">0</text>
<text transform="translate(832.16,76.00) scale(0.658,1.037)" font-size="34" fill="#000" stroke="#000" stroke-width="0.41">1</text>
<text transform="translate(1014.57,534.05) scale(0.985,1.017)" font-size="34" fill="#000" stroke="#000" stroke-width="0.35">3</text>
<text transform="translate(1045.35,591.40) scale(1.129,0.942)" font-size="36" fill="#000" stroke="#000" stroke-width="0.34"><tspan font-style="italic">μ</tspan></text>
<text transform="translate(1064.13,599.95) scale(0.974,1.018)" font-size="24" fill="#000" stroke="#000" stroke-width="0.35">0</text>
<text transform="translate(1077.83,590.00) scale(1.014,1.051)" font-size="36" fill="#000" stroke="#000" stroke-width="0.34"><tspan font-style="italic">H</tspan></text>
<text transform="translate(1112.38,590.39) scale(1.075,1.015)" font-size="36" fill="#000" stroke="#000" stroke-width="0.33">(T)</text>
<text transform="translate(796.06,406.71) rotate(-90) scale(1.205,0.975)" font-size="34" fill="#000" stroke="#000" stroke-width="0.32"><tspan font-style="italic">σ</tspan></text>
<text transform="translate(804.90,386.10) rotate(-90) scale(1.098,1.100)" font-size="23" fill="#000" stroke="#000" stroke-width="0.32"><tspan font-style="italic">zx</tspan></text>
<text transform="translate(795.28,351.71) rotate(-90) scale(0.956,1.089)" font-size="34" fill="#000" stroke="#000" stroke-width="0.34">(</text>
<text transform="translate(794.33,338.59) rotate(-90) scale(1.035,1.079)" font-size="34" fill="#000" stroke="#000" stroke-width="0.33">10</text>
<text transform="translate(779.93,299.47) rotate(-90) scale(0.967,1.065)" font-size="23" fill="#000" stroke="#000" stroke-width="0.34">3</text>
<text transform="translate(795.50,277.41) rotate(-90) scale(1.138,1.044)" font-size="34" fill="#000" stroke="#000" stroke-width="0.32">Ω</text>
<text transform="translate(780.60,248.60) rotate(-90) scale(0.904,1.098)" font-size="23" fill="#000" stroke="#000" stroke-width="0.35">-1</text>
<text transform="translate(794.74,228.12) rotate(-90) scale(1.080,1.043)" font-size="34" fill="#000" stroke="#000" stroke-width="0.33">cm</text>
<text transform="translate(779.80,180.29) rotate(-90) scale(0.893,1.073)" font-size="23" fill="#000" stroke="#000" stroke-width="0.36">-1</text>
<text transform="translate(794.99,156.02) rotate(-90) scale(0.889,1.073)" font-size="34" fill="#000" stroke="#000" stroke-width="0.36">)</text>
<text transform="translate(881.88,175.60) scale(0.979,1.009)" font-size="32" fill="#000" stroke="#000" stroke-width="0.35"><tspan font-style="italic">I</tspan></text>
<text transform="translate(898.45,175.47) scale(0.927,0.967)" font-size="32" fill="#000" stroke="#000" stroke-width="0.37">||</text>
<text transform="translate(922.32,175.46) scale(0.977,0.953)" font-size="32" fill="#000" stroke="#000" stroke-width="0.36"><tspan font-style="italic">c</tspan>-axis</text>
<text transform="translate(881.61,214.70) scale(0.991,1.009)" font-size="32" fill="#000" stroke="#000" stroke-width="0.35"><tspan font-style="italic">H</tspan></text>
<text transform="translate(912.50,214.26) scale(0.909,0.953)" font-size="32" fill="#000" stroke="#000" stroke-width="0.38">||</text>
<text transform="translate(936.06,214.39) scale(0.987,0.955)" font-size="32" fill="#000" stroke="#000" stroke-width="0.36"><tspan font-style="italic">ab</tspan>-plane</text>
<text transform="translate(1170.62,102.04) scale(1.016,1.030)" font-size="31" fill="#7000d8" stroke="#7000d8" stroke-width="0.34">100</text>
<text transform="translate(1260.54,102.65) scale(1.009,1.002)" font-size="31" fill="#f08028" stroke="#f08028" stroke-width="0.35">80</text>
<text transform="translate(1292.41,180.15) scale(0.995,0.984)" font-size="31" fill="#00ffff" stroke="#00ffff" stroke-width="0.35">60</text>
<text transform="translate(1289.22,249.95) scale(1.046,0.989)" font-size="31" fill="#008000" stroke="#008000" stroke-width="0.34">40</text>
<text transform="translate(1204.25,346.04) scale(1.002,1.039)" font-size="31" fill="#ff0000" stroke="#ff0000" stroke-width="0.34">1.8 K</text>
<text transform="translate(1255.45,405.65) scale(1.033,1.007)" font-size="31" fill="#0000ff" stroke="#0000ff" stroke-width="0.34">20</text>
<text transform="translate(879.80,254.94) scale(1.062,1.032)" font-size="22" fill="#000" stroke="#000" stroke-width="0.33">0.0</text>
<text transform="translate(912.33,478.24) scale(1.029,1.039)" font-size="22" fill="#000" stroke="#000" stroke-width="0.34">0</text>
<text transform="translate(1154.70,264.14) scale(1.087,1.047)" font-size="24" fill="#7000d8" stroke="#7000d8" stroke-width="0.33">100</text>
<text transform="translate(1155.75,300.34) scale(1.105,1.053)" font-size="24" fill="#008000" stroke="#008000" stroke-width="0.32">40</text>
<text transform="translate(1116.76,390.84) scale(1.020,1.047)" font-size="26" fill="#ff0000" stroke="#ff0000" stroke-width="0.34">1.8 K</text>
<text transform="translate(978.41,440.37) scale(1.054,0.907)" font-size="26" fill="#000" stroke="#000" stroke-width="0.36"><tspan font-style="italic">σ</tspan></text>
<text transform="translate(997.39,429.34) scale(1.084,1.033)" font-size="17" fill="#000" stroke="#000" stroke-width="0.33">OHE</text>
<text transform="translate(1035.96,439.22) scale(0.988,0.988)" font-size="26" fill="#000" stroke="#000" stroke-width="0.35">+</text>
<text transform="translate(1052.91,440.37) scale(1.048,0.907)" font-size="26" fill="#000" stroke="#000" stroke-width="0.36"><tspan font-style="italic">σ</tspan></text>
<text transform="translate(1071.90,429.60) scale(1.074,1.055)" font-size="17" fill="#000" stroke="#000" stroke-width="0.33">AHE</text>
<text transform="translate(1123.04,439.76) scale(1.043,0.958)" font-size="26" fill="#000" stroke="#000" stroke-width="0.35">fit</text>
<text transform="translate(169.29,66.64) scale(1.036,1.042)" font-size="34" fill="#000" stroke="#000" stroke-width="0.34">-20</text>
<text transform="translate(274.23,66.64) scale(1.036,1.042)" font-size="34" fill="#000" stroke="#000" stroke-width="0.34">-10</text>
<text transform="translate(394.96,66.64) scale(1.036,1.042)" font-size="34" fill="#000" stroke="#000" stroke-width="0.34">0</text>
<text transform="translate(489.41,66.64) scale(1.036,1.042)" font-size="34" fill="#000" stroke="#000" stroke-width="0.34">10</text>
<text transform="translate(594.74,66.64) scale(1.036,1.042)" font-size="34" fill="#000" stroke="#000" stroke-width="0.34">20</text>
<text transform="translate(56.86,505.39) scale(0.974,1.054)" font-size="34" fill="#000" stroke="#000" stroke-width="0.35">0</text>
<text transform="translate(57.10,410.45) scale(0.974,1.054)" font-size="34" fill="#000" stroke="#000" stroke-width="0.35">2</text>
<text transform="translate(56.86,219.79) scale(0.974,1.054)" font-size="34" fill="#000" stroke="#000" stroke-width="0.35">6</text>
<text transform="translate(56.86,124.59) scale(0.974,1.054)" font-size="34" fill="#000" stroke="#000" stroke-width="0.35">8</text>
<text transform="translate(161.90,535.05) scale(1.011,1.008)" font-size="34" fill="#000" stroke="#000" stroke-width="0.35">0.17</text>
<text transform="translate(266.72,535.05) scale(1.011,1.008)" font-size="34" fill="#000" stroke="#000" stroke-width="0.35">0.18</text>
<text transform="translate(371.78,535.05) scale(1.011,1.008)" font-size="34" fill="#000" stroke="#000" stroke-width="0.35">0.19</text>
<text transform="translate(476.60,535.05) scale(1.011,1.008)" font-size="34" fill="#000" stroke="#000" stroke-width="0.35">0.20</text>
<text transform="translate(581.66,535.05) scale(1.011,1.008)" font-size="34" fill="#000" stroke="#000" stroke-width="0.35">0.21</text>
<text transform="translate(819.29,218.55) scale(0.972,0.929)" font-size="34" fill="#000" stroke="#000" stroke-width="0.37">-1</text>
<text transform="translate(819.29,289.00) scale(0.972,0.929)" font-size="34" fill="#000" stroke="#000" stroke-width="0.37">-2</text>
<text transform="translate(819.05,359.22) scale(0.972,0.929)" font-size="34" fill="#000" stroke="#000" stroke-width="0.37">-3</text>
<text transform="translate(818.56,429.90) scale(0.972,0.929)" font-size="34" fill="#000" stroke="#000" stroke-width="0.37">-4</text>
<text transform="translate(819.05,500.12) scale(0.972,0.929)" font-size="34" fill="#000" stroke="#000" stroke-width="0.37">-5</text>
<text transform="translate(858.07,534.05) scale(0.985,1.017)" font-size="34" fill="#000" stroke="#000" stroke-width="0.35">0</text>
<text transform="translate(909.74,534.30) scale(0.985,1.017)" font-size="34" fill="#000" stroke="#000" stroke-width="0.35">1</text>
<text transform="translate(962.27,534.30) scale(0.985,1.017)" font-size="34" fill="#000" stroke="#000" stroke-width="0.35">2</text>
<text transform="translate(1066.71,534.30) scale(0.985,1.017)" font-size="34" fill="#000" stroke="#000" stroke-width="0.35">4</text>
<text transform="translate(1118.75,534.05) scale(0.985,1.017)" font-size="34" fill="#000" stroke="#000" stroke-width="0.35">5</text>
<text transform="translate(1170.78,534.05) scale(0.985,1.017)" font-size="34" fill="#000" stroke="#000" stroke-width="0.35">6</text>
<text transform="translate(1223.07,534.30) scale(0.985,1.017)" font-size="34" fill="#000" stroke="#000" stroke-width="0.35">7</text>
<text transform="translate(1275.23,534.05) scale(0.985,1.017)" font-size="34" fill="#000" stroke="#000" stroke-width="0.35">8</text>
<text transform="translate(1327.51,534.05) scale(0.985,1.017)" font-size="34" fill="#000" stroke="#000" stroke-width="0.35">9</text>
<text transform="translate(872.10,316.55) scale(1.062,1.032)" font-size="22" fill="#000" stroke="#000" stroke-width="0.33">-1.5</text>
<text transform="translate(872.10,378.15) scale(1.062,1.032)" font-size="22" fill="#000" stroke="#000" stroke-width="0.33">-3.0</text>
<text transform="translate(872.10,439.76) scale(1.062,1.032)" font-size="22" fill="#000" stroke="#000" stroke-width="0.33">-4.5</text>
<text transform="translate(1006.19,478.24) scale(1.029,1.039)" font-size="22" fill="#000" stroke="#000" stroke-width="0.34">3</text>
<text transform="translate(1100.18,478.24) scale(1.029,1.039)" font-size="22" fill="#000" stroke="#000" stroke-width="0.34">6</text>
<text transform="translate(1194.17,478.24) scale(1.029,1.039)" font-size="22" fill="#000" stroke="#000" stroke-width="0.34">9</text>
</svg></div></body></html>
